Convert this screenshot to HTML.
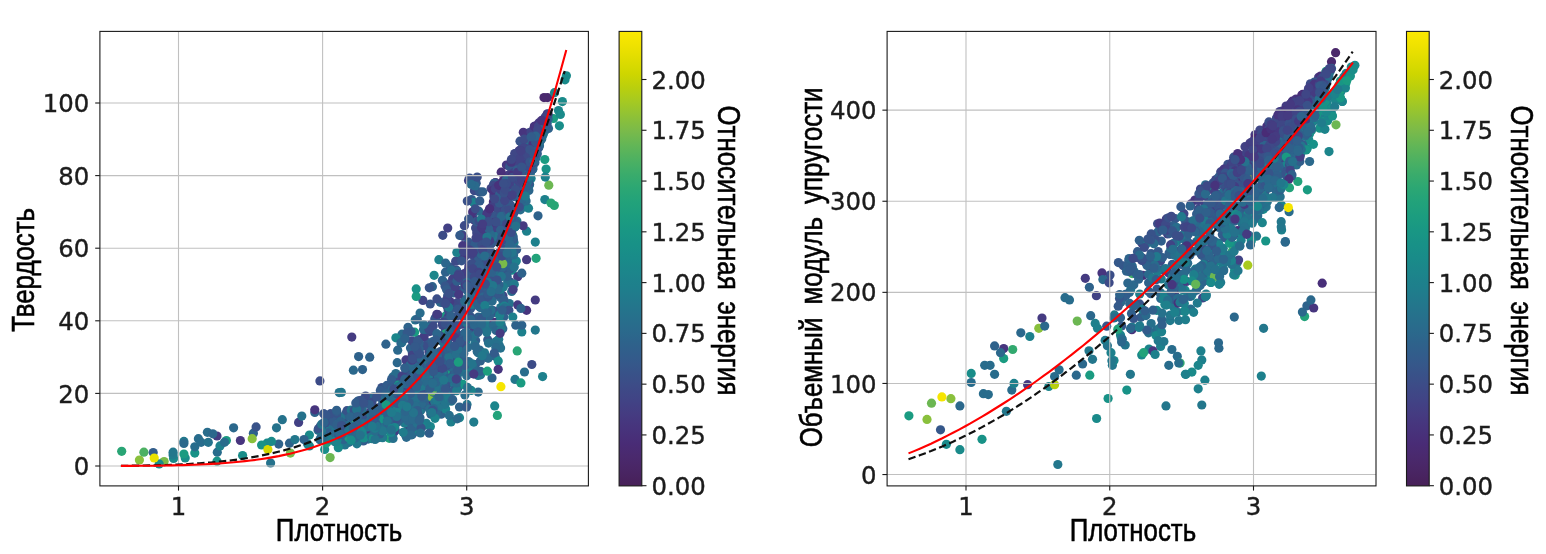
<!DOCTYPE html>
<html lang="ru"><head><meta charset="utf-8"><title>Плотность</title>
<style>html,body{margin:0;padding:0;background:#fff}svg{display:block;will-change:transform}</style></head>
<body>
<svg width="1546" height="554" viewBox="0 0 1546 554">
<defs><linearGradient id="vg" x1="0" y1="1" x2="0" y2="0">
<stop offset="0.0000" stop-color="#472058"/>
<stop offset="0.0312" stop-color="#492563"/>
<stop offset="0.0625" stop-color="#4a296d"/>
<stop offset="0.0938" stop-color="#492c76"/>
<stop offset="0.1250" stop-color="#47337c"/>
<stop offset="0.1562" stop-color="#453b81"/>
<stop offset="0.1875" stop-color="#414385"/>
<stop offset="0.2188" stop-color="#3d4b87"/>
<stop offset="0.2500" stop-color="#385389"/>
<stop offset="0.2812" stop-color="#335b8b"/>
<stop offset="0.3125" stop-color="#2e628b"/>
<stop offset="0.3438" stop-color="#2a6a8c"/>
<stop offset="0.3750" stop-color="#26718c"/>
<stop offset="0.4062" stop-color="#22788c"/>
<stop offset="0.4375" stop-color="#1e7f8c"/>
<stop offset="0.4688" stop-color="#1c858b"/>
<stop offset="0.5000" stop-color="#198b89"/>
<stop offset="0.5312" stop-color="#189187"/>
<stop offset="0.5625" stop-color="#199784"/>
<stop offset="0.5938" stop-color="#1c9d7f"/>
<stop offset="0.6250" stop-color="#22a27a"/>
<stop offset="0.6562" stop-color="#2ca773"/>
<stop offset="0.6875" stop-color="#3bac6b"/>
<stop offset="0.7188" stop-color="#4eb161"/>
<stop offset="0.7500" stop-color="#63b656"/>
<stop offset="0.7812" stop-color="#7aba4a"/>
<stop offset="0.8125" stop-color="#8ec137"/>
<stop offset="0.8438" stop-color="#a4c923"/>
<stop offset="0.8750" stop-color="#b9cf0e"/>
<stop offset="0.9062" stop-color="#ced600"/>
<stop offset="0.9375" stop-color="#dfdc00"/>
<stop offset="0.9688" stop-color="#efe200"/>
<stop offset="1.0000" stop-color="#fbe800"/>
</linearGradient>
<clipPath id="cl"><rect x="99.9" y="31.4" width="488.5" height="454.5"/></clipPath>
<clipPath id="cr"><rect x="887.1" y="31.4" width="488.9" height="454.5"/></clipPath>
</defs>
<rect width="1546" height="554" fill="#fff"/>
<g clip-path="url(#cl)">
<circle cx="460.4" cy="343.2" r="4.6" fill="#2b698c"/><circle cx="470.6" cy="297.1" r="4.6" fill="#3d4a87"/><circle cx="491.1" cy="277.3" r="4.6" fill="#276f8c"/><circle cx="523.4" cy="171.8" r="4.6" fill="#36568a"/><circle cx="467.0" cy="404.4" r="4.6" fill="#24738c"/><circle cx="538.1" cy="134.2" r="4.6" fill="#453980"/><circle cx="516.4" cy="208.8" r="4.6" fill="#305f8b"/><circle cx="429.9" cy="401.2" r="4.6" fill="#30608b"/><circle cx="407.3" cy="400.9" r="4.6" fill="#2f618b"/><circle cx="499.1" cy="345.1" r="4.6" fill="#25728c"/><circle cx="351.8" cy="337.1" r="4.6" fill="#453b81"/><circle cx="457.9" cy="380.8" r="4.6" fill="#1d818c"/><circle cx="474.3" cy="249.4" r="4.6" fill="#3b4c88"/><circle cx="349.0" cy="442.3" r="4.6" fill="#286c8c"/><circle cx="337.2" cy="441.4" r="4.6" fill="#276f8c"/><circle cx="432.4" cy="286.7" r="4.6" fill="#2e628b"/><circle cx="387.2" cy="429.6" r="4.6" fill="#21798c"/><circle cx="511.5" cy="168.1" r="4.6" fill="#453a81"/><circle cx="467.6" cy="300.5" r="4.6" fill="#22798c"/><circle cx="405.2" cy="419.3" r="4.6" fill="#2d658c"/><circle cx="353.5" cy="435.8" r="4.6" fill="#276e8c"/><circle cx="509.6" cy="237.0" r="4.6" fill="#30608b"/><circle cx="415.2" cy="319.9" r="4.6" fill="#25728c"/><circle cx="339.5" cy="434.8" r="4.6" fill="#25728c"/><circle cx="363.3" cy="424.2" r="4.6" fill="#276f8c"/><circle cx="496.3" cy="342.0" r="4.6" fill="#1f7d8c"/><circle cx="529.7" cy="134.6" r="4.6" fill="#47347d"/><circle cx="481.5" cy="233.6" r="4.6" fill="#3d4a87"/><circle cx="430.4" cy="426.5" r="4.6" fill="#1b878b"/><circle cx="400.9" cy="379.2" r="4.6" fill="#2e628b"/><circle cx="498.2" cy="312.5" r="4.6" fill="#217a8c"/><circle cx="513.6" cy="181.6" r="4.6" fill="#453980"/><circle cx="501.6" cy="236.8" r="4.6" fill="#2d648c"/><circle cx="415.1" cy="362.0" r="4.6" fill="#453980"/><circle cx="545.6" cy="124.9" r="4.6" fill="#2e628b"/><circle cx="440.3" cy="302.3" r="4.6" fill="#2b688c"/><circle cx="463.2" cy="371.4" r="4.6" fill="#24748c"/><circle cx="364.9" cy="436.9" r="4.6" fill="#22778c"/><circle cx="458.5" cy="383.1" r="4.6" fill="#37558a"/><circle cx="389.3" cy="422.6" r="4.6" fill="#25728c"/><circle cx="380.7" cy="393.0" r="4.6" fill="#3d4b87"/><circle cx="475.5" cy="364.6" r="4.6" fill="#34598a"/><circle cx="479.6" cy="291.6" r="4.6" fill="#345a8a"/><circle cx="404.7" cy="407.5" r="4.6" fill="#2d658c"/><circle cx="527.7" cy="152.3" r="4.6" fill="#404586"/><circle cx="397.7" cy="350.2" r="4.6" fill="#2b688c"/><circle cx="518.5" cy="198.1" r="4.6" fill="#2b688c"/><circle cx="488.5" cy="297.0" r="4.6" fill="#2f618b"/><circle cx="487.7" cy="339.7" r="4.6" fill="#34598a"/><circle cx="488.3" cy="357.9" r="4.6" fill="#36568a"/><circle cx="343.5" cy="419.6" r="4.6" fill="#2b698c"/><circle cx="444.2" cy="348.4" r="4.6" fill="#21798c"/><circle cx="500.7" cy="236.6" r="4.6" fill="#443d82"/><circle cx="462.0" cy="257.9" r="4.6" fill="#25728c"/><circle cx="387.0" cy="391.2" r="4.6" fill="#2a6a8c"/><circle cx="503.0" cy="301.2" r="4.6" fill="#22778c"/><circle cx="390.6" cy="418.0" r="4.6" fill="#23778c"/><circle cx="423.4" cy="390.6" r="4.6" fill="#198d89"/><circle cx="406.2" cy="413.2" r="4.6" fill="#3a5088"/><circle cx="475.6" cy="228.0" r="4.6" fill="#3c4b87"/><circle cx="416.2" cy="370.9" r="4.6" fill="#25728c"/><circle cx="458.9" cy="341.4" r="4.6" fill="#315e8b"/><circle cx="459.6" cy="290.7" r="4.6" fill="#3b4e88"/><circle cx="470.4" cy="321.3" r="4.6" fill="#305f8b"/><circle cx="474.4" cy="190.7" r="4.6" fill="#3d4a87"/><circle cx="396.5" cy="382.0" r="4.6" fill="#2e638c"/><circle cx="451.2" cy="336.6" r="4.6" fill="#35588a"/><circle cx="444.6" cy="371.7" r="4.6" fill="#35578a"/><circle cx="546.2" cy="121.1" r="4.6" fill="#3b4d88"/><circle cx="456.5" cy="270.2" r="4.6" fill="#3b4e88"/><circle cx="372.4" cy="406.8" r="4.6" fill="#395189"/><circle cx="351.5" cy="430.5" r="4.6" fill="#305f8b"/><circle cx="488.3" cy="320.4" r="4.6" fill="#2a6a8c"/><circle cx="459.9" cy="363.5" r="4.6" fill="#315e8b"/><circle cx="443.0" cy="375.9" r="4.6" fill="#37558a"/><circle cx="501.1" cy="192.2" r="4.6" fill="#47337c"/><circle cx="520.7" cy="208.8" r="4.6" fill="#2a6a8c"/><circle cx="529.6" cy="184.8" r="4.6" fill="#26708c"/><circle cx="390.6" cy="405.7" r="4.6" fill="#325d8b"/><circle cx="459.4" cy="354.7" r="4.6" fill="#34598a"/><circle cx="507.7" cy="249.2" r="4.6" fill="#24748c"/><circle cx="530.4" cy="160.5" r="4.6" fill="#3a5088"/><circle cx="479.6" cy="350.1" r="4.6" fill="#2c668c"/><circle cx="456.4" cy="338.6" r="4.6" fill="#286d8c"/><circle cx="464.9" cy="284.9" r="4.6" fill="#189486"/><circle cx="374.8" cy="419.1" r="4.6" fill="#335b8b"/><circle cx="375.6" cy="422.9" r="4.6" fill="#1e7f8c"/><circle cx="370.9" cy="430.5" r="4.6" fill="#1a898a"/><circle cx="445.4" cy="316.2" r="4.6" fill="#1b9b80"/><circle cx="477.7" cy="235.7" r="4.6" fill="#463880"/><circle cx="373.1" cy="431.9" r="4.6" fill="#24748c"/><circle cx="372.9" cy="398.3" r="4.6" fill="#2e638c"/><circle cx="531.1" cy="178.5" r="4.6" fill="#1d818c"/><circle cx="389.3" cy="438.3" r="4.6" fill="#1f9f7c"/><circle cx="417.0" cy="412.7" r="4.6" fill="#315e8b"/><circle cx="508.4" cy="224.2" r="4.6" fill="#35588a"/><circle cx="513.7" cy="163.3" r="4.6" fill="#424084"/><circle cx="344.9" cy="444.9" r="4.6" fill="#24748c"/><circle cx="520.0" cy="186.9" r="4.6" fill="#296b8c"/><circle cx="535.4" cy="139.8" r="4.6" fill="#3e4987"/><circle cx="326.9" cy="428.6" r="4.6" fill="#23758c"/><circle cx="534.9" cy="162.8" r="4.6" fill="#2d658c"/><circle cx="505.3" cy="221.9" r="4.6" fill="#424084"/><circle cx="424.0" cy="387.3" r="4.6" fill="#36568a"/><circle cx="368.8" cy="415.3" r="4.6" fill="#3a4f88"/><circle cx="185.2" cy="458.0" r="4.6" fill="#198d89"/><circle cx="468.6" cy="283.3" r="4.6" fill="#37558a"/><circle cx="516.8" cy="156.1" r="4.6" fill="#492e78"/><circle cx="351.0" cy="436.4" r="4.6" fill="#1e7f8c"/><circle cx="486.2" cy="292.9" r="4.6" fill="#36568a"/><circle cx="449.8" cy="359.6" r="4.6" fill="#305f8b"/><circle cx="532.4" cy="160.9" r="4.6" fill="#37558a"/><circle cx="314.8" cy="412.5" r="4.6" fill="#2e628b"/><circle cx="444.5" cy="348.6" r="4.6" fill="#23768c"/><circle cx="479.6" cy="191.9" r="4.6" fill="#35578a"/><circle cx="324.7" cy="449.5" r="4.6" fill="#198d89"/><circle cx="462.4" cy="348.4" r="4.6" fill="#24748c"/><circle cx="478.6" cy="236.0" r="4.6" fill="#46367e"/><circle cx="364.9" cy="433.4" r="4.6" fill="#1e7f8c"/><circle cx="298.6" cy="422.4" r="4.6" fill="#424084"/><circle cx="434.9" cy="364.2" r="4.6" fill="#385289"/><circle cx="382.5" cy="418.6" r="4.6" fill="#335b8b"/><circle cx="488.3" cy="241.2" r="4.6" fill="#443d82"/><circle cx="482.6" cy="328.7" r="4.6" fill="#1f7e8c"/><circle cx="524.7" cy="165.6" r="4.6" fill="#325d8b"/><circle cx="408.8" cy="418.1" r="4.6" fill="#24748c"/><circle cx="439.9" cy="370.9" r="4.6" fill="#3b4e88"/><circle cx="472.6" cy="324.2" r="4.6" fill="#296b8c"/><circle cx="509.9" cy="281.8" r="4.6" fill="#385289"/><circle cx="329.0" cy="437.2" r="4.6" fill="#23778c"/><circle cx="359.5" cy="435.6" r="4.6" fill="#325d8b"/><circle cx="532.1" cy="149.6" r="4.6" fill="#325c8b"/><circle cx="480.6" cy="374.8" r="4.6" fill="#25728c"/><circle cx="469.5" cy="277.4" r="4.6" fill="#482f79"/><circle cx="423.2" cy="371.8" r="4.6" fill="#3d4a87"/><circle cx="426.0" cy="377.6" r="4.6" fill="#286c8c"/><circle cx="455.6" cy="346.7" r="4.6" fill="#3e4987"/><circle cx="512.8" cy="216.1" r="4.6" fill="#395189"/><circle cx="544.4" cy="126.6" r="4.6" fill="#3e4886"/><circle cx="343.9" cy="434.6" r="4.6" fill="#23778c"/><circle cx="386.1" cy="427.1" r="4.6" fill="#24738c"/><circle cx="502.9" cy="295.7" r="4.6" fill="#404586"/><circle cx="528.5" cy="186.3" r="4.6" fill="#24748c"/><circle cx="544.8" cy="118.0" r="4.6" fill="#3b4d88"/><circle cx="447.4" cy="357.0" r="4.6" fill="#2f618b"/><circle cx="240.4" cy="440.5" r="4.6" fill="#47357e"/><circle cx="452.9" cy="364.4" r="4.6" fill="#24738c"/><circle cx="242.6" cy="455.5" r="4.6" fill="#198d89"/><circle cx="391.0" cy="403.7" r="4.6" fill="#3a4f88"/><circle cx="475.1" cy="256.4" r="4.6" fill="#2e628b"/><circle cx="441.9" cy="341.3" r="4.6" fill="#325d8b"/><circle cx="512.4" cy="192.1" r="4.6" fill="#3e4987"/><circle cx="522.1" cy="200.8" r="4.6" fill="#35578a"/><circle cx="468.6" cy="361.5" r="4.6" fill="#296b8c"/><circle cx="538.9" cy="127.3" r="4.6" fill="#3b4e88"/><circle cx="407.2" cy="399.2" r="4.6" fill="#25728c"/><circle cx="374.7" cy="414.5" r="4.6" fill="#2d648c"/><circle cx="469.8" cy="305.9" r="4.6" fill="#404485"/><circle cx="430.9" cy="414.2" r="4.6" fill="#2e628b"/><circle cx="500.9" cy="386.7" r="4.6" fill="#f6e500"/><circle cx="437.3" cy="397.7" r="4.6" fill="#2d658c"/><circle cx="455.1" cy="275.0" r="4.6" fill="#2d648c"/><circle cx="469.6" cy="247.4" r="4.6" fill="#3d4b87"/><circle cx="226.4" cy="440.5" r="4.6" fill="#1a9b81"/><circle cx="512.3" cy="234.5" r="4.6" fill="#4cb062"/><circle cx="520.4" cy="159.6" r="4.6" fill="#414385"/><circle cx="428.9" cy="352.1" r="4.6" fill="#433e83"/><circle cx="421.9" cy="408.1" r="4.6" fill="#47367e"/><circle cx="545.8" cy="126.6" r="4.6" fill="#305f8b"/><circle cx="437.8" cy="314.7" r="4.6" fill="#443d82"/><circle cx="521.9" cy="187.7" r="4.6" fill="#3b4d88"/><circle cx="420.9" cy="401.6" r="4.6" fill="#1c848b"/><circle cx="426.5" cy="404.0" r="4.6" fill="#34598a"/><circle cx="430.3" cy="348.8" r="4.6" fill="#443c82"/><circle cx="473.2" cy="213.2" r="4.6" fill="#385289"/><circle cx="427.0" cy="380.6" r="4.6" fill="#2d658c"/><circle cx="380.8" cy="406.4" r="4.6" fill="#3d4a87"/><circle cx="427.7" cy="342.5" r="4.6" fill="#36568a"/><circle cx="510.3" cy="222.0" r="4.6" fill="#375489"/><circle cx="381.8" cy="387.5" r="4.6" fill="#385289"/><circle cx="432.7" cy="397.7" r="4.6" fill="#25728c"/><circle cx="487.4" cy="296.7" r="4.6" fill="#2d648c"/><circle cx="353.3" cy="436.0" r="4.6" fill="#2c668c"/><circle cx="473.6" cy="326.7" r="4.6" fill="#35588a"/><circle cx="423.1" cy="405.2" r="4.6" fill="#2f618b"/><circle cx="332.3" cy="439.0" r="4.6" fill="#21798c"/><circle cx="516.9" cy="190.2" r="4.6" fill="#424084"/><circle cx="430.2" cy="304.0" r="4.6" fill="#375489"/><circle cx="500.1" cy="323.6" r="4.6" fill="#2f618b"/><circle cx="484.5" cy="326.7" r="4.6" fill="#217a8c"/><circle cx="509.0" cy="191.2" r="4.6" fill="#395189"/><circle cx="424.1" cy="425.3" r="4.6" fill="#1d828c"/><circle cx="491.1" cy="188.5" r="4.6" fill="#414385"/><circle cx="498.1" cy="204.6" r="4.6" fill="#3b4d88"/><circle cx="433.8" cy="386.6" r="4.6" fill="#24748c"/><circle cx="419.7" cy="375.6" r="4.6" fill="#34598a"/><circle cx="393.5" cy="431.3" r="4.6" fill="#23758c"/><circle cx="408.1" cy="423.0" r="4.6" fill="#26718c"/><circle cx="500.7" cy="307.6" r="4.6" fill="#26718c"/><circle cx="413.2" cy="432.8" r="4.6" fill="#47357e"/><circle cx="379.7" cy="410.6" r="4.6" fill="#2d648c"/><circle cx="448.1" cy="310.1" r="4.6" fill="#2e638c"/><circle cx="434.1" cy="275.3" r="4.6" fill="#1c858b"/><circle cx="509.3" cy="270.4" r="4.6" fill="#2c678c"/><circle cx="435.2" cy="378.1" r="4.6" fill="#305f8b"/><circle cx="448.9" cy="303.9" r="4.6" fill="#3e4987"/><circle cx="466.1" cy="340.7" r="4.6" fill="#1d808c"/><circle cx="450.0" cy="380.1" r="4.6" fill="#23768c"/><circle cx="485.3" cy="288.9" r="4.6" fill="#325d8b"/><circle cx="496.1" cy="341.6" r="4.6" fill="#25728c"/><circle cx="393.9" cy="432.2" r="4.6" fill="#296b8c"/><circle cx="372.4" cy="415.0" r="4.6" fill="#404586"/><circle cx="325.5" cy="436.5" r="4.6" fill="#22798c"/><circle cx="523.8" cy="204.1" r="4.6" fill="#1c848b"/><circle cx="421.1" cy="410.0" r="4.6" fill="#25728c"/><circle cx="493.0" cy="267.1" r="4.6" fill="#3e4886"/><circle cx="495.5" cy="219.5" r="4.6" fill="#3f4786"/><circle cx="484.6" cy="266.5" r="4.6" fill="#325c8b"/><circle cx="518.0" cy="208.2" r="4.6" fill="#34598a"/><circle cx="501.4" cy="198.4" r="4.6" fill="#404586"/><circle cx="453.4" cy="346.5" r="4.6" fill="#375489"/><circle cx="449.6" cy="301.4" r="4.6" fill="#3b4e88"/><circle cx="517.2" cy="350.9" r="4.6" fill="#29a575"/><circle cx="498.1" cy="211.2" r="4.6" fill="#404485"/><circle cx="431.0" cy="412.3" r="4.6" fill="#2e638c"/><circle cx="407.9" cy="424.9" r="4.6" fill="#47357e"/><circle cx="537.7" cy="128.6" r="4.6" fill="#443d82"/><circle cx="326.9" cy="429.5" r="4.6" fill="#2f618b"/><circle cx="458.2" cy="387.5" r="4.6" fill="#3a4f88"/><circle cx="498.1" cy="323.2" r="4.6" fill="#25728c"/><circle cx="434.2" cy="395.4" r="4.6" fill="#2a6a8c"/><circle cx="445.5" cy="272.2" r="4.6" fill="#2e628b"/><circle cx="368.8" cy="426.8" r="4.6" fill="#2b688c"/><circle cx="460.6" cy="366.6" r="4.6" fill="#25728c"/><circle cx="437.9" cy="377.5" r="4.6" fill="#414385"/><circle cx="498.7" cy="339.3" r="4.6" fill="#23778c"/><circle cx="363.2" cy="422.0" r="4.6" fill="#2e638c"/><circle cx="424.2" cy="394.9" r="4.6" fill="#37558a"/><circle cx="183.9" cy="454.0" r="4.6" fill="#1a9b81"/><circle cx="538.2" cy="147.8" r="4.6" fill="#296b8c"/><circle cx="444.6" cy="282.9" r="4.6" fill="#2a6a8c"/><circle cx="346.6" cy="414.0" r="4.6" fill="#2e628b"/><circle cx="436.9" cy="389.5" r="4.6" fill="#24748c"/><circle cx="523.7" cy="162.4" r="4.6" fill="#34598a"/><circle cx="469.1" cy="321.7" r="4.6" fill="#22778c"/><circle cx="434.0" cy="386.7" r="4.6" fill="#2e628b"/><circle cx="520.4" cy="209.8" r="4.6" fill="#286d8c"/><circle cx="520.7" cy="186.6" r="4.6" fill="#35578a"/><circle cx="401.7" cy="378.5" r="4.6" fill="#23768c"/><circle cx="523.7" cy="182.5" r="4.6" fill="#3a4f88"/><circle cx="390.6" cy="416.5" r="4.6" fill="#1b878b"/><circle cx="276.5" cy="427.8" r="4.6" fill="#25728c"/><circle cx="535.4" cy="136.8" r="4.6" fill="#433f83"/><circle cx="474.5" cy="220.3" r="4.6" fill="#47347d"/><circle cx="320.3" cy="426.4" r="4.6" fill="#3b4d88"/><circle cx="362.5" cy="369.6" r="4.6" fill="#2e628b"/><circle cx="478.1" cy="352.7" r="4.6" fill="#23768c"/><circle cx="377.8" cy="417.0" r="4.6" fill="#24748c"/><circle cx="449.0" cy="378.9" r="4.6" fill="#414285"/><circle cx="494.1" cy="269.9" r="4.6" fill="#385289"/><circle cx="527.2" cy="179.3" r="4.6" fill="#2e628b"/><circle cx="516.9" cy="221.0" r="4.6" fill="#23768c"/><circle cx="425.3" cy="397.4" r="4.6" fill="#22788c"/><circle cx="519.7" cy="173.8" r="4.6" fill="#453a81"/><circle cx="371.9" cy="417.7" r="4.6" fill="#3f4686"/><circle cx="418.6" cy="339.5" r="4.6" fill="#3b4d88"/><circle cx="488.1" cy="234.3" r="4.6" fill="#3e4886"/><circle cx="494.7" cy="405.9" r="4.6" fill="#1c858b"/><circle cx="462.1" cy="309.4" r="4.6" fill="#3c4b87"/><circle cx="497.6" cy="321.8" r="4.6" fill="#198d89"/><circle cx="484.8" cy="248.1" r="4.6" fill="#3f4786"/><circle cx="488.5" cy="261.8" r="4.6" fill="#305f8b"/><circle cx="462.7" cy="324.2" r="4.6" fill="#433e83"/><circle cx="350.7" cy="439.2" r="4.6" fill="#1a8a8a"/><circle cx="540.8" cy="140.2" r="4.6" fill="#315e8b"/><circle cx="511.6" cy="245.4" r="4.6" fill="#315e8b"/><circle cx="472.7" cy="365.2" r="4.6" fill="#286d8c"/><circle cx="437.3" cy="383.3" r="4.6" fill="#22798c"/><circle cx="411.3" cy="375.4" r="4.6" fill="#315e8b"/><circle cx="335.8" cy="435.8" r="4.6" fill="#2b688c"/><circle cx="502.6" cy="185.7" r="4.6" fill="#2c678c"/><circle cx="483.3" cy="229.6" r="4.6" fill="#3f4686"/><circle cx="344.1" cy="430.7" r="4.6" fill="#22798c"/><circle cx="355.1" cy="431.4" r="4.6" fill="#35578a"/><circle cx="503.7" cy="255.0" r="4.6" fill="#2d658c"/><circle cx="445.2" cy="384.0" r="4.6" fill="#286d8c"/><circle cx="501.2" cy="324.5" r="4.6" fill="#24748c"/><circle cx="383.8" cy="395.1" r="4.6" fill="#34598a"/><circle cx="506.4" cy="165.1" r="4.6" fill="#463880"/><circle cx="470.0" cy="293.1" r="4.6" fill="#3d4b87"/><circle cx="465.3" cy="318.6" r="4.6" fill="#414285"/><circle cx="515.8" cy="153.7" r="4.6" fill="#335c8b"/><circle cx="490.3" cy="218.4" r="4.6" fill="#3f4686"/><circle cx="139.4" cy="460.0" r="4.6" fill="#89c03c"/><circle cx="478.0" cy="324.1" r="4.6" fill="#2c678c"/><circle cx="420.4" cy="428.6" r="4.6" fill="#30608b"/><circle cx="441.2" cy="414.2" r="4.6" fill="#2f618b"/><circle cx="478.2" cy="392.1" r="4.6" fill="#296b8c"/><circle cx="446.9" cy="298.9" r="4.6" fill="#404586"/><circle cx="392.4" cy="419.8" r="4.6" fill="#3d4a87"/><circle cx="369.7" cy="357.2" r="4.6" fill="#2e628b"/><circle cx="477.8" cy="286.6" r="4.6" fill="#3a4f88"/><circle cx="496.2" cy="294.8" r="4.6" fill="#325c8b"/><circle cx="427.7" cy="366.7" r="4.6" fill="#3b4e88"/><circle cx="459.5" cy="407.0" r="4.6" fill="#2e628b"/><circle cx="378.3" cy="422.0" r="4.6" fill="#286e8c"/><circle cx="368.1" cy="439.1" r="4.6" fill="#2a6a8c"/><circle cx="526.6" cy="310.3" r="4.6" fill="#47357e"/><circle cx="491.3" cy="240.4" r="4.6" fill="#3e4987"/><circle cx="402.0" cy="334.2" r="4.6" fill="#2a6a8c"/><circle cx="519.1" cy="150.7" r="4.6" fill="#46377f"/><circle cx="528.7" cy="176.8" r="4.6" fill="#24738c"/><circle cx="335.0" cy="414.3" r="4.6" fill="#35578a"/><circle cx="494.1" cy="322.3" r="4.6" fill="#48327c"/><circle cx="457.5" cy="374.5" r="4.6" fill="#286d8c"/><circle cx="503.7" cy="259.0" r="4.6" fill="#2c668c"/><circle cx="447.1" cy="305.9" r="4.6" fill="#26708c"/><circle cx="411.8" cy="390.3" r="4.6" fill="#345a8a"/><circle cx="535.9" cy="127.5" r="4.6" fill="#433e83"/><circle cx="477.6" cy="351.2" r="4.6" fill="#26718c"/><circle cx="553.5" cy="118.5" r="4.6" fill="#1a9b81"/><circle cx="491.3" cy="236.1" r="4.6" fill="#375489"/><circle cx="350.7" cy="432.1" r="4.6" fill="#207b8c"/><circle cx="456.4" cy="345.2" r="4.6" fill="#315e8b"/><circle cx="391.4" cy="386.8" r="4.6" fill="#23778c"/><circle cx="217.3" cy="452.2" r="4.6" fill="#286c8c"/><circle cx="493.4" cy="201.7" r="4.6" fill="#492c77"/><circle cx="509.0" cy="203.3" r="4.6" fill="#395189"/><circle cx="492.8" cy="230.2" r="4.6" fill="#36568a"/><circle cx="495.7" cy="261.7" r="4.6" fill="#24748c"/><circle cx="463.7" cy="359.6" r="4.6" fill="#325c8b"/><circle cx="406.8" cy="381.6" r="4.6" fill="#276e8c"/><circle cx="507.8" cy="281.7" r="4.6" fill="#2a6a8c"/><circle cx="508.4" cy="252.9" r="4.6" fill="#296b8c"/><circle cx="481.4" cy="317.5" r="4.6" fill="#3b4c88"/><circle cx="414.2" cy="396.1" r="4.6" fill="#325c8b"/><circle cx="496.9" cy="191.5" r="4.6" fill="#414285"/><circle cx="545.9" cy="116.8" r="4.6" fill="#395189"/><circle cx="392.8" cy="376.9" r="4.6" fill="#2b688c"/><circle cx="453.3" cy="320.5" r="4.6" fill="#2c678c"/><circle cx="404.7" cy="423.2" r="4.6" fill="#207b8c"/><circle cx="451.3" cy="358.5" r="4.6" fill="#286c8c"/><circle cx="377.1" cy="415.4" r="4.6" fill="#26708c"/><circle cx="463.0" cy="384.4" r="4.6" fill="#189685"/><circle cx="530.1" cy="167.0" r="4.6" fill="#345a8a"/><circle cx="510.2" cy="267.8" r="4.6" fill="#2e628b"/><circle cx="468.7" cy="319.9" r="4.6" fill="#325d8b"/><circle cx="476.2" cy="183.3" r="4.6" fill="#34598a"/><circle cx="528.2" cy="156.7" r="4.6" fill="#404586"/><circle cx="432.5" cy="392.4" r="4.6" fill="#1b868b"/><circle cx="523.1" cy="141.8" r="4.6" fill="#47347d"/><circle cx="360.4" cy="440.2" r="4.6" fill="#2e638c"/><circle cx="529.0" cy="183.7" r="4.6" fill="#37558a"/><circle cx="467.6" cy="365.9" r="4.6" fill="#276f8c"/><circle cx="517.8" cy="152.5" r="4.6" fill="#3e4886"/><circle cx="358.0" cy="401.3" r="4.6" fill="#3e4886"/><circle cx="535.5" cy="134.8" r="4.6" fill="#404485"/><circle cx="478.5" cy="317.1" r="4.6" fill="#2f618b"/><circle cx="376.3" cy="413.9" r="4.6" fill="#2b688c"/><circle cx="309.4" cy="435.1" r="4.6" fill="#1a8a8a"/><circle cx="405.0" cy="433.9" r="4.6" fill="#25728c"/><circle cx="476.4" cy="273.3" r="4.6" fill="#3b4e88"/><circle cx="373.4" cy="396.8" r="4.6" fill="#2f618b"/><circle cx="514.7" cy="221.3" r="4.6" fill="#2e638c"/><circle cx="533.6" cy="137.2" r="4.6" fill="#443d82"/><circle cx="503.9" cy="248.6" r="4.6" fill="#3a5088"/><circle cx="409.5" cy="397.5" r="4.6" fill="#35578a"/><circle cx="514.0" cy="242.4" r="4.6" fill="#217a8c"/><circle cx="350.7" cy="430.0" r="4.6" fill="#23778c"/><circle cx="447.4" cy="384.1" r="4.6" fill="#414385"/><circle cx="496.5" cy="194.6" r="4.6" fill="#414285"/><circle cx="489.5" cy="274.4" r="4.6" fill="#22778c"/><circle cx="424.1" cy="336.6" r="4.6" fill="#433e83"/><circle cx="354.2" cy="413.6" r="4.6" fill="#35578a"/><circle cx="422.0" cy="398.0" r="4.6" fill="#2a6a8c"/><circle cx="429.0" cy="375.3" r="4.6" fill="#217a8c"/><circle cx="422.9" cy="300.4" r="4.6" fill="#3f4686"/><circle cx="528.9" cy="140.7" r="4.6" fill="#443d82"/><circle cx="512.2" cy="270.2" r="4.6" fill="#1a8a8a"/><circle cx="496.6" cy="238.4" r="4.6" fill="#404586"/><circle cx="397.2" cy="411.0" r="4.6" fill="#345a8a"/><circle cx="476.7" cy="232.9" r="4.6" fill="#3e4886"/><circle cx="530.1" cy="139.7" r="4.6" fill="#433e83"/><circle cx="473.9" cy="331.5" r="4.6" fill="#433e83"/><circle cx="434.2" cy="361.3" r="4.6" fill="#3a5088"/><circle cx="421.0" cy="368.5" r="4.6" fill="#2d658c"/><circle cx="528.6" cy="180.2" r="4.6" fill="#305f8b"/><circle cx="362.6" cy="427.7" r="4.6" fill="#276e8c"/><circle cx="495.4" cy="182.6" r="4.6" fill="#492c77"/><circle cx="537.3" cy="153.7" r="4.6" fill="#325c8b"/><circle cx="494.1" cy="312.5" r="4.6" fill="#325c8b"/><circle cx="326.7" cy="442.7" r="4.6" fill="#1fa07c"/><circle cx="412.3" cy="380.0" r="4.6" fill="#482f79"/><circle cx="217.0" cy="436.0" r="4.6" fill="#453b81"/><circle cx="445.1" cy="350.3" r="4.6" fill="#305f8b"/><circle cx="537.3" cy="134.6" r="4.6" fill="#3a4f88"/><circle cx="495.6" cy="221.1" r="4.6" fill="#3d4a87"/><circle cx="529.7" cy="138.0" r="4.6" fill="#3b4c88"/><circle cx="525.6" cy="143.8" r="4.6" fill="#3f4686"/><circle cx="360.2" cy="403.1" r="4.6" fill="#37558a"/><circle cx="483.1" cy="276.2" r="4.6" fill="#335b8b"/><circle cx="530.1" cy="173.8" r="4.6" fill="#325d8b"/><circle cx="392.3" cy="382.2" r="4.6" fill="#35578a"/><circle cx="475.6" cy="340.5" r="4.6" fill="#315d8b"/><circle cx="328.1" cy="422.2" r="4.6" fill="#325d8b"/><circle cx="334.7" cy="431.6" r="4.6" fill="#30608b"/><circle cx="512.3" cy="236.2" r="4.6" fill="#345a8a"/><circle cx="491.1" cy="229.5" r="4.6" fill="#2d648c"/><circle cx="500.2" cy="294.4" r="4.6" fill="#276e8c"/><circle cx="445.0" cy="393.3" r="4.6" fill="#296b8c"/><circle cx="446.9" cy="330.4" r="4.6" fill="#34598a"/><circle cx="496.3" cy="344.3" r="4.6" fill="#276f8c"/><circle cx="405.9" cy="359.9" r="4.6" fill="#433e83"/><circle cx="463.5" cy="317.5" r="4.6" fill="#443d82"/><circle cx="467.4" cy="371.5" r="4.6" fill="#26708c"/><circle cx="441.9" cy="359.2" r="4.6" fill="#345a8a"/><circle cx="442.0" cy="398.2" r="4.6" fill="#2e628b"/><circle cx="374.2" cy="423.5" r="4.6" fill="#22798c"/><circle cx="331.0" cy="428.7" r="4.6" fill="#28a575"/><circle cx="520.6" cy="205.5" r="4.6" fill="#315e8b"/><circle cx="512.7" cy="181.5" r="4.6" fill="#385289"/><circle cx="514.9" cy="227.0" r="4.6" fill="#26708c"/><circle cx="425.3" cy="362.2" r="4.6" fill="#2b698c"/><circle cx="366.0" cy="425.5" r="4.6" fill="#25728c"/><circle cx="482.1" cy="242.0" r="4.6" fill="#47357e"/><circle cx="540.0" cy="139.8" r="4.6" fill="#2c678c"/><circle cx="441.2" cy="389.1" r="4.6" fill="#24748c"/><circle cx="474.6" cy="344.7" r="4.6" fill="#25728c"/><circle cx="465.7" cy="275.0" r="4.6" fill="#36568a"/><circle cx="455.3" cy="317.7" r="4.6" fill="#453980"/><circle cx="499.5" cy="212.3" r="4.6" fill="#335b8b"/><circle cx="267.0" cy="443.2" r="4.6" fill="#1a8a8a"/><circle cx="379.7" cy="429.0" r="4.6" fill="#2d648c"/><circle cx="546.9" cy="118.7" r="4.6" fill="#3a5088"/><circle cx="498.9" cy="200.3" r="4.6" fill="#414285"/><circle cx="461.5" cy="341.3" r="4.6" fill="#47357e"/><circle cx="358.6" cy="424.5" r="4.6" fill="#37558a"/><circle cx="345.5" cy="414.0" r="4.6" fill="#2f618b"/><circle cx="502.9" cy="256.8" r="4.6" fill="#24748c"/><circle cx="546.1" cy="169.0" r="4.6" fill="#189287"/><circle cx="384.1" cy="423.5" r="4.6" fill="#2d658c"/><circle cx="543.2" cy="131.6" r="4.6" fill="#30608b"/><circle cx="497.3" cy="276.1" r="4.6" fill="#35588a"/><circle cx="524.5" cy="190.8" r="4.6" fill="#23768c"/><circle cx="401.9" cy="410.9" r="4.6" fill="#21798c"/><circle cx="532.2" cy="163.4" r="4.6" fill="#2f618b"/><circle cx="445.5" cy="329.7" r="4.6" fill="#3b4e88"/><circle cx="447.7" cy="370.0" r="4.6" fill="#1c9d7f"/><circle cx="431.7" cy="371.2" r="4.6" fill="#26718c"/><circle cx="465.8" cy="273.4" r="4.6" fill="#305f8b"/><circle cx="526.6" cy="259.7" r="4.6" fill="#453b81"/><circle cx="523.4" cy="153.8" r="4.6" fill="#37558a"/><circle cx="537.9" cy="144.2" r="4.6" fill="#2e638c"/><circle cx="512.1" cy="172.6" r="4.6" fill="#424084"/><circle cx="464.9" cy="299.7" r="4.6" fill="#2d658c"/><circle cx="547.4" cy="113.8" r="4.6" fill="#414385"/><circle cx="444.6" cy="390.8" r="4.6" fill="#335b8b"/><circle cx="542.4" cy="123.4" r="4.6" fill="#424184"/><circle cx="501.1" cy="199.3" r="4.6" fill="#404586"/><circle cx="525.7" cy="140.0" r="4.6" fill="#47337c"/><circle cx="538.7" cy="147.8" r="4.6" fill="#35588a"/><circle cx="422.9" cy="365.4" r="4.6" fill="#3d4a87"/><circle cx="472.6" cy="276.6" r="4.6" fill="#433e83"/><circle cx="357.3" cy="431.9" r="4.6" fill="#22788c"/><circle cx="416.8" cy="406.1" r="4.6" fill="#276f8c"/><circle cx="365.6" cy="396.1" r="4.6" fill="#3b4e88"/><circle cx="422.3" cy="367.2" r="4.6" fill="#305f8b"/><circle cx="520.8" cy="190.4" r="4.6" fill="#2e628b"/><circle cx="422.6" cy="403.0" r="4.6" fill="#2d658c"/><circle cx="413.0" cy="369.8" r="4.6" fill="#3b4d88"/><circle cx="375.8" cy="430.5" r="4.6" fill="#375489"/><circle cx="486.3" cy="224.1" r="4.6" fill="#49b063"/><circle cx="484.6" cy="242.5" r="4.6" fill="#375489"/><circle cx="336.3" cy="428.3" r="4.6" fill="#1b9b81"/><circle cx="373.4" cy="425.8" r="4.6" fill="#207b8c"/><circle cx="412.2" cy="434.5" r="4.6" fill="#2f618b"/><circle cx="418.5" cy="370.5" r="4.6" fill="#276f8c"/><circle cx="352.1" cy="429.7" r="4.6" fill="#3a4f88"/><circle cx="473.9" cy="250.3" r="4.6" fill="#3e4886"/><circle cx="434.5" cy="372.3" r="4.6" fill="#36568a"/><circle cx="382.3" cy="433.7" r="4.6" fill="#1a8a8a"/><circle cx="491.7" cy="206.9" r="4.6" fill="#424084"/><circle cx="486.6" cy="240.2" r="4.6" fill="#433f83"/><circle cx="495.2" cy="356.3" r="4.6" fill="#2c678c"/><circle cx="498.3" cy="194.3" r="4.6" fill="#424084"/><circle cx="504.8" cy="258.7" r="4.6" fill="#37558a"/><circle cx="497.3" cy="259.6" r="4.6" fill="#325c8b"/><circle cx="501.4" cy="238.5" r="4.6" fill="#30608b"/><circle cx="471.2" cy="390.4" r="4.6" fill="#1c838b"/><circle cx="486.3" cy="214.4" r="4.6" fill="#345a8a"/><circle cx="413.0" cy="404.1" r="4.6" fill="#315e8b"/><circle cx="487.2" cy="227.7" r="4.6" fill="#404586"/><circle cx="531.9" cy="156.1" r="4.6" fill="#3c4b87"/><circle cx="558.5" cy="110.5" r="4.6" fill="#1c858b"/><circle cx="539.8" cy="132.8" r="4.6" fill="#414285"/><circle cx="405.9" cy="391.0" r="4.6" fill="#2e628b"/><circle cx="367.6" cy="433.1" r="4.6" fill="#1c848b"/><circle cx="463.4" cy="367.6" r="4.6" fill="#296c8c"/><circle cx="408.5" cy="389.4" r="4.6" fill="#1c858b"/><circle cx="377.9" cy="436.0" r="4.6" fill="#32a96f"/><circle cx="397.9" cy="395.7" r="4.6" fill="#315e8b"/><circle cx="509.1" cy="230.0" r="4.6" fill="#325c8b"/><circle cx="497.2" cy="228.1" r="4.6" fill="#414385"/><circle cx="516.3" cy="182.4" r="4.6" fill="#3a5088"/><circle cx="524.0" cy="177.1" r="4.6" fill="#3e4886"/><circle cx="464.6" cy="283.1" r="4.6" fill="#385389"/><circle cx="451.0" cy="421.9" r="4.6" fill="#1e7f8c"/><circle cx="527.2" cy="182.2" r="4.6" fill="#26708c"/><circle cx="540.0" cy="123.9" r="4.6" fill="#35588a"/><circle cx="479.5" cy="295.1" r="4.6" fill="#35578a"/><circle cx="502.6" cy="276.0" r="4.6" fill="#2d648c"/><circle cx="194.8" cy="453.1" r="4.6" fill="#189287"/><circle cx="444.1" cy="303.0" r="4.6" fill="#36568a"/><circle cx="290.4" cy="453.1" r="4.6" fill="#7aba4a"/><circle cx="449.3" cy="331.2" r="4.6" fill="#276e8c"/><circle cx="363.2" cy="415.8" r="4.6" fill="#35588a"/><circle cx="448.1" cy="317.1" r="4.6" fill="#414385"/><circle cx="431.6" cy="324.0" r="4.6" fill="#3e4886"/><circle cx="477.9" cy="250.9" r="4.6" fill="#315e8b"/><circle cx="385.6" cy="423.0" r="4.6" fill="#30608b"/><circle cx="417.1" cy="342.8" r="4.6" fill="#2a6a8c"/><circle cx="438.0" cy="409.6" r="4.6" fill="#404485"/><circle cx="524.2" cy="151.7" r="4.6" fill="#3e4987"/><circle cx="413.8" cy="383.1" r="4.6" fill="#2b688c"/><circle cx="478.1" cy="375.5" r="4.6" fill="#22788c"/><circle cx="432.7" cy="341.7" r="4.6" fill="#2d658c"/><circle cx="468.3" cy="269.4" r="4.6" fill="#3d4a87"/><circle cx="392.7" cy="383.1" r="4.6" fill="#2a6a8c"/><circle cx="560.4" cy="114.5" r="4.6" fill="#1a8a8a"/><circle cx="543.3" cy="134.2" r="4.6" fill="#23768c"/><circle cx="282.3" cy="419.7" r="4.6" fill="#25728c"/><circle cx="499.7" cy="221.4" r="4.6" fill="#414385"/><circle cx="397.8" cy="420.6" r="4.6" fill="#2e628b"/><circle cx="369.5" cy="430.7" r="4.6" fill="#286d8c"/><circle cx="440.5" cy="337.7" r="4.6" fill="#335b8b"/><circle cx="375.4" cy="429.6" r="4.6" fill="#2a6a8c"/><circle cx="449.7" cy="354.3" r="4.6" fill="#2c678c"/><circle cx="497.8" cy="209.2" r="4.6" fill="#3d4a87"/><circle cx="440.7" cy="396.0" r="4.6" fill="#2d658c"/><circle cx="468.4" cy="242.2" r="4.6" fill="#35578a"/><circle cx="493.1" cy="310.5" r="4.6" fill="#3a5088"/><circle cx="342.3" cy="431.6" r="4.6" fill="#286d8c"/><circle cx="470.4" cy="334.9" r="4.6" fill="#305f8b"/><circle cx="418.5" cy="400.3" r="4.6" fill="#30608b"/><circle cx="473.5" cy="368.3" r="4.6" fill="#2c678c"/><circle cx="456.9" cy="377.0" r="4.6" fill="#276f8c"/><circle cx="503.4" cy="230.9" r="4.6" fill="#404586"/><circle cx="428.7" cy="394.7" r="4.6" fill="#315d8b"/><circle cx="542.5" cy="135.4" r="4.6" fill="#26718c"/><circle cx="468.1" cy="291.8" r="4.6" fill="#296c8c"/><circle cx="509.1" cy="194.4" r="4.6" fill="#453a81"/><circle cx="387.0" cy="385.3" r="4.6" fill="#325c8b"/><circle cx="533.6" cy="161.5" r="4.6" fill="#385389"/><circle cx="443.5" cy="341.9" r="4.6" fill="#2b688c"/><circle cx="380.3" cy="395.3" r="4.6" fill="#34598a"/><circle cx="443.0" cy="373.8" r="4.6" fill="#34598a"/><circle cx="495.5" cy="198.9" r="4.6" fill="#3f4786"/><circle cx="354.2" cy="427.7" r="4.6" fill="#414285"/><circle cx="426.9" cy="371.0" r="4.6" fill="#35578a"/><circle cx="333.2" cy="424.7" r="4.6" fill="#404586"/><circle cx="404.5" cy="432.7" r="4.6" fill="#2d658c"/><circle cx="356.4" cy="427.7" r="4.6" fill="#47337c"/><circle cx="430.9" cy="347.0" r="4.6" fill="#2e638c"/><circle cx="440.4" cy="399.7" r="4.6" fill="#276f8c"/><circle cx="368.7" cy="427.3" r="4.6" fill="#335b8b"/><circle cx="363.4" cy="440.9" r="4.6" fill="#335b8b"/><circle cx="347.0" cy="429.9" r="4.6" fill="#2c678c"/><circle cx="525.4" cy="161.7" r="4.6" fill="#345a8a"/><circle cx="499.7" cy="258.5" r="4.6" fill="#30608b"/><circle cx="498.2" cy="360.9" r="4.6" fill="#1a8a8a"/><circle cx="414.9" cy="367.1" r="4.6" fill="#2f618b"/><circle cx="543.9" cy="129.8" r="4.6" fill="#2c678c"/><circle cx="454.4" cy="373.9" r="4.6" fill="#453a81"/><circle cx="508.4" cy="224.7" r="4.6" fill="#3a5088"/><circle cx="541.8" cy="138.7" r="4.6" fill="#286c8c"/><circle cx="518.1" cy="171.4" r="4.6" fill="#3f4786"/><circle cx="475.2" cy="293.3" r="4.6" fill="#414285"/><circle cx="458.8" cy="306.5" r="4.6" fill="#325c8b"/><circle cx="194.8" cy="446.8" r="4.6" fill="#286c8c"/><circle cx="438.9" cy="259.7" r="4.6" fill="#1d808c"/><circle cx="334.0" cy="414.6" r="4.6" fill="#2a6a8c"/><circle cx="422.9" cy="389.4" r="4.6" fill="#296b8c"/><circle cx="468.6" cy="247.7" r="4.6" fill="#375489"/><circle cx="488.5" cy="343.1" r="4.6" fill="#26708c"/><circle cx="457.4" cy="302.6" r="4.6" fill="#3d4b87"/><circle cx="464.7" cy="288.3" r="4.6" fill="#335b8b"/><circle cx="431.9" cy="325.7" r="4.6" fill="#26718c"/><circle cx="467.7" cy="324.9" r="4.6" fill="#345a8a"/><circle cx="325.5" cy="415.5" r="4.6" fill="#3a5088"/><circle cx="423.5" cy="397.0" r="4.6" fill="#305f8b"/><circle cx="445.1" cy="342.7" r="4.6" fill="#26708c"/><circle cx="387.1" cy="428.7" r="4.6" fill="#23758c"/><circle cx="535.5" cy="155.8" r="4.6" fill="#325c8b"/><circle cx="495.0" cy="187.4" r="4.6" fill="#482f79"/><circle cx="522.6" cy="143.9" r="4.6" fill="#2f618b"/><circle cx="485.1" cy="310.0" r="4.6" fill="#26718c"/><circle cx="459.4" cy="353.6" r="4.6" fill="#35578a"/><circle cx="394.2" cy="408.7" r="4.6" fill="#3a4f88"/><circle cx="537.9" cy="147.2" r="4.6" fill="#325c8b"/><circle cx="497.7" cy="199.3" r="4.6" fill="#3a4f88"/><circle cx="412.3" cy="352.7" r="4.6" fill="#325d8b"/><circle cx="480.5" cy="263.2" r="4.6" fill="#3f4786"/><circle cx="358.6" cy="400.8" r="4.6" fill="#2f618b"/><circle cx="393.7" cy="421.9" r="4.6" fill="#276e8c"/><circle cx="449.1" cy="310.8" r="4.6" fill="#3c4b87"/><circle cx="521.4" cy="159.4" r="4.6" fill="#3f4686"/><circle cx="301.8" cy="416.1" r="4.6" fill="#25728c"/><circle cx="538.8" cy="122.9" r="4.6" fill="#463880"/><circle cx="395.9" cy="337.8" r="4.6" fill="#1b868b"/><circle cx="528.8" cy="132.8" r="4.6" fill="#36568a"/><circle cx="543.4" cy="128.6" r="4.6" fill="#335b8b"/><circle cx="513.8" cy="194.0" r="4.6" fill="#325d8b"/><circle cx="438.4" cy="372.7" r="4.6" fill="#2f618b"/><circle cx="428.7" cy="347.5" r="4.6" fill="#35588a"/><circle cx="414.0" cy="366.7" r="4.6" fill="#22798c"/><circle cx="500.4" cy="251.1" r="4.6" fill="#375489"/><circle cx="509.4" cy="303.6" r="4.6" fill="#25728c"/><circle cx="394.2" cy="428.1" r="4.6" fill="#276e8c"/><circle cx="497.0" cy="293.3" r="4.6" fill="#24748c"/><circle cx="470.5" cy="308.8" r="4.6" fill="#35588a"/><circle cx="535.3" cy="242.1" r="4.6" fill="#1d808c"/><circle cx="477.5" cy="245.8" r="4.6" fill="#3a4f88"/><circle cx="345.0" cy="433.9" r="4.6" fill="#305f8b"/><circle cx="539.7" cy="127.4" r="4.6" fill="#46377f"/><circle cx="498.7" cy="198.0" r="4.6" fill="#404586"/><circle cx="530.6" cy="171.7" r="4.6" fill="#2d658c"/><circle cx="343.9" cy="423.9" r="4.6" fill="#207c8c"/><circle cx="356.7" cy="422.1" r="4.6" fill="#3d4b87"/><circle cx="409.1" cy="384.4" r="4.6" fill="#3a4f88"/><circle cx="507.3" cy="271.1" r="4.6" fill="#34598a"/><circle cx="430.8" cy="403.9" r="4.6" fill="#2a6a8c"/><circle cx="448.2" cy="339.6" r="4.6" fill="#3c4b87"/><circle cx="536.1" cy="157.7" r="4.6" fill="#315e8b"/><circle cx="419.0" cy="417.4" r="4.6" fill="#286c8c"/><circle cx="445.2" cy="336.7" r="4.6" fill="#315e8b"/><circle cx="368.4" cy="428.5" r="4.6" fill="#36568a"/><circle cx="532.7" cy="164.8" r="4.6" fill="#305f8b"/><circle cx="330.1" cy="425.8" r="4.6" fill="#1d808c"/><circle cx="535.7" cy="152.7" r="4.6" fill="#2d658c"/><circle cx="524.5" cy="165.2" r="4.6" fill="#404586"/><circle cx="450.5" cy="267.0" r="4.6" fill="#34598a"/><circle cx="464.4" cy="225.7" r="4.6" fill="#3c4b87"/><circle cx="442.8" cy="235.3" r="4.6" fill="#3c4b87"/><circle cx="372.4" cy="424.1" r="4.6" fill="#3e4987"/><circle cx="399.5" cy="395.3" r="4.6" fill="#315e8b"/><circle cx="358.2" cy="433.3" r="4.6" fill="#325d8b"/><circle cx="500.2" cy="297.1" r="4.6" fill="#2d648c"/><circle cx="400.9" cy="342.9" r="4.6" fill="#2e628b"/><circle cx="365.4" cy="399.3" r="4.6" fill="#3d4a87"/><circle cx="518.2" cy="165.4" r="4.6" fill="#46367e"/><circle cx="422.1" cy="405.9" r="4.6" fill="#25728c"/><circle cx="431.0" cy="399.8" r="4.6" fill="#26708c"/><circle cx="495.0" cy="222.9" r="4.6" fill="#414285"/><circle cx="353.5" cy="430.1" r="4.6" fill="#2d658c"/><circle cx="173.6" cy="458.5" r="4.6" fill="#1a8a8a"/><circle cx="484.5" cy="352.8" r="4.6" fill="#23778c"/><circle cx="347.2" cy="433.5" r="4.6" fill="#25728c"/><circle cx="445.5" cy="320.6" r="4.6" fill="#36568a"/><circle cx="449.6" cy="305.9" r="4.6" fill="#424084"/><circle cx="534.8" cy="126.0" r="4.6" fill="#424084"/><circle cx="457.5" cy="362.6" r="4.6" fill="#305f8b"/><circle cx="441.9" cy="364.4" r="4.6" fill="#305f8b"/><circle cx="537.3" cy="125.3" r="4.6" fill="#48317b"/><circle cx="488.1" cy="358.1" r="4.6" fill="#296a8c"/><circle cx="419.5" cy="352.7" r="4.6" fill="#35578a"/><circle cx="337.3" cy="415.9" r="4.6" fill="#2c668c"/><circle cx="463.0" cy="236.3" r="4.6" fill="#375489"/><circle cx="423.6" cy="345.9" r="4.6" fill="#3b4d88"/><circle cx="443.2" cy="372.0" r="4.6" fill="#375489"/><circle cx="367.7" cy="420.7" r="4.6" fill="#315d8b"/><circle cx="447.7" cy="365.1" r="4.6" fill="#345a8a"/><circle cx="406.7" cy="371.7" r="4.6" fill="#345a8a"/><circle cx="437.6" cy="371.6" r="4.6" fill="#2ba674"/><circle cx="307.6" cy="444.1" r="4.6" fill="#23778c"/><circle cx="416.2" cy="296.4" r="4.6" fill="#1a9b81"/><circle cx="437.3" cy="385.0" r="4.6" fill="#2b698c"/><circle cx="468.9" cy="265.7" r="4.6" fill="#414285"/><circle cx="362.0" cy="409.0" r="4.6" fill="#315e8b"/><circle cx="466.7" cy="308.3" r="4.6" fill="#3f4786"/><circle cx="407.7" cy="386.7" r="4.6" fill="#433f83"/><circle cx="520.0" cy="141.2" r="4.6" fill="#385289"/><circle cx="506.3" cy="183.9" r="4.6" fill="#2c678c"/><circle cx="531.8" cy="364.5" r="4.6" fill="#3c4b87"/><circle cx="468.7" cy="366.7" r="4.6" fill="#217a8c"/><circle cx="492.5" cy="262.6" r="4.6" fill="#335b8b"/><circle cx="419.7" cy="400.6" r="4.6" fill="#2e628b"/><circle cx="532.8" cy="169.3" r="4.6" fill="#2b698c"/><circle cx="471.1" cy="317.2" r="4.6" fill="#34598a"/><circle cx="547.5" cy="97.6" r="4.6" fill="#4a296e"/><circle cx="430.4" cy="396.2" r="4.6" fill="#87bf3e"/><circle cx="349.7" cy="429.5" r="4.6" fill="#23768c"/><circle cx="397.0" cy="406.5" r="4.6" fill="#2f618b"/><circle cx="504.3" cy="184.2" r="4.6" fill="#443c82"/><circle cx="415.7" cy="396.9" r="4.6" fill="#37558a"/><circle cx="361.8" cy="436.5" r="4.6" fill="#2a6a8c"/><circle cx="507.3" cy="255.3" r="4.6" fill="#315e8b"/><circle cx="484.9" cy="322.2" r="4.6" fill="#22798c"/><circle cx="522.4" cy="166.6" r="4.6" fill="#395189"/><circle cx="494.3" cy="294.9" r="4.6" fill="#35588a"/><circle cx="456.9" cy="271.3" r="4.6" fill="#2c668c"/><circle cx="253.4" cy="433.2" r="4.6" fill="#2e628b"/><circle cx="456.3" cy="333.1" r="4.6" fill="#345a8a"/><circle cx="420.2" cy="391.6" r="4.6" fill="#34598a"/><circle cx="399.8" cy="378.2" r="4.6" fill="#37558a"/><circle cx="395.4" cy="430.5" r="4.6" fill="#433e83"/><circle cx="526.6" cy="231.2" r="4.6" fill="#1d808c"/><circle cx="475.5" cy="247.6" r="4.6" fill="#424084"/><circle cx="397.2" cy="422.5" r="4.6" fill="#2f618b"/><circle cx="484.4" cy="247.9" r="4.6" fill="#3b4e88"/><circle cx="367.4" cy="422.3" r="4.6" fill="#404485"/><circle cx="373.2" cy="416.1" r="4.6" fill="#24748c"/><circle cx="354.0" cy="436.7" r="4.6" fill="#189187"/><circle cx="164.1" cy="461.6" r="4.6" fill="#7aba4a"/><circle cx="494.0" cy="255.6" r="4.6" fill="#345a8a"/><circle cx="388.8" cy="401.1" r="4.6" fill="#345a8a"/><circle cx="423.5" cy="360.3" r="4.6" fill="#26718c"/><circle cx="469.2" cy="322.8" r="4.6" fill="#3b4d88"/><circle cx="339.0" cy="445.5" r="4.6" fill="#22798c"/><circle cx="523.1" cy="157.7" r="4.6" fill="#3d4a87"/><circle cx="332.3" cy="428.0" r="4.6" fill="#276e8c"/><circle cx="396.8" cy="415.7" r="4.6" fill="#30608b"/><circle cx="481.0" cy="321.8" r="4.6" fill="#296b8c"/><circle cx="517.3" cy="176.5" r="4.6" fill="#424184"/><circle cx="520.5" cy="168.0" r="4.6" fill="#37558a"/><circle cx="454.6" cy="358.5" r="4.6" fill="#375489"/><circle cx="415.2" cy="386.0" r="4.6" fill="#296b8c"/><circle cx="499.4" cy="314.2" r="4.6" fill="#2b688c"/><circle cx="460.2" cy="278.7" r="4.6" fill="#424084"/><circle cx="431.7" cy="406.2" r="4.6" fill="#2e628b"/><circle cx="370.3" cy="412.1" r="4.6" fill="#46377f"/><circle cx="504.9" cy="264.7" r="4.6" fill="#2e638c"/><circle cx="387.8" cy="396.5" r="4.6" fill="#424084"/><circle cx="339.2" cy="392.6" r="4.6" fill="#25728c"/><circle cx="535.1" cy="157.7" r="4.6" fill="#276f8c"/><circle cx="414.6" cy="332.2" r="4.6" fill="#1a9b81"/><circle cx="420.4" cy="393.4" r="4.6" fill="#2b698c"/><circle cx="462.7" cy="368.9" r="4.6" fill="#24738c"/><circle cx="416.7" cy="377.4" r="4.6" fill="#2c678c"/><circle cx="522.2" cy="187.9" r="4.6" fill="#315d8b"/><circle cx="495.4" cy="182.9" r="4.6" fill="#3f4686"/><circle cx="554.5" cy="92.7" r="4.6" fill="#1c858b"/><circle cx="429.3" cy="287.8" r="4.6" fill="#375489"/><circle cx="409.2" cy="376.1" r="4.6" fill="#3b4d88"/><circle cx="464.4" cy="273.5" r="4.6" fill="#433e83"/><circle cx="373.7" cy="411.2" r="4.6" fill="#2b688c"/><circle cx="529.9" cy="139.8" r="4.6" fill="#46367e"/><circle cx="423.9" cy="400.8" r="4.6" fill="#286d8c"/><circle cx="377.0" cy="424.9" r="4.6" fill="#335b8b"/><circle cx="450.5" cy="290.2" r="4.6" fill="#385389"/><circle cx="525.1" cy="171.9" r="4.6" fill="#296a8c"/><circle cx="452.6" cy="279.1" r="4.6" fill="#414285"/><circle cx="480.6" cy="268.8" r="4.6" fill="#286c8c"/><circle cx="436.2" cy="369.0" r="4.6" fill="#385389"/><circle cx="412.7" cy="420.1" r="4.6" fill="#34598a"/><circle cx="449.2" cy="380.4" r="4.6" fill="#286d8c"/><circle cx="442.4" cy="280.3" r="4.6" fill="#2e638c"/><circle cx="529.6" cy="139.2" r="4.6" fill="#453a81"/><circle cx="340.4" cy="417.5" r="4.6" fill="#24738c"/><circle cx="545.2" cy="119.5" r="4.6" fill="#433f83"/><circle cx="533.2" cy="146.9" r="4.6" fill="#345a8a"/><circle cx="364.7" cy="422.5" r="4.6" fill="#2f618b"/><circle cx="159.2" cy="463.9" r="4.6" fill="#1a8a8a"/><circle cx="371.7" cy="430.6" r="4.6" fill="#2b698c"/><circle cx="333.1" cy="437.0" r="4.6" fill="#23758c"/><circle cx="459.3" cy="347.4" r="4.6" fill="#2c678c"/><circle cx="444.3" cy="339.2" r="4.6" fill="#3d4a87"/><circle cx="515.3" cy="184.0" r="4.6" fill="#3c4b87"/><circle cx="456.7" cy="388.5" r="4.6" fill="#25728c"/><circle cx="529.1" cy="178.0" r="4.6" fill="#2b688c"/><circle cx="440.4" cy="351.5" r="4.6" fill="#34598a"/><circle cx="535.3" cy="330.1" r="4.6" fill="#23778c"/><circle cx="488.1" cy="328.2" r="4.6" fill="#23778c"/><circle cx="437.4" cy="358.1" r="4.6" fill="#325c8b"/><circle cx="535.8" cy="146.5" r="4.6" fill="#3e4987"/><circle cx="381.0" cy="418.3" r="4.6" fill="#1b878b"/><circle cx="261.6" cy="445.0" r="4.6" fill="#189287"/><circle cx="497.9" cy="196.1" r="4.6" fill="#433e83"/><circle cx="523.5" cy="184.5" r="4.6" fill="#30608b"/><circle cx="423.9" cy="404.2" r="4.6" fill="#24738c"/><circle cx="446.3" cy="383.5" r="4.6" fill="#37558a"/><circle cx="443.2" cy="374.4" r="4.6" fill="#25728c"/><circle cx="529.0" cy="176.8" r="4.6" fill="#22788c"/><circle cx="520.1" cy="180.3" r="4.6" fill="#3d4b87"/><circle cx="540.1" cy="122.8" r="4.6" fill="#443c82"/><circle cx="506.5" cy="240.2" r="4.6" fill="#3d4b87"/><circle cx="390.3" cy="403.4" r="4.6" fill="#315d8b"/><circle cx="532.9" cy="163.7" r="4.6" fill="#305f8b"/><circle cx="435.3" cy="318.4" r="4.6" fill="#325c8b"/><circle cx="335.3" cy="431.2" r="4.6" fill="#23758c"/><circle cx="491.7" cy="243.2" r="4.6" fill="#35588a"/><circle cx="389.9" cy="425.7" r="4.6" fill="#26708c"/><circle cx="445.6" cy="408.9" r="4.6" fill="#1c838c"/><circle cx="513.4" cy="239.7" r="4.6" fill="#335c8b"/><circle cx="410.6" cy="402.8" r="4.6" fill="#1e808c"/><circle cx="502.7" cy="220.5" r="4.6" fill="#30608b"/><circle cx="392.2" cy="397.8" r="4.6" fill="#335b8b"/><circle cx="198.4" cy="438.7" r="4.6" fill="#286c8c"/><circle cx="462.8" cy="310.6" r="4.6" fill="#3e4987"/><circle cx="518.9" cy="156.5" r="4.6" fill="#3f4686"/><circle cx="521.5" cy="156.3" r="4.6" fill="#424184"/><circle cx="364.8" cy="429.8" r="4.6" fill="#276f8c"/><circle cx="488.1" cy="244.9" r="4.6" fill="#375489"/><circle cx="392.8" cy="427.9" r="4.6" fill="#276f8c"/><circle cx="500.6" cy="217.5" r="4.6" fill="#3a4f88"/><circle cx="410.0" cy="410.6" r="4.6" fill="#2c678c"/><circle cx="449.9" cy="309.5" r="4.6" fill="#345a8a"/><circle cx="461.7" cy="234.6" r="4.6" fill="#2e628b"/><circle cx="409.7" cy="381.4" r="4.6" fill="#385389"/><circle cx="525.7" cy="185.7" r="4.6" fill="#30608b"/><circle cx="465.7" cy="322.2" r="4.6" fill="#24748c"/><circle cx="429.8" cy="331.6" r="4.6" fill="#404485"/><circle cx="507.3" cy="207.5" r="4.6" fill="#305f8b"/><circle cx="386.2" cy="425.0" r="4.6" fill="#335b8b"/><circle cx="419.9" cy="363.9" r="4.6" fill="#35578a"/><circle cx="438.5" cy="404.1" r="4.6" fill="#2d648c"/><circle cx="345.6" cy="429.3" r="4.6" fill="#2d658c"/><circle cx="546.9" cy="114.7" r="4.6" fill="#47337c"/><circle cx="463.7" cy="280.9" r="4.6" fill="#3c4b87"/><circle cx="472.7" cy="336.5" r="4.6" fill="#276f8c"/><circle cx="489.6" cy="315.7" r="4.6" fill="#2e628b"/><circle cx="393.1" cy="438.5" r="4.6" fill="#26708c"/><circle cx="479.3" cy="320.9" r="4.6" fill="#375489"/><circle cx="488.0" cy="257.2" r="4.6" fill="#36568a"/><circle cx="358.5" cy="431.8" r="4.6" fill="#296b8c"/><circle cx="425.9" cy="386.6" r="4.6" fill="#3b4d88"/><circle cx="466.9" cy="280.7" r="4.6" fill="#3f4786"/><circle cx="508.3" cy="190.2" r="4.6" fill="#3d4a87"/><circle cx="419.1" cy="394.8" r="4.6" fill="#30608b"/><circle cx="414.1" cy="431.1" r="4.6" fill="#22788c"/><circle cx="528.3" cy="146.2" r="4.6" fill="#414285"/><circle cx="336.5" cy="414.9" r="4.6" fill="#385389"/><circle cx="515.0" cy="379.4" r="4.6" fill="#23778c"/><circle cx="416.1" cy="367.5" r="4.6" fill="#2c668c"/><circle cx="498.4" cy="293.9" r="4.6" fill="#35588a"/><circle cx="547.2" cy="123.4" r="4.6" fill="#26718c"/><circle cx="378.9" cy="437.6" r="4.6" fill="#2b698c"/><circle cx="543.7" cy="126.2" r="4.6" fill="#3d4a87"/><circle cx="352.1" cy="438.6" r="4.6" fill="#24748c"/><circle cx="494.0" cy="197.1" r="4.6" fill="#385289"/><circle cx="491.1" cy="309.9" r="4.6" fill="#276f8c"/><circle cx="416.7" cy="399.9" r="4.6" fill="#217a8c"/><circle cx="464.7" cy="256.8" r="4.6" fill="#36568a"/><circle cx="437.2" cy="374.0" r="4.6" fill="#404485"/><circle cx="343.9" cy="423.6" r="4.6" fill="#3f4786"/><circle cx="538.0" cy="147.2" r="4.6" fill="#37558a"/><circle cx="477.2" cy="351.5" r="4.6" fill="#296a8c"/><circle cx="143.9" cy="452.2" r="4.6" fill="#4cb062"/><circle cx="521.8" cy="332.0" r="4.6" fill="#1d808c"/><circle cx="356.9" cy="443.8" r="4.6" fill="#21798c"/><circle cx="554.3" cy="205.5" r="4.6" fill="#29a575"/><circle cx="519.7" cy="185.5" r="4.6" fill="#395189"/><circle cx="347.0" cy="410.7" r="4.6" fill="#385289"/><circle cx="340.6" cy="421.5" r="4.6" fill="#296b8c"/><circle cx="352.1" cy="424.8" r="4.6" fill="#3bac6b"/><circle cx="508.1" cy="282.8" r="4.6" fill="#276f8c"/><circle cx="459.0" cy="352.1" r="4.6" fill="#47347d"/><circle cx="534.3" cy="127.5" r="4.6" fill="#4a2a73"/><circle cx="456.0" cy="332.9" r="4.6" fill="#2d648c"/><circle cx="489.1" cy="298.7" r="4.6" fill="#2f618b"/><circle cx="441.9" cy="335.2" r="4.6" fill="#34598a"/><circle cx="504.0" cy="255.0" r="4.6" fill="#2f618b"/><circle cx="324.8" cy="422.3" r="4.6" fill="#2c668c"/><circle cx="565.0" cy="79.8" r="4.6" fill="#1a8a8a"/><circle cx="375.3" cy="410.6" r="4.6" fill="#2e628b"/><circle cx="522.0" cy="151.4" r="4.6" fill="#3a5088"/><circle cx="455.1" cy="331.9" r="4.6" fill="#305f8b"/><circle cx="531.1" cy="169.9" r="4.6" fill="#385289"/><circle cx="493.4" cy="325.5" r="4.6" fill="#2a6a8c"/><circle cx="450.6" cy="363.4" r="4.6" fill="#315e8b"/><circle cx="490.4" cy="237.0" r="4.6" fill="#375489"/><circle cx="415.2" cy="405.8" r="4.6" fill="#315e8b"/><circle cx="523.9" cy="163.0" r="4.6" fill="#3f4786"/><circle cx="530.5" cy="159.9" r="4.6" fill="#26708c"/><circle cx="463.3" cy="258.8" r="4.6" fill="#47347d"/><circle cx="502.0" cy="272.6" r="4.6" fill="#296b8c"/><circle cx="371.4" cy="438.6" r="4.6" fill="#23778c"/><circle cx="363.9" cy="438.0" r="4.6" fill="#198d89"/><circle cx="471.6" cy="323.0" r="4.6" fill="#37558a"/><circle cx="415.2" cy="374.6" r="4.6" fill="#24738c"/><circle cx="467.7" cy="347.5" r="4.6" fill="#2b698c"/><circle cx="529.2" cy="147.8" r="4.6" fill="#414285"/><circle cx="406.9" cy="394.9" r="4.6" fill="#30608b"/><circle cx="496.3" cy="195.0" r="4.6" fill="#3b4d88"/><circle cx="441.3" cy="382.2" r="4.6" fill="#2f618b"/><circle cx="517.7" cy="276.7" r="4.6" fill="#453b81"/><circle cx="511.1" cy="175.2" r="4.6" fill="#395189"/><circle cx="326.4" cy="421.1" r="4.6" fill="#385389"/><circle cx="494.0" cy="194.4" r="4.6" fill="#443c82"/><circle cx="378.2" cy="422.1" r="4.6" fill="#26718c"/><circle cx="458.5" cy="343.5" r="4.6" fill="#2c668c"/><circle cx="453.8" cy="374.6" r="4.6" fill="#375489"/><circle cx="414.1" cy="348.7" r="4.6" fill="#3e4987"/><circle cx="447.7" cy="295.4" r="4.6" fill="#36568a"/><circle cx="528.9" cy="190.5" r="4.6" fill="#2c668c"/><circle cx="499.9" cy="289.5" r="4.6" fill="#207c8c"/><circle cx="448.9" cy="357.5" r="4.6" fill="#25728c"/><circle cx="528.5" cy="208.2" r="4.6" fill="#1d808c"/><circle cx="466.2" cy="315.5" r="4.6" fill="#2c678c"/><circle cx="500.8" cy="257.6" r="4.6" fill="#2d658c"/><circle cx="493.5" cy="216.0" r="4.6" fill="#37558a"/><circle cx="430.5" cy="406.0" r="4.6" fill="#47337c"/><circle cx="476.8" cy="246.3" r="4.6" fill="#414385"/><circle cx="389.8" cy="391.1" r="4.6" fill="#315e8b"/><circle cx="343.7" cy="439.4" r="4.6" fill="#2e638c"/><circle cx="532.7" cy="168.9" r="4.6" fill="#2c678c"/><circle cx="540.7" cy="126.6" r="4.6" fill="#385289"/><circle cx="418.7" cy="410.0" r="4.6" fill="#22788c"/><circle cx="476.2" cy="261.0" r="4.6" fill="#443c82"/><circle cx="478.8" cy="211.2" r="4.6" fill="#2b688c"/><circle cx="449.9" cy="284.2" r="4.6" fill="#3d4a87"/><circle cx="428.0" cy="387.5" r="4.6" fill="#385389"/><circle cx="502.6" cy="270.0" r="4.6" fill="#375489"/><circle cx="413.0" cy="374.5" r="4.6" fill="#315d8b"/><circle cx="486.8" cy="223.1" r="4.6" fill="#433e83"/><circle cx="502.2" cy="219.7" r="4.6" fill="#3f4686"/><circle cx="503.3" cy="287.1" r="4.6" fill="#207b8c"/><circle cx="523.7" cy="164.7" r="4.6" fill="#404485"/><circle cx="480.9" cy="257.4" r="4.6" fill="#3c4b87"/><circle cx="517.4" cy="156.2" r="4.6" fill="#325d8b"/><circle cx="488.3" cy="246.4" r="4.6" fill="#3f4686"/><circle cx="487.5" cy="311.6" r="4.6" fill="#2d648c"/><circle cx="516.8" cy="224.2" r="4.6" fill="#36568a"/><circle cx="478.7" cy="288.0" r="4.6" fill="#3b4e88"/><circle cx="487.0" cy="256.6" r="4.6" fill="#30608b"/><circle cx="444.9" cy="404.3" r="4.6" fill="#23758c"/><circle cx="478.1" cy="257.1" r="4.6" fill="#2a6a8c"/><circle cx="394.2" cy="406.3" r="4.6" fill="#198c89"/><circle cx="508.4" cy="249.2" r="4.6" fill="#305f8b"/><circle cx="530.4" cy="162.5" r="4.6" fill="#75b94d"/><circle cx="484.7" cy="292.1" r="4.6" fill="#325c8b"/><circle cx="510.6" cy="268.8" r="4.6" fill="#305f8b"/><circle cx="353.2" cy="416.0" r="4.6" fill="#22798c"/><circle cx="503.3" cy="311.1" r="4.6" fill="#24758c"/><circle cx="544.8" cy="199.6" r="4.6" fill="#1d808c"/><circle cx="393.7" cy="426.8" r="4.6" fill="#2c668c"/><circle cx="404.3" cy="414.0" r="4.6" fill="#2b688c"/><circle cx="399.8" cy="419.4" r="4.6" fill="#2d648c"/><circle cx="481.7" cy="325.9" r="4.6" fill="#26718c"/><circle cx="173.1" cy="454.9" r="4.6" fill="#207c8c"/><circle cx="493.4" cy="285.6" r="4.6" fill="#37558a"/><circle cx="528.1" cy="140.0" r="4.6" fill="#2b698c"/><circle cx="521.5" cy="149.1" r="4.6" fill="#3d4a87"/><circle cx="523.3" cy="132.3" r="4.6" fill="#47357e"/><circle cx="544.6" cy="125.0" r="4.6" fill="#3d4a87"/><circle cx="377.2" cy="427.1" r="4.6" fill="#2a6a8c"/><circle cx="471.6" cy="199.6" r="4.6" fill="#335c8b"/><circle cx="431.9" cy="350.6" r="4.6" fill="#2c668c"/><circle cx="183.9" cy="441.4" r="4.6" fill="#23778c"/><circle cx="476.5" cy="221.6" r="4.6" fill="#345a8a"/><circle cx="488.2" cy="261.3" r="4.6" fill="#315e8b"/><circle cx="462.2" cy="235.7" r="4.6" fill="#443c82"/><circle cx="380.0" cy="396.0" r="4.6" fill="#3b4d88"/><circle cx="485.6" cy="217.4" r="4.6" fill="#433f83"/><circle cx="409.3" cy="376.0" r="4.6" fill="#395189"/><circle cx="471.4" cy="303.8" r="4.6" fill="#3c4b87"/><circle cx="509.7" cy="166.5" r="4.6" fill="#35578a"/><circle cx="420.8" cy="357.0" r="4.6" fill="#395189"/><circle cx="501.6" cy="193.9" r="4.6" fill="#453a81"/><circle cx="420.1" cy="400.0" r="4.6" fill="#22788c"/><circle cx="318.1" cy="430.3" r="4.6" fill="#296b8c"/><circle cx="510.2" cy="263.9" r="4.6" fill="#2e638c"/><circle cx="368.1" cy="428.9" r="4.6" fill="#443c82"/><circle cx="392.1" cy="414.7" r="4.6" fill="#3f4686"/><circle cx="404.3" cy="377.9" r="4.6" fill="#3e4886"/><circle cx="421.5" cy="402.4" r="4.6" fill="#3f4686"/><circle cx="419.1" cy="348.9" r="4.6" fill="#2f618b"/><circle cx="533.2" cy="142.9" r="4.6" fill="#443d82"/><circle cx="545.3" cy="117.5" r="4.6" fill="#404586"/><circle cx="453.6" cy="293.0" r="4.6" fill="#305f8b"/><circle cx="384.3" cy="411.8" r="4.6" fill="#325c8b"/><circle cx="500.7" cy="188.3" r="4.6" fill="#424184"/><circle cx="423.5" cy="385.7" r="4.6" fill="#22788c"/><circle cx="406.4" cy="437.3" r="4.6" fill="#2b698c"/><circle cx="503.1" cy="276.0" r="4.6" fill="#286c8c"/><circle cx="450.7" cy="366.7" r="4.6" fill="#2c678c"/><circle cx="454.6" cy="347.5" r="4.6" fill="#286d8c"/><circle cx="473.7" cy="202.7" r="4.6" fill="#1d808c"/><circle cx="523.7" cy="156.3" r="4.6" fill="#3b4d88"/><circle cx="347.7" cy="429.1" r="4.6" fill="#286d8c"/><circle cx="465.3" cy="285.1" r="4.6" fill="#443d82"/><circle cx="535.0" cy="133.5" r="4.6" fill="#463880"/><circle cx="505.7" cy="226.9" r="4.6" fill="#207b8c"/><circle cx="446.3" cy="332.8" r="4.6" fill="#24a378"/><circle cx="329.0" cy="434.2" r="4.6" fill="#335b8b"/><circle cx="540.5" cy="129.9" r="4.6" fill="#3f4786"/><circle cx="378.7" cy="428.5" r="4.6" fill="#395189"/><circle cx="525.2" cy="176.6" r="4.6" fill="#3b4d88"/><circle cx="474.5" cy="321.2" r="4.6" fill="#34598a"/><circle cx="470.2" cy="318.0" r="4.6" fill="#3c4b87"/><circle cx="485.7" cy="220.2" r="4.6" fill="#424184"/><circle cx="358.2" cy="432.0" r="4.6" fill="#296c8c"/><circle cx="507.6" cy="178.7" r="4.6" fill="#395189"/><circle cx="357.0" cy="418.6" r="4.6" fill="#305f8b"/><circle cx="394.7" cy="420.2" r="4.6" fill="#2b698c"/><circle cx="503.7" cy="317.1" r="4.6" fill="#305f8b"/><circle cx="410.9" cy="377.4" r="4.6" fill="#335c8b"/><circle cx="474.0" cy="276.8" r="4.6" fill="#2b688c"/><circle cx="417.3" cy="370.4" r="4.6" fill="#2e628b"/><circle cx="464.7" cy="301.5" r="4.6" fill="#2a6a8c"/><circle cx="545.0" cy="125.3" r="4.6" fill="#404485"/><circle cx="360.7" cy="425.1" r="4.6" fill="#21798c"/><circle cx="545.2" cy="130.4" r="4.6" fill="#26708c"/><circle cx="521.2" cy="165.4" r="4.6" fill="#36568a"/><circle cx="478.8" cy="257.9" r="4.6" fill="#335c8b"/><circle cx="397.2" cy="362.7" r="4.6" fill="#2c678c"/><circle cx="559.4" cy="125.8" r="4.6" fill="#198d89"/><circle cx="326.8" cy="436.2" r="4.6" fill="#286c8c"/><circle cx="358.3" cy="417.7" r="4.6" fill="#335b8b"/><circle cx="455.7" cy="261.2" r="4.6" fill="#3d4a87"/><circle cx="457.4" cy="336.5" r="4.6" fill="#3b4e88"/><circle cx="333.0" cy="421.4" r="4.6" fill="#335b8b"/><circle cx="393.4" cy="387.6" r="4.6" fill="#414285"/><circle cx="479.4" cy="253.0" r="4.6" fill="#3d4b87"/><circle cx="390.2" cy="410.1" r="4.6" fill="#433f83"/><circle cx="548.8" cy="185.2" r="4.6" fill="#6cb752"/><circle cx="504.0" cy="300.0" r="4.6" fill="#315e8b"/><circle cx="347.6" cy="428.9" r="4.6" fill="#1f7e8c"/><circle cx="417.2" cy="319.2" r="4.6" fill="#2e628b"/><circle cx="494.6" cy="260.3" r="4.6" fill="#35588a"/><circle cx="456.3" cy="354.4" r="4.6" fill="#276f8c"/><circle cx="487.5" cy="248.8" r="4.6" fill="#2b688c"/><circle cx="489.0" cy="300.3" r="4.6" fill="#325d8b"/><circle cx="455.0" cy="374.0" r="4.6" fill="#30608b"/><circle cx="408.0" cy="327.3" r="4.6" fill="#2e628b"/><circle cx="375.8" cy="418.6" r="4.6" fill="#325c8b"/><circle cx="538.3" cy="134.0" r="4.6" fill="#3e4987"/><circle cx="524.4" cy="197.1" r="4.6" fill="#2b688c"/><circle cx="447.8" cy="343.6" r="4.6" fill="#30608b"/><circle cx="499.5" cy="216.3" r="4.6" fill="#385289"/><circle cx="514.3" cy="284.2" r="4.6" fill="#22798c"/><circle cx="346.5" cy="431.1" r="4.6" fill="#296b8c"/><circle cx="468.5" cy="180.5" r="4.6" fill="#424184"/><circle cx="460.1" cy="365.0" r="4.6" fill="#25728c"/><circle cx="471.8" cy="263.6" r="4.6" fill="#3b4e88"/><circle cx="446.7" cy="348.8" r="4.6" fill="#305f8b"/><circle cx="525.2" cy="185.4" r="4.6" fill="#315e8b"/><circle cx="409.9" cy="365.3" r="4.6" fill="#2a6a8c"/><circle cx="375.3" cy="433.4" r="4.6" fill="#24738c"/><circle cx="401.6" cy="382.9" r="4.6" fill="#35588a"/><circle cx="525.0" cy="187.9" r="4.6" fill="#335b8b"/><circle cx="323.7" cy="413.7" r="4.6" fill="#375489"/><circle cx="492.9" cy="274.8" r="4.6" fill="#2e628b"/><circle cx="448.9" cy="378.0" r="4.6" fill="#315e8b"/><circle cx="433.6" cy="392.3" r="4.6" fill="#30608b"/><circle cx="528.8" cy="158.2" r="4.6" fill="#385289"/><circle cx="351.2" cy="410.0" r="4.6" fill="#23768c"/><circle cx="480.1" cy="251.1" r="4.6" fill="#3e4987"/><circle cx="501.8" cy="273.2" r="4.6" fill="#37558a"/><circle cx="536.2" cy="147.7" r="4.6" fill="#385289"/><circle cx="477.6" cy="325.1" r="4.6" fill="#325d8b"/><circle cx="419.1" cy="343.5" r="4.6" fill="#315e8b"/><circle cx="395.0" cy="397.1" r="4.6" fill="#385389"/><circle cx="429.4" cy="355.1" r="4.6" fill="#2e628b"/><circle cx="493.1" cy="266.5" r="4.6" fill="#424184"/><circle cx="351.5" cy="431.6" r="4.6" fill="#217a8c"/><circle cx="439.7" cy="353.8" r="4.6" fill="#36568a"/><circle cx="408.8" cy="408.8" r="4.6" fill="#217a8c"/><circle cx="524.1" cy="139.2" r="4.6" fill="#3d4b87"/><circle cx="502.8" cy="328.8" r="4.6" fill="#2c668c"/><circle cx="498.9" cy="284.7" r="4.6" fill="#2f618b"/><circle cx="395.4" cy="391.9" r="4.6" fill="#325d8b"/><circle cx="523.1" cy="225.8" r="4.6" fill="#453b81"/><circle cx="434.8" cy="353.6" r="4.6" fill="#345a8a"/><circle cx="544.0" cy="97.6" r="4.6" fill="#4a296e"/><circle cx="454.9" cy="286.7" r="4.6" fill="#424184"/><circle cx="321.1" cy="437.4" r="4.6" fill="#2b698c"/><circle cx="401.0" cy="394.0" r="4.6" fill="#3d4b87"/><circle cx="440.0" cy="376.5" r="4.6" fill="#2b688c"/><circle cx="408.0" cy="420.7" r="4.6" fill="#2c678c"/><circle cx="438.4" cy="376.7" r="4.6" fill="#296a8c"/><circle cx="469.7" cy="178.0" r="4.6" fill="#395189"/><circle cx="504.1" cy="206.9" r="4.6" fill="#424084"/><circle cx="348.9" cy="437.8" r="4.6" fill="#1c9c7f"/><circle cx="509.7" cy="175.8" r="4.6" fill="#433f83"/><circle cx="416.2" cy="288.9" r="4.6" fill="#189287"/><circle cx="494.2" cy="183.3" r="4.6" fill="#325d8b"/><circle cx="449.2" cy="336.6" r="4.6" fill="#2b698c"/><circle cx="426.4" cy="423.4" r="4.6" fill="#1f7d8c"/><circle cx="382.5" cy="400.2" r="4.6" fill="#286d8c"/><circle cx="542.0" cy="125.3" r="4.6" fill="#463880"/><circle cx="418.4" cy="382.6" r="4.6" fill="#2e638c"/><circle cx="456.9" cy="281.2" r="4.6" fill="#315e8b"/><circle cx="458.7" cy="294.4" r="4.6" fill="#453a81"/><circle cx="509.1" cy="214.2" r="4.6" fill="#335b8b"/><circle cx="507.1" cy="276.2" r="4.6" fill="#30608b"/><circle cx="443.7" cy="385.1" r="4.6" fill="#325c8b"/><circle cx="502.9" cy="258.8" r="4.6" fill="#276e8c"/><circle cx="364.0" cy="414.5" r="4.6" fill="#385289"/><circle cx="453.3" cy="333.7" r="4.6" fill="#335b8b"/><circle cx="438.5" cy="387.0" r="4.6" fill="#2a6a8c"/><circle cx="374.8" cy="433.5" r="4.6" fill="#24738c"/><circle cx="538.0" cy="215.8" r="4.6" fill="#2e628b"/><circle cx="454.7" cy="385.1" r="4.6" fill="#23758c"/><circle cx="501.6" cy="223.2" r="4.6" fill="#2e628b"/><circle cx="456.9" cy="343.9" r="4.6" fill="#3f4686"/><circle cx="396.5" cy="419.1" r="4.6" fill="#385389"/><circle cx="438.5" cy="381.5" r="4.6" fill="#24738c"/><circle cx="432.3" cy="390.9" r="4.6" fill="#6cb752"/><circle cx="451.8" cy="378.4" r="4.6" fill="#276e8c"/><circle cx="480.2" cy="322.7" r="4.6" fill="#2c678c"/><circle cx="425.1" cy="378.1" r="4.6" fill="#296c8c"/><circle cx="415.4" cy="347.6" r="4.6" fill="#30608b"/><circle cx="321.1" cy="429.3" r="4.6" fill="#325d8b"/><circle cx="342.7" cy="424.1" r="4.6" fill="#2b688c"/><circle cx="541.4" cy="123.9" r="4.6" fill="#3f4786"/><circle cx="410.2" cy="376.9" r="4.6" fill="#2d648c"/><circle cx="514.8" cy="162.8" r="4.6" fill="#404586"/><circle cx="464.8" cy="365.4" r="4.6" fill="#345a8a"/><circle cx="463.8" cy="353.6" r="4.6" fill="#2c668c"/><circle cx="389.2" cy="415.9" r="4.6" fill="#2a6a8c"/><circle cx="361.5" cy="426.8" r="4.6" fill="#24748c"/><circle cx="443.7" cy="322.5" r="4.6" fill="#3e4987"/><circle cx="514.9" cy="194.1" r="4.6" fill="#325d8b"/><circle cx="435.8" cy="362.3" r="4.6" fill="#3b4e88"/><circle cx="480.6" cy="254.2" r="4.6" fill="#37558a"/><circle cx="400.6" cy="379.8" r="4.6" fill="#3f4786"/><circle cx="522.1" cy="151.8" r="4.6" fill="#2a6a8c"/><circle cx="453.9" cy="305.5" r="4.6" fill="#2c678c"/><circle cx="389.0" cy="418.9" r="4.6" fill="#24748c"/><circle cx="449.3" cy="415.4" r="4.6" fill="#276e8c"/><circle cx="492.4" cy="242.3" r="4.6" fill="#35588a"/><circle cx="374.3" cy="397.4" r="4.6" fill="#2c678c"/><circle cx="451.6" cy="324.3" r="4.6" fill="#35588a"/><circle cx="501.3" cy="268.0" r="4.6" fill="#404586"/><circle cx="330.7" cy="413.7" r="4.6" fill="#385289"/><circle cx="480.4" cy="371.3" r="4.6" fill="#2f618b"/><circle cx="471.8" cy="254.6" r="4.6" fill="#3d4a87"/><circle cx="495.1" cy="196.1" r="4.6" fill="#3f4686"/><circle cx="511.5" cy="258.2" r="4.6" fill="#30608b"/><circle cx="536.1" cy="258.3" r="4.6" fill="#22a27a"/><circle cx="434.4" cy="382.9" r="4.6" fill="#37558a"/><circle cx="476.5" cy="293.0" r="4.6" fill="#296b8c"/><circle cx="538.1" cy="143.9" r="4.6" fill="#395189"/><circle cx="376.2" cy="422.4" r="4.6" fill="#305f8b"/><circle cx="539.2" cy="136.2" r="4.6" fill="#3f4686"/><circle cx="431.2" cy="360.3" r="4.6" fill="#276f8c"/><circle cx="380.3" cy="390.4" r="4.6" fill="#335b8b"/><circle cx="370.9" cy="414.3" r="4.6" fill="#26718c"/><circle cx="409.7" cy="387.9" r="4.6" fill="#3e4987"/><circle cx="362.1" cy="409.0" r="4.6" fill="#2a6a8c"/><circle cx="548.5" cy="128.4" r="4.6" fill="#2e628b"/><circle cx="436.9" cy="298.9" r="4.6" fill="#3b4e88"/><circle cx="508.4" cy="232.5" r="4.6" fill="#414385"/><circle cx="493.2" cy="185.5" r="4.6" fill="#3e4886"/><circle cx="464.9" cy="333.1" r="4.6" fill="#315e8b"/><circle cx="503.3" cy="180.5" r="4.6" fill="#482f79"/><circle cx="526.4" cy="157.8" r="4.6" fill="#424084"/><circle cx="354.7" cy="411.8" r="4.6" fill="#2b698c"/><circle cx="327.6" cy="432.8" r="4.6" fill="#305f8b"/><circle cx="482.5" cy="317.2" r="4.6" fill="#24738c"/><circle cx="474.4" cy="325.0" r="4.6" fill="#2c678c"/><circle cx="201.1" cy="442.3" r="4.6" fill="#286c8c"/><circle cx="367.7" cy="426.9" r="4.6" fill="#276f8c"/><circle cx="348.2" cy="433.0" r="4.6" fill="#1c858b"/><circle cx="511.7" cy="291.4" r="4.6" fill="#296b8c"/><circle cx="457.9" cy="276.4" r="4.6" fill="#404586"/><circle cx="425.3" cy="329.4" r="4.6" fill="#315e8b"/><circle cx="511.2" cy="206.9" r="4.6" fill="#3b4d88"/><circle cx="495.1" cy="259.3" r="4.6" fill="#2c678c"/><circle cx="460.2" cy="343.8" r="4.6" fill="#3c4c87"/><circle cx="496.1" cy="330.5" r="4.6" fill="#2c668c"/><circle cx="319.9" cy="380.9" r="4.6" fill="#3c4b87"/><circle cx="386.9" cy="409.6" r="4.6" fill="#385389"/><circle cx="375.9" cy="425.2" r="4.6" fill="#286c8c"/><circle cx="381.5" cy="429.6" r="4.6" fill="#276f8c"/><circle cx="532.9" cy="166.8" r="4.6" fill="#2e628b"/><circle cx="362.1" cy="424.0" r="4.6" fill="#296c8c"/><circle cx="348.7" cy="429.4" r="4.6" fill="#2e628b"/><circle cx="471.1" cy="253.9" r="4.6" fill="#414285"/><circle cx="544.9" cy="120.2" r="4.6" fill="#3b4d88"/><circle cx="383.9" cy="419.2" r="4.6" fill="#189486"/><circle cx="414.2" cy="371.9" r="4.6" fill="#2b688c"/><circle cx="314.8" cy="409.8" r="4.6" fill="#47357e"/><circle cx="500.6" cy="348.1" r="4.6" fill="#26718c"/><circle cx="496.5" cy="236.7" r="4.6" fill="#25738c"/><circle cx="513.1" cy="289.6" r="4.6" fill="#433f83"/><circle cx="397.9" cy="385.2" r="4.6" fill="#189685"/><circle cx="457.9" cy="349.3" r="4.6" fill="#26708c"/><circle cx="380.9" cy="435.2" r="4.6" fill="#198d89"/><circle cx="496.3" cy="188.1" r="4.6" fill="#47347d"/><circle cx="460.1" cy="342.2" r="4.6" fill="#375489"/><circle cx="424.3" cy="404.6" r="4.6" fill="#36568a"/><circle cx="476.1" cy="286.3" r="4.6" fill="#375489"/><circle cx="497.4" cy="415.4" r="4.6" fill="#22a27a"/><circle cx="533.3" cy="153.3" r="4.6" fill="#2b688c"/><circle cx="399.6" cy="411.1" r="4.6" fill="#385289"/><circle cx="459.5" cy="275.3" r="4.6" fill="#3d4a87"/><circle cx="492.5" cy="280.4" r="4.6" fill="#315e8b"/><circle cx="505.3" cy="209.4" r="4.6" fill="#3a4f88"/><circle cx="334.8" cy="441.8" r="4.6" fill="#1e7f8c"/><circle cx="431.5" cy="351.7" r="4.6" fill="#2c668c"/><circle cx="410.5" cy="348.1" r="4.6" fill="#2f618b"/><circle cx="446.5" cy="365.8" r="4.6" fill="#385289"/><circle cx="484.7" cy="235.4" r="4.6" fill="#414385"/><circle cx="325.1" cy="422.9" r="4.6" fill="#3b4e88"/><circle cx="537.2" cy="141.4" r="4.6" fill="#2d658c"/><circle cx="335.0" cy="434.0" r="4.6" fill="#2c668c"/><circle cx="337.5" cy="424.3" r="4.6" fill="#25728c"/><circle cx="469.7" cy="284.1" r="4.6" fill="#48327c"/><circle cx="494.4" cy="254.8" r="4.6" fill="#315e8b"/><circle cx="488.8" cy="211.0" r="4.6" fill="#3a4f88"/><circle cx="492.0" cy="378.0" r="4.6" fill="#2e628b"/><circle cx="416.6" cy="409.8" r="4.6" fill="#315e8b"/><circle cx="542.6" cy="376.6" r="4.6" fill="#1d808c"/><circle cx="465.7" cy="309.9" r="4.6" fill="#3d4a87"/><circle cx="454.1" cy="304.9" r="4.6" fill="#3e4886"/><circle cx="442.5" cy="322.5" r="4.6" fill="#3e4886"/><circle cx="487.9" cy="285.2" r="4.6" fill="#305f8b"/><circle cx="506.3" cy="222.9" r="4.6" fill="#36568a"/><circle cx="414.5" cy="404.4" r="4.6" fill="#1f7d8c"/><circle cx="448.6" cy="301.4" r="4.6" fill="#3a4f88"/><circle cx="346.6" cy="429.9" r="4.6" fill="#3c4b87"/><circle cx="442.5" cy="325.3" r="4.6" fill="#3d4a87"/><circle cx="531.0" cy="131.9" r="4.6" fill="#414385"/><circle cx="456.7" cy="366.6" r="4.6" fill="#30608b"/><circle cx="416.6" cy="411.1" r="4.6" fill="#198f88"/><circle cx="357.6" cy="429.4" r="4.6" fill="#276f8c"/><circle cx="391.9" cy="410.7" r="4.6" fill="#305f8b"/><circle cx="499.1" cy="263.2" r="4.6" fill="#305f8b"/><circle cx="417.9" cy="391.1" r="4.6" fill="#23768c"/><circle cx="530.1" cy="175.7" r="4.6" fill="#217a8c"/><circle cx="476.6" cy="240.1" r="4.6" fill="#3f4786"/><circle cx="341.8" cy="434.6" r="4.6" fill="#2f618b"/><circle cx="457.6" cy="309.0" r="4.6" fill="#35578a"/><circle cx="485.8" cy="263.9" r="4.6" fill="#35578a"/><circle cx="472.7" cy="211.8" r="4.6" fill="#47347d"/><circle cx="527.4" cy="188.3" r="4.6" fill="#2a6a8c"/><circle cx="508.9" cy="174.8" r="4.6" fill="#453b81"/><circle cx="466.4" cy="407.2" r="4.6" fill="#335b8b"/><circle cx="495.0" cy="264.7" r="4.6" fill="#2b688c"/><circle cx="476.6" cy="301.5" r="4.6" fill="#3d4a87"/><circle cx="433.1" cy="361.9" r="4.6" fill="#296b8c"/><circle cx="371.7" cy="425.6" r="4.6" fill="#2a6a8c"/><circle cx="411.0" cy="331.6" r="4.6" fill="#315d8b"/><circle cx="440.4" cy="336.1" r="4.6" fill="#37558a"/><circle cx="514.2" cy="196.6" r="4.6" fill="#325c8b"/><circle cx="470.6" cy="276.7" r="4.6" fill="#34598a"/><circle cx="412.4" cy="355.0" r="4.6" fill="#414385"/><circle cx="417.2" cy="349.9" r="4.6" fill="#36568a"/><circle cx="511.8" cy="192.4" r="4.6" fill="#3a4f88"/><circle cx="338.3" cy="447.7" r="4.6" fill="#1a8a8a"/><circle cx="477.2" cy="177.0" r="4.6" fill="#3a4f88"/><circle cx="372.1" cy="412.0" r="4.6" fill="#2f618b"/><circle cx="208.3" cy="442.3" r="4.6" fill="#25728c"/><circle cx="478.9" cy="265.0" r="4.6" fill="#325c8b"/><circle cx="304.0" cy="439.6" r="4.6" fill="#2e628b"/><circle cx="415.2" cy="428.2" r="4.6" fill="#1a8a8a"/><circle cx="419.9" cy="397.4" r="4.6" fill="#395189"/><circle cx="448.3" cy="392.0" r="4.6" fill="#2f618b"/><circle cx="173.1" cy="452.2" r="4.6" fill="#23778c"/><circle cx="491.7" cy="277.3" r="4.6" fill="#3a5088"/><circle cx="354.2" cy="410.5" r="4.6" fill="#385289"/><circle cx="405.8" cy="383.7" r="4.6" fill="#2d658c"/><circle cx="517.7" cy="304.9" r="4.6" fill="#453b81"/><circle cx="514.2" cy="172.5" r="4.6" fill="#414385"/><circle cx="499.3" cy="203.1" r="4.6" fill="#34598a"/><circle cx="394.6" cy="427.6" r="4.6" fill="#1b868b"/><circle cx="472.3" cy="363.8" r="4.6" fill="#24748c"/><circle cx="521.8" cy="325.2" r="4.6" fill="#2e628b"/><circle cx="526.1" cy="201.0" r="4.6" fill="#2a6a8c"/><circle cx="453.0" cy="390.9" r="4.6" fill="#335b8b"/><circle cx="485.7" cy="229.4" r="4.6" fill="#47347d"/><circle cx="183.9" cy="443.5" r="4.6" fill="#2b688c"/><circle cx="423.6" cy="395.6" r="4.6" fill="#2a6a8c"/><circle cx="450.7" cy="315.9" r="4.6" fill="#30608b"/><circle cx="417.3" cy="414.0" r="4.6" fill="#453980"/><circle cx="451.2" cy="270.2" r="4.6" fill="#276e8c"/><circle cx="449.7" cy="301.6" r="4.6" fill="#443c82"/><circle cx="425.1" cy="405.0" r="4.6" fill="#30608b"/><circle cx="485.4" cy="284.5" r="4.6" fill="#345a8a"/><circle cx="394.3" cy="401.7" r="4.6" fill="#3b4e88"/><circle cx="217.0" cy="461.2" r="4.6" fill="#189287"/><circle cx="358.6" cy="356.6" r="4.6" fill="#2e628b"/><circle cx="492.2" cy="301.1" r="4.6" fill="#296b8c"/><circle cx="337.4" cy="438.0" r="4.6" fill="#286d8c"/><circle cx="330.1" cy="457.6" r="4.6" fill="#6cb752"/><circle cx="278.7" cy="444.1" r="4.6" fill="#2e628b"/><circle cx="484.8" cy="287.1" r="4.6" fill="#3b4e88"/><circle cx="408.4" cy="377.8" r="4.6" fill="#3a5088"/><circle cx="481.2" cy="271.3" r="4.6" fill="#305f8b"/><circle cx="418.1" cy="372.0" r="4.6" fill="#385389"/><circle cx="514.7" cy="153.5" r="4.6" fill="#3f4786"/><circle cx="421.4" cy="403.9" r="4.6" fill="#2b698c"/><circle cx="416.4" cy="398.8" r="4.6" fill="#26708c"/><circle cx="420.1" cy="313.0" r="4.6" fill="#296c8c"/><circle cx="415.7" cy="406.4" r="4.6" fill="#286d8c"/><circle cx="499.6" cy="262.8" r="4.6" fill="#335b8b"/><circle cx="462.9" cy="334.8" r="4.6" fill="#3c4b87"/><circle cx="121.7" cy="451.3" r="4.6" fill="#29a575"/><circle cx="432.6" cy="351.0" r="4.6" fill="#2c668c"/><circle cx="153.2" cy="452.6" r="4.6" fill="#325d8b"/><circle cx="492.9" cy="190.3" r="4.6" fill="#47347d"/><circle cx="406.1" cy="411.1" r="4.6" fill="#2d648c"/><circle cx="413.6" cy="427.1" r="4.6" fill="#296c8c"/><circle cx="447.7" cy="228.1" r="4.6" fill="#424084"/><circle cx="402.8" cy="414.0" r="4.6" fill="#2c668c"/><circle cx="566.4" cy="75.8" r="4.6" fill="#1a8a8a"/><circle cx="458.6" cy="274.0" r="4.6" fill="#3e4987"/><circle cx="478.4" cy="289.2" r="4.6" fill="#325d8b"/><circle cx="328.6" cy="439.3" r="4.6" fill="#207c8c"/><circle cx="511.4" cy="228.9" r="4.6" fill="#37558a"/><circle cx="501.4" cy="216.4" r="4.6" fill="#2b688c"/><circle cx="475.3" cy="208.8" r="4.6" fill="#3b4e88"/><circle cx="422.1" cy="426.1" r="4.6" fill="#1c848b"/><circle cx="348.8" cy="424.8" r="4.6" fill="#296b8c"/><circle cx="546.6" cy="120.2" r="4.6" fill="#37558a"/><circle cx="539.5" cy="145.8" r="4.6" fill="#2d658c"/><circle cx="320.7" cy="438.8" r="4.6" fill="#2e628b"/><circle cx="431.9" cy="382.8" r="4.6" fill="#35588a"/><circle cx="384.0" cy="405.2" r="4.6" fill="#2e628b"/><circle cx="389.1" cy="396.5" r="4.6" fill="#3a4f88"/><circle cx="387.9" cy="414.9" r="4.6" fill="#276e8c"/><circle cx="401.9" cy="342.4" r="4.6" fill="#286d8c"/><circle cx="520.9" cy="382.9" r="4.6" fill="#1a9b81"/><circle cx="464.8" cy="333.4" r="4.6" fill="#2c668c"/><circle cx="466.7" cy="375.8" r="4.6" fill="#296b8c"/><circle cx="516.3" cy="261.0" r="4.6" fill="#1d808c"/><circle cx="411.5" cy="428.5" r="4.6" fill="#2e638c"/><circle cx="483.3" cy="229.5" r="4.6" fill="#453a81"/><circle cx="267.9" cy="449.5" r="4.6" fill="#d4d800"/><circle cx="525.3" cy="149.7" r="4.6" fill="#36568a"/><circle cx="395.8" cy="373.5" r="4.6" fill="#286c8c"/><circle cx="427.5" cy="371.7" r="4.6" fill="#2b688c"/><circle cx="389.6" cy="426.0" r="4.6" fill="#207c8c"/><circle cx="445.3" cy="323.7" r="4.6" fill="#395189"/><circle cx="321.5" cy="431.0" r="4.6" fill="#22788c"/><circle cx="438.9" cy="358.2" r="4.6" fill="#424184"/><circle cx="508.4" cy="189.7" r="4.6" fill="#433f83"/><circle cx="385.4" cy="426.6" r="4.6" fill="#26708c"/><circle cx="429.7" cy="409.1" r="4.6" fill="#296c8c"/><circle cx="534.7" cy="146.6" r="4.6" fill="#3d4a87"/><circle cx="404.8" cy="407.6" r="4.6" fill="#24738c"/><circle cx="499.7" cy="315.3" r="4.6" fill="#1e808c"/><circle cx="459.8" cy="235.4" r="4.6" fill="#345a8a"/><circle cx="374.1" cy="427.1" r="4.6" fill="#482f79"/><circle cx="486.7" cy="291.5" r="4.6" fill="#305f8b"/><circle cx="468.6" cy="219.1" r="4.6" fill="#36568a"/><circle cx="534.4" cy="126.5" r="4.6" fill="#47347d"/><circle cx="537.3" cy="148.6" r="4.6" fill="#25728c"/><circle cx="472.4" cy="305.0" r="4.6" fill="#2f618b"/><circle cx="360.9" cy="400.3" r="4.6" fill="#385389"/><circle cx="509.7" cy="236.1" r="4.6" fill="#325d8b"/><circle cx="481.7" cy="318.1" r="4.6" fill="#35578a"/><circle cx="434.7" cy="402.0" r="4.6" fill="#24748c"/><circle cx="487.2" cy="297.3" r="4.6" fill="#2e628b"/><circle cx="449.8" cy="363.7" r="4.6" fill="#335b8b"/><circle cx="495.1" cy="272.7" r="4.6" fill="#48327c"/><circle cx="513.6" cy="254.9" r="4.6" fill="#296b8c"/><circle cx="522.7" cy="185.7" r="4.6" fill="#34598a"/><circle cx="521.1" cy="184.1" r="4.6" fill="#3d4a87"/><circle cx="470.8" cy="319.3" r="4.6" fill="#2c668c"/><circle cx="349.9" cy="431.1" r="4.6" fill="#2f618b"/><circle cx="438.2" cy="408.2" r="4.6" fill="#24758c"/><circle cx="450.6" cy="327.8" r="4.6" fill="#35588a"/><circle cx="477.4" cy="332.8" r="4.6" fill="#23778c"/><circle cx="374.0" cy="432.1" r="4.6" fill="#345a8a"/><circle cx="490.5" cy="235.0" r="4.6" fill="#2a6a8c"/><circle cx="480.6" cy="276.1" r="4.6" fill="#2d658c"/><circle cx="479.3" cy="292.4" r="4.6" fill="#37558a"/><circle cx="411.9" cy="360.2" r="4.6" fill="#424184"/><circle cx="551.0" cy="203.0" r="4.6" fill="#29a575"/><circle cx="397.7" cy="409.1" r="4.6" fill="#207c8c"/><circle cx="473.8" cy="374.1" r="4.6" fill="#453a81"/><circle cx="420.0" cy="417.7" r="4.6" fill="#2f618b"/><circle cx="457.7" cy="369.9" r="4.6" fill="#34598a"/><circle cx="498.2" cy="369.3" r="4.6" fill="#47357e"/><circle cx="481.4" cy="324.0" r="4.6" fill="#2b698c"/><circle cx="422.6" cy="395.4" r="4.6" fill="#3b4c88"/><circle cx="524.9" cy="198.2" r="4.6" fill="#286d8c"/><circle cx="411.1" cy="435.0" r="4.6" fill="#2b698c"/><circle cx="462.7" cy="245.7" r="4.6" fill="#453980"/><circle cx="480.2" cy="307.6" r="4.6" fill="#2b698c"/><circle cx="520.9" cy="308.4" r="4.6" fill="#2e628b"/><circle cx="471.8" cy="245.0" r="4.6" fill="#3a5088"/><circle cx="437.2" cy="414.2" r="4.6" fill="#2d658c"/><circle cx="501.3" cy="270.2" r="4.6" fill="#34598a"/><circle cx="356.9" cy="424.2" r="4.6" fill="#2f618b"/><circle cx="480.4" cy="361.0" r="4.6" fill="#30608b"/><circle cx="441.8" cy="362.1" r="4.6" fill="#315e8b"/><circle cx="494.0" cy="272.6" r="4.6" fill="#2c678c"/><circle cx="391.2" cy="387.7" r="4.6" fill="#35588a"/><circle cx="491.6" cy="286.8" r="4.6" fill="#36568a"/><circle cx="372.0" cy="404.0" r="4.6" fill="#37558a"/><circle cx="403.2" cy="432.3" r="4.6" fill="#207c8c"/><circle cx="402.1" cy="375.9" r="4.6" fill="#424184"/><circle cx="529.3" cy="163.4" r="4.6" fill="#276f8c"/><circle cx="371.5" cy="436.8" r="4.6" fill="#25728c"/><circle cx="535.2" cy="149.8" r="4.6" fill="#424084"/><circle cx="407.2" cy="381.4" r="4.6" fill="#34598a"/><circle cx="436.8" cy="400.1" r="4.6" fill="#22798c"/><circle cx="504.2" cy="306.2" r="4.6" fill="#1d808c"/><circle cx="495.3" cy="188.7" r="4.6" fill="#414285"/><circle cx="473.6" cy="247.2" r="4.6" fill="#385389"/><circle cx="445.1" cy="286.2" r="4.6" fill="#36568a"/><circle cx="348.5" cy="429.5" r="4.6" fill="#24738c"/><circle cx="513.2" cy="236.8" r="4.6" fill="#30608b"/><circle cx="470.8" cy="271.8" r="4.6" fill="#35588a"/><circle cx="353.4" cy="370.2" r="4.6" fill="#2b688c"/><circle cx="525.4" cy="161.4" r="4.6" fill="#1e7f8c"/><circle cx="430.9" cy="364.3" r="4.6" fill="#325d8b"/><circle cx="467.3" cy="201.1" r="4.6" fill="#3a5088"/><circle cx="521.4" cy="200.0" r="4.6" fill="#2d658c"/><circle cx="435.0" cy="418.3" r="4.6" fill="#1c848b"/><circle cx="449.1" cy="332.4" r="4.6" fill="#2c678c"/><circle cx="371.6" cy="402.2" r="4.6" fill="#286e8c"/><circle cx="533.0" cy="162.6" r="4.6" fill="#414285"/><circle cx="504.5" cy="307.9" r="4.6" fill="#26708c"/><circle cx="420.4" cy="357.9" r="4.6" fill="#2c678c"/><circle cx="484.5" cy="218.8" r="4.6" fill="#433f83"/><circle cx="486.7" cy="332.2" r="4.6" fill="#24748c"/><circle cx="360.2" cy="429.9" r="4.6" fill="#2c678c"/><circle cx="481.9" cy="239.1" r="4.6" fill="#424184"/><circle cx="522.5" cy="159.7" r="4.6" fill="#3c4b87"/><circle cx="533.2" cy="143.7" r="4.6" fill="#47367e"/><circle cx="477.5" cy="305.5" r="4.6" fill="#2d658c"/><circle cx="517.6" cy="182.5" r="4.6" fill="#3f4686"/><circle cx="393.5" cy="413.8" r="4.6" fill="#1b878b"/><circle cx="516.6" cy="249.5" r="4.6" fill="#315e8b"/><circle cx="462.5" cy="339.4" r="4.6" fill="#30608b"/><circle cx="480.1" cy="284.6" r="4.6" fill="#286c8c"/><circle cx="524.5" cy="372.0" r="4.6" fill="#286c8c"/><circle cx="392.1" cy="389.4" r="4.6" fill="#2c678c"/><circle cx="393.1" cy="413.4" r="4.6" fill="#2f618b"/><circle cx="501.3" cy="276.4" r="4.6" fill="#24748c"/><circle cx="359.8" cy="408.2" r="4.6" fill="#34598a"/><circle cx="382.5" cy="409.8" r="4.6" fill="#305f8b"/><circle cx="270.6" cy="463.0" r="4.6" fill="#25728c"/><circle cx="501.5" cy="229.1" r="4.6" fill="#3b4d88"/><circle cx="489.5" cy="248.4" r="4.6" fill="#385389"/><circle cx="479.1" cy="221.0" r="4.6" fill="#3b4c88"/><circle cx="480.8" cy="276.7" r="4.6" fill="#385389"/><circle cx="341.0" cy="423.6" r="4.6" fill="#30608b"/><circle cx="508.6" cy="231.0" r="4.6" fill="#335c8b"/><circle cx="388.0" cy="424.5" r="4.6" fill="#2d658c"/><circle cx="407.2" cy="332.8" r="4.6" fill="#34598a"/><circle cx="428.9" cy="358.5" r="4.6" fill="#2d658c"/><circle cx="435.7" cy="387.0" r="4.6" fill="#25728c"/><circle cx="483.8" cy="303.3" r="4.6" fill="#35588a"/><circle cx="495.8" cy="347.6" r="4.6" fill="#2a6a8c"/><circle cx="523.8" cy="147.9" r="4.6" fill="#404586"/><circle cx="434.9" cy="318.7" r="4.6" fill="#37558a"/><circle cx="535.3" cy="300.0" r="4.6" fill="#453b81"/><circle cx="530.9" cy="170.2" r="4.6" fill="#335b8b"/><circle cx="456.6" cy="390.7" r="4.6" fill="#21798c"/><circle cx="494.4" cy="222.4" r="4.6" fill="#443c82"/><circle cx="532.4" cy="136.6" r="4.6" fill="#492b75"/><circle cx="410.5" cy="393.5" r="4.6" fill="#335c8b"/><circle cx="433.5" cy="408.8" r="4.6" fill="#2c668c"/><circle cx="350.5" cy="416.8" r="4.6" fill="#2d648c"/><circle cx="503.0" cy="258.5" r="4.6" fill="#325c8b"/><circle cx="514.2" cy="267.0" r="4.6" fill="#25728c"/><circle cx="414.8" cy="346.8" r="4.6" fill="#325d8b"/><circle cx="382.6" cy="437.7" r="4.6" fill="#22798c"/><circle cx="472.3" cy="304.3" r="4.6" fill="#217a8c"/><circle cx="446.5" cy="289.5" r="4.6" fill="#335c8b"/><circle cx="432.7" cy="410.4" r="4.6" fill="#385389"/><circle cx="507.0" cy="223.8" r="4.6" fill="#3e4886"/><circle cx="447.8" cy="307.1" r="4.6" fill="#453b81"/><circle cx="362.1" cy="432.5" r="4.6" fill="#1c848b"/><circle cx="464.9" cy="394.9" r="4.6" fill="#286e8c"/><circle cx="512.1" cy="247.3" r="4.6" fill="#286d8c"/><circle cx="487.0" cy="213.4" r="4.6" fill="#453a81"/><circle cx="481.3" cy="219.1" r="4.6" fill="#22788c"/><circle cx="337.0" cy="439.7" r="4.6" fill="#1a888a"/><circle cx="562.4" cy="101.6" r="4.6" fill="#1a8a8a"/><circle cx="391.0" cy="432.4" r="4.6" fill="#1b878b"/><circle cx="510.6" cy="205.6" r="4.6" fill="#35588a"/><circle cx="488.7" cy="272.3" r="4.6" fill="#2d648c"/><circle cx="336.7" cy="411.8" r="4.6" fill="#34598a"/><circle cx="374.4" cy="423.4" r="4.6" fill="#34598a"/><circle cx="336.2" cy="441.7" r="4.6" fill="#1c848b"/><circle cx="475.4" cy="346.4" r="4.6" fill="#2b688c"/><circle cx="500.4" cy="242.0" r="4.6" fill="#3b4d88"/><circle cx="433.2" cy="325.9" r="4.6" fill="#3d4b87"/><circle cx="456.3" cy="383.0" r="4.6" fill="#2a6a8c"/><circle cx="526.9" cy="154.7" r="4.6" fill="#3e4987"/><circle cx="520.8" cy="173.9" r="4.6" fill="#36568a"/><circle cx="475.0" cy="244.2" r="4.6" fill="#325c8b"/><circle cx="493.2" cy="270.9" r="4.6" fill="#26718c"/><circle cx="515.8" cy="222.7" r="4.6" fill="#2f618b"/><circle cx="482.2" cy="355.7" r="4.6" fill="#22788c"/><circle cx="500.6" cy="230.0" r="4.6" fill="#305f8b"/><circle cx="487.4" cy="282.0" r="4.6" fill="#23768c"/><circle cx="356.6" cy="409.6" r="4.6" fill="#24738c"/><circle cx="519.4" cy="177.8" r="4.6" fill="#3a4f88"/><circle cx="538.5" cy="126.2" r="4.6" fill="#404586"/><circle cx="491.7" cy="272.1" r="4.6" fill="#2f618b"/><circle cx="496.2" cy="288.2" r="4.6" fill="#2c668c"/><circle cx="496.9" cy="280.1" r="4.6" fill="#395189"/><circle cx="445.6" cy="263.2" r="4.6" fill="#2c678c"/><circle cx="502.0" cy="267.4" r="4.6" fill="#2d648c"/><circle cx="427.1" cy="382.6" r="4.6" fill="#296a8c"/><circle cx="515.8" cy="325.2" r="4.6" fill="#2e628b"/><circle cx="389.0" cy="412.6" r="4.6" fill="#2a6a8c"/><circle cx="510.0" cy="235.2" r="4.6" fill="#345a8a"/><circle cx="499.4" cy="195.0" r="4.6" fill="#315e8b"/><circle cx="477.7" cy="303.9" r="4.6" fill="#2e628b"/><circle cx="497.8" cy="289.6" r="4.6" fill="#2b698c"/><circle cx="360.6" cy="430.6" r="4.6" fill="#1c848b"/><circle cx="409.0" cy="402.5" r="4.6" fill="#305f8b"/><circle cx="402.4" cy="384.1" r="4.6" fill="#2d658c"/><circle cx="398.8" cy="411.4" r="4.6" fill="#25728c"/><circle cx="423.5" cy="329.5" r="4.6" fill="#2b688c"/><circle cx="546.4" cy="124.8" r="4.6" fill="#375489"/><circle cx="519.1" cy="207.0" r="4.6" fill="#3a4f88"/><circle cx="379.7" cy="434.0" r="4.6" fill="#305f8b"/><circle cx="519.8" cy="158.9" r="4.6" fill="#414385"/><circle cx="483.5" cy="296.8" r="4.6" fill="#2d658c"/><circle cx="511.5" cy="231.2" r="4.6" fill="#26718c"/><circle cx="454.5" cy="337.2" r="4.6" fill="#424084"/><circle cx="417.3" cy="423.6" r="4.6" fill="#26708c"/><circle cx="233.6" cy="427.8" r="4.6" fill="#2b688c"/><circle cx="478.2" cy="332.1" r="4.6" fill="#345a8a"/><circle cx="383.8" cy="403.6" r="4.6" fill="#46367e"/><circle cx="526.5" cy="164.4" r="4.6" fill="#433f83"/><circle cx="411.8" cy="340.8" r="4.6" fill="#3d4a87"/><circle cx="460.0" cy="277.9" r="4.6" fill="#3f4786"/><circle cx="507.9" cy="212.2" r="4.6" fill="#325d8b"/><circle cx="526.0" cy="187.2" r="4.6" fill="#30608b"/><circle cx="521.8" cy="273.2" r="4.6" fill="#2e628b"/><circle cx="528.9" cy="167.6" r="4.6" fill="#3b4c88"/><circle cx="502.8" cy="263.7" r="4.6" fill="#7aba4a"/><circle cx="386.1" cy="393.5" r="4.6" fill="#30608b"/><circle cx="464.8" cy="319.4" r="4.6" fill="#315e8b"/><circle cx="501.4" cy="329.3" r="4.6" fill="#23778c"/><circle cx="520.9" cy="150.7" r="4.6" fill="#424184"/><circle cx="475.0" cy="186.0" r="4.6" fill="#2a6a8c"/><circle cx="432.6" cy="343.6" r="4.6" fill="#345a8a"/><circle cx="463.7" cy="340.9" r="4.6" fill="#3a4f88"/><circle cx="502.0" cy="256.1" r="4.6" fill="#3d4b87"/><circle cx="445.9" cy="394.5" r="4.6" fill="#23778c"/><circle cx="509.2" cy="249.3" r="4.6" fill="#1f7e8c"/><circle cx="469.7" cy="250.1" r="4.6" fill="#414284"/><circle cx="392.7" cy="401.5" r="4.6" fill="#276f8c"/><circle cx="437.8" cy="356.5" r="4.6" fill="#2d658c"/><circle cx="450.1" cy="347.1" r="4.6" fill="#2e638c"/><circle cx="417.6" cy="341.1" r="4.6" fill="#35588a"/><circle cx="512.0" cy="175.4" r="4.6" fill="#47337c"/><circle cx="481.4" cy="254.4" r="4.6" fill="#2c678c"/><circle cx="418.9" cy="354.0" r="4.6" fill="#385289"/><circle cx="545.3" cy="177.1" r="4.6" fill="#1d808c"/><circle cx="545.4" cy="125.2" r="4.6" fill="#30608b"/><circle cx="488.2" cy="227.9" r="4.6" fill="#30608b"/><circle cx="309.4" cy="445.9" r="4.6" fill="#1c858b"/><circle cx="421.1" cy="427.9" r="4.6" fill="#375489"/><circle cx="460.0" cy="341.6" r="4.6" fill="#35588a"/><circle cx="532.5" cy="136.1" r="4.6" fill="#3d4b87"/><circle cx="534.3" cy="156.0" r="4.6" fill="#3e4987"/><circle cx="461.5" cy="260.8" r="4.6" fill="#375489"/><circle cx="338.6" cy="434.0" r="4.6" fill="#22788c"/><circle cx="339.3" cy="434.1" r="4.6" fill="#2b688c"/><circle cx="481.9" cy="299.9" r="4.6" fill="#37558a"/><circle cx="494.2" cy="353.1" r="4.6" fill="#335b8b"/><circle cx="500.1" cy="333.3" r="4.6" fill="#453b81"/><circle cx="289.5" cy="443.2" r="4.6" fill="#2e628b"/><circle cx="544.8" cy="159.5" r="4.6" fill="#1a9b81"/><circle cx="519.1" cy="170.1" r="4.6" fill="#36568a"/><circle cx="475.9" cy="283.1" r="4.6" fill="#3f4786"/><circle cx="471.1" cy="184.3" r="4.6" fill="#296a8c"/><circle cx="539.3" cy="143.1" r="4.6" fill="#286d8c"/><circle cx="373.4" cy="438.6" r="4.6" fill="#198e88"/><circle cx="404.8" cy="379.2" r="4.6" fill="#2e628b"/><circle cx="455.3" cy="322.6" r="4.6" fill="#37558a"/><circle cx="467.4" cy="387.4" r="4.6" fill="#26718c"/><circle cx="488.1" cy="296.3" r="4.6" fill="#385389"/><circle cx="467.4" cy="337.3" r="4.6" fill="#2d658c"/><circle cx="466.5" cy="332.4" r="4.6" fill="#2c668c"/><circle cx="500.9" cy="189.7" r="4.6" fill="#424084"/><circle cx="414.1" cy="377.6" r="4.6" fill="#2d648c"/><circle cx="511.9" cy="187.2" r="4.6" fill="#315e8b"/><circle cx="449.0" cy="399.0" r="4.6" fill="#217a8c"/><circle cx="456.8" cy="252.5" r="4.6" fill="#1d808c"/><circle cx="529.9" cy="149.6" r="4.6" fill="#385389"/><circle cx="417.6" cy="376.2" r="4.6" fill="#375489"/><circle cx="207.4" cy="432.3" r="4.6" fill="#286c8c"/><circle cx="521.5" cy="180.1" r="4.6" fill="#414385"/><circle cx="371.5" cy="402.4" r="4.6" fill="#3c4b87"/><circle cx="429.0" cy="329.6" r="4.6" fill="#3c4b87"/><circle cx="467.0" cy="282.5" r="4.6" fill="#286d8c"/><circle cx="510.9" cy="195.1" r="4.6" fill="#463880"/><circle cx="470.7" cy="289.6" r="4.6" fill="#375489"/><circle cx="456.3" cy="379.1" r="4.6" fill="#414285"/><circle cx="353.4" cy="428.1" r="4.6" fill="#315e8b"/><circle cx="525.2" cy="196.0" r="4.6" fill="#21798c"/><circle cx="492.6" cy="285.5" r="4.6" fill="#23768c"/><circle cx="479.7" cy="268.8" r="4.6" fill="#315e8b"/><circle cx="212.8" cy="433.8" r="4.6" fill="#2b688c"/><circle cx="357.6" cy="416.7" r="4.6" fill="#30608b"/><circle cx="403.9" cy="398.1" r="4.6" fill="#276e8c"/><circle cx="370.8" cy="420.0" r="4.6" fill="#2a6a8c"/><circle cx="447.0" cy="299.8" r="4.6" fill="#404586"/><circle cx="340.7" cy="422.2" r="4.6" fill="#2e628b"/><circle cx="529.9" cy="161.9" r="4.6" fill="#375489"/><circle cx="511.0" cy="162.2" r="4.6" fill="#46377f"/><circle cx="509.9" cy="244.7" r="4.6" fill="#276f8c"/><circle cx="537.5" cy="149.1" r="4.6" fill="#34598a"/><circle cx="256.1" cy="426.9" r="4.6" fill="#385289"/><circle cx="389.0" cy="420.2" r="4.6" fill="#325d8b"/><circle cx="445.5" cy="389.0" r="4.6" fill="#35588a"/><circle cx="369.4" cy="404.5" r="4.6" fill="#325c8b"/><circle cx="484.9" cy="305.6" r="4.6" fill="#1f7e8c"/><circle cx="454.6" cy="346.3" r="4.6" fill="#35578a"/><circle cx="404.7" cy="368.1" r="4.6" fill="#30608b"/><circle cx="417.3" cy="410.6" r="4.6" fill="#315e8b"/><circle cx="409.8" cy="382.1" r="4.6" fill="#315d8b"/><circle cx="389.1" cy="404.1" r="4.6" fill="#2b698c"/><circle cx="458.4" cy="362.2" r="4.6" fill="#1c9d7f"/><circle cx="396.5" cy="410.3" r="4.6" fill="#1e808c"/><circle cx="548.1" cy="119.0" r="4.6" fill="#30608b"/><circle cx="481.9" cy="244.6" r="4.6" fill="#3a5088"/><circle cx="545.7" cy="122.3" r="4.6" fill="#385389"/><circle cx="433.4" cy="371.3" r="4.6" fill="#34598a"/><circle cx="383.0" cy="403.9" r="4.6" fill="#2d648c"/><circle cx="375.1" cy="439.5" r="4.6" fill="#24738c"/><circle cx="481.6" cy="227.6" r="4.6" fill="#453a81"/><circle cx="451.3" cy="401.2" r="4.6" fill="#25728c"/><circle cx="472.8" cy="287.7" r="4.6" fill="#30608b"/><circle cx="501.8" cy="237.1" r="4.6" fill="#375489"/><circle cx="439.0" cy="396.7" r="4.6" fill="#2e628b"/><circle cx="220.0" cy="445.9" r="4.6" fill="#1d808c"/><circle cx="545.6" cy="120.3" r="4.6" fill="#424084"/><circle cx="398.6" cy="390.7" r="4.6" fill="#25728c"/><circle cx="397.4" cy="403.5" r="4.6" fill="#345a8a"/><circle cx="488.5" cy="221.7" r="4.6" fill="#3a4f88"/><circle cx="224.5" cy="442.3" r="4.6" fill="#286c8c"/><circle cx="476.0" cy="237.9" r="4.6" fill="#404485"/><circle cx="403.3" cy="402.9" r="4.6" fill="#2c668c"/><circle cx="389.1" cy="395.7" r="4.6" fill="#286c8c"/><circle cx="423.0" cy="398.0" r="4.6" fill="#2e638c"/><circle cx="482.7" cy="191.8" r="4.6" fill="#30608b"/><circle cx="318.4" cy="428.7" r="4.6" fill="#385289"/><circle cx="323.0" cy="436.9" r="4.6" fill="#276e8c"/><circle cx="382.8" cy="430.9" r="4.6" fill="#23778c"/><circle cx="459.5" cy="417.7" r="4.6" fill="#1c838c"/><circle cx="341.4" cy="392.4" r="4.6" fill="#23778c"/><circle cx="271.5" cy="441.4" r="4.6" fill="#1a8a8a"/><circle cx="489.6" cy="240.8" r="4.6" fill="#424084"/><circle cx="374.9" cy="430.9" r="4.6" fill="#296c8c"/><circle cx="436.0" cy="381.9" r="4.6" fill="#2d648c"/><circle cx="545.1" cy="121.3" r="4.6" fill="#3f4686"/><circle cx="507.6" cy="253.3" r="4.6" fill="#2e628b"/><circle cx="545.6" cy="121.7" r="4.6" fill="#414385"/><circle cx="513.8" cy="190.7" r="4.6" fill="#276f8c"/><circle cx="504.7" cy="200.5" r="4.6" fill="#3f4686"/><circle cx="548.2" cy="114.2" r="4.6" fill="#3f4686"/><circle cx="517.2" cy="169.8" r="4.6" fill="#335c8b"/><circle cx="319.8" cy="439.7" r="4.6" fill="#2b698c"/><circle cx="374.9" cy="428.3" r="4.6" fill="#207b8c"/><circle cx="396.8" cy="416.4" r="4.6" fill="#24738c"/><circle cx="434.1" cy="364.3" r="4.6" fill="#443d82"/><circle cx="436.8" cy="333.7" r="4.6" fill="#2c668c"/><circle cx="473.0" cy="268.9" r="4.6" fill="#3f4686"/><circle cx="387.8" cy="415.0" r="4.6" fill="#315e8b"/><circle cx="376.2" cy="426.1" r="4.6" fill="#26718c"/><circle cx="402.5" cy="405.3" r="4.6" fill="#217a8c"/><circle cx="387.3" cy="421.1" r="4.6" fill="#25728c"/><circle cx="337.3" cy="433.4" r="4.6" fill="#2a6a8c"/><circle cx="504.1" cy="192.9" r="4.6" fill="#3a5088"/><circle cx="481.4" cy="250.7" r="4.6" fill="#30608b"/><circle cx="463.6" cy="251.5" r="4.6" fill="#404586"/><circle cx="449.0" cy="293.6" r="4.6" fill="#3a5088"/><circle cx="371.2" cy="422.2" r="4.6" fill="#2f618b"/><circle cx="512.2" cy="252.3" r="4.6" fill="#24758c"/><circle cx="354.9" cy="438.1" r="4.6" fill="#2c678c"/><circle cx="509.4" cy="184.7" r="4.6" fill="#414285"/><circle cx="511.4" cy="219.9" r="4.6" fill="#34598a"/><circle cx="508.6" cy="237.6" r="4.6" fill="#2c668c"/><circle cx="479.8" cy="200.9" r="4.6" fill="#325c8b"/><circle cx="404.8" cy="338.7" r="4.6" fill="#2e628b"/><circle cx="419.5" cy="370.0" r="4.6" fill="#26708c"/><circle cx="478.7" cy="272.3" r="4.6" fill="#414385"/><circle cx="508.8" cy="210.2" r="4.6" fill="#3d4b87"/><circle cx="423.6" cy="324.6" r="4.6" fill="#286c8c"/><circle cx="511.3" cy="232.5" r="4.6" fill="#3b4d88"/><circle cx="412.6" cy="358.8" r="4.6" fill="#3a5088"/><circle cx="386.1" cy="404.8" r="4.6" fill="#199982"/><circle cx="338.8" cy="435.1" r="4.6" fill="#36568a"/><circle cx="391.9" cy="428.4" r="4.6" fill="#1d828c"/><circle cx="482.5" cy="249.8" r="4.6" fill="#3f4686"/><circle cx="506.2" cy="179.7" r="4.6" fill="#2c678c"/><circle cx="435.4" cy="364.9" r="4.6" fill="#385389"/><circle cx="391.5" cy="379.5" r="4.6" fill="#325c8b"/><circle cx="360.2" cy="435.2" r="4.6" fill="#25728c"/><circle cx="509.9" cy="244.3" r="4.6" fill="#2c678c"/><circle cx="498.7" cy="185.3" r="4.6" fill="#48327c"/><circle cx="487.4" cy="371.2" r="4.6" fill="#1d9e7e"/><circle cx="471.0" cy="286.8" r="4.6" fill="#385289"/><circle cx="429.2" cy="433.2" r="4.6" fill="#315e8b"/><circle cx="473.8" cy="422.1" r="4.6" fill="#207c8c"/><circle cx="486.1" cy="313.0" r="4.6" fill="#2b688c"/><circle cx="405.4" cy="416.6" r="4.6" fill="#2a6a8c"/><circle cx="429.8" cy="388.7" r="4.6" fill="#315e8b"/><circle cx="412.8" cy="419.2" r="4.6" fill="#2a6a8c"/><circle cx="537.5" cy="129.9" r="4.6" fill="#3f4786"/><circle cx="405.4" cy="411.2" r="4.6" fill="#2d658c"/><circle cx="458.1" cy="325.6" r="4.6" fill="#3a5088"/><circle cx="398.4" cy="386.5" r="4.6" fill="#26718c"/><circle cx="507.1" cy="253.2" r="4.6" fill="#296c8c"/><circle cx="505.2" cy="189.8" r="4.6" fill="#3c4c87"/><circle cx="512.5" cy="177.4" r="4.6" fill="#3c4b87"/><circle cx="355.8" cy="402.9" r="4.6" fill="#335c8b"/><circle cx="419.4" cy="420.4" r="4.6" fill="#2e628b"/><circle cx="373.1" cy="419.5" r="4.6" fill="#325c8b"/><circle cx="515.3" cy="189.6" r="4.6" fill="#3a4f88"/><circle cx="431.9" cy="365.3" r="4.6" fill="#37558a"/><circle cx="391.4" cy="429.9" r="4.6" fill="#26708c"/><circle cx="487.0" cy="237.0" r="4.6" fill="#23768c"/><circle cx="508.9" cy="310.3" r="4.6" fill="#395189"/><circle cx="533.9" cy="161.0" r="4.6" fill="#2e638c"/><circle cx="482.5" cy="224.1" r="4.6" fill="#443d82"/><circle cx="488.0" cy="294.2" r="4.6" fill="#35588a"/><circle cx="535.7" cy="142.3" r="4.6" fill="#385289"/><circle cx="339.5" cy="433.3" r="4.6" fill="#2c678c"/><circle cx="415.1" cy="346.6" r="4.6" fill="#34598a"/><circle cx="336.6" cy="410.3" r="4.6" fill="#30608b"/><circle cx="391.5" cy="412.4" r="4.6" fill="#207b8c"/><circle cx="363.7" cy="403.1" r="4.6" fill="#385389"/><circle cx="474.4" cy="276.9" r="4.6" fill="#3e4987"/><circle cx="442.4" cy="368.3" r="4.6" fill="#3d4a87"/><circle cx="413.5" cy="412.7" r="4.6" fill="#25738c"/><circle cx="474.8" cy="281.7" r="4.6" fill="#34598a"/><circle cx="448.6" cy="307.3" r="4.6" fill="#22778c"/><circle cx="431.8" cy="412.5" r="4.6" fill="#22778c"/><circle cx="443.8" cy="380.1" r="4.6" fill="#23778c"/><circle cx="452.7" cy="399.7" r="4.6" fill="#2f618b"/><circle cx="435.7" cy="340.1" r="4.6" fill="#325c8b"/><circle cx="321.6" cy="424.3" r="4.6" fill="#24738c"/><circle cx="372.2" cy="426.4" r="4.6" fill="#22798c"/><circle cx="416.4" cy="387.0" r="4.6" fill="#2f618b"/><circle cx="488.1" cy="261.6" r="4.6" fill="#3d4b87"/><circle cx="541.6" cy="120.4" r="4.6" fill="#47357e"/><circle cx="500.0" cy="322.0" r="4.6" fill="#1e808c"/><circle cx="496.0" cy="222.0" r="4.6" fill="#3a4f88"/><circle cx="393.9" cy="389.1" r="4.6" fill="#3a4f88"/><circle cx="469.5" cy="298.1" r="4.6" fill="#2d648c"/><circle cx="473.2" cy="252.2" r="4.6" fill="#424084"/><circle cx="517.6" cy="172.3" r="4.6" fill="#453980"/><circle cx="445.5" cy="303.4" r="4.6" fill="#3b4d88"/><circle cx="506.4" cy="183.6" r="4.6" fill="#3b4d88"/><circle cx="480.0" cy="274.1" r="4.6" fill="#3d4a87"/><circle cx="535.8" cy="136.2" r="4.6" fill="#2e638c"/><circle cx="485.3" cy="283.9" r="4.6" fill="#3a5088"/><circle cx="457.2" cy="418.8" r="4.6" fill="#2a6a8c"/><circle cx="326.2" cy="415.2" r="4.6" fill="#36568a"/><circle cx="501.2" cy="172.2" r="4.6" fill="#492f79"/><circle cx="533.8" cy="153.7" r="4.6" fill="#36568a"/><circle cx="491.1" cy="291.7" r="4.6" fill="#276e8c"/><circle cx="336.6" cy="424.8" r="4.6" fill="#30608b"/><circle cx="510.0" cy="216.9" r="4.6" fill="#23778c"/><circle cx="466.4" cy="284.0" r="4.6" fill="#3e4886"/><circle cx="515.7" cy="226.0" r="4.6" fill="#26718c"/><circle cx="420.5" cy="433.0" r="4.6" fill="#286e8c"/><circle cx="341.6" cy="425.5" r="4.6" fill="#385389"/><circle cx="512.2" cy="195.1" r="4.6" fill="#424184"/><circle cx="406.9" cy="407.4" r="4.6" fill="#2d648c"/><circle cx="489.6" cy="208.8" r="4.6" fill="#48307a"/><circle cx="439.9" cy="361.6" r="4.6" fill="#3a4f88"/><circle cx="376.6" cy="397.0" r="4.6" fill="#385289"/><circle cx="531.1" cy="136.9" r="4.6" fill="#325c8b"/><circle cx="494.6" cy="199.1" r="4.6" fill="#3e4886"/><circle cx="502.2" cy="310.1" r="4.6" fill="#305f8b"/><circle cx="252.2" cy="438.7" r="4.6" fill="#89c03c"/><circle cx="421.9" cy="396.1" r="4.6" fill="#345a8a"/><circle cx="458.6" cy="314.4" r="4.6" fill="#36568a"/><circle cx="496.8" cy="266.9" r="4.6" fill="#3a5088"/><circle cx="521.6" cy="167.1" r="4.6" fill="#375489"/><circle cx="406.8" cy="406.8" r="4.6" fill="#217a8c"/><circle cx="503.6" cy="183.5" r="4.6" fill="#3a4f88"/><circle cx="467.3" cy="286.1" r="4.6" fill="#345a8a"/><circle cx="511.4" cy="159.4" r="4.6" fill="#3e4886"/><circle cx="512.8" cy="317.1" r="4.6" fill="#1d808c"/><circle cx="154.2" cy="458.0" r="4.6" fill="#eae100"/><circle cx="351.1" cy="440.2" r="4.6" fill="#198c89"/><circle cx="436.8" cy="314.3" r="4.6" fill="#443d82"/><circle cx="484.6" cy="256.1" r="4.6" fill="#296c8c"/><circle cx="294.9" cy="439.6" r="4.6" fill="#23778c"/><circle cx="458.3" cy="275.7" r="4.6" fill="#414385"/><circle cx="432.6" cy="383.3" r="4.6" fill="#286c8c"/><circle cx="385.9" cy="344.2" r="4.6" fill="#2e628b"/><circle cx="324.1" cy="422.3" r="4.6" fill="#2e628b"/><circle cx="486.2" cy="242.1" r="4.6" fill="#395189"/><circle cx="514.2" cy="212.6" r="4.6" fill="#375489"/>
</g>
<line x1="178.50" y1="31.4" x2="178.50" y2="485.9" stroke="#c0c0c0" stroke-width="1.1"/>
<line x1="322.60" y1="31.4" x2="322.60" y2="485.9" stroke="#c0c0c0" stroke-width="1.1"/>
<line x1="466.70" y1="31.4" x2="466.70" y2="485.9" stroke="#c0c0c0" stroke-width="1.1"/>
<line x1="99.9" y1="466.00" x2="588.4" y2="466.00" stroke="#c0c0c0" stroke-width="1.1"/>
<line x1="99.9" y1="393.40" x2="588.4" y2="393.40" stroke="#c0c0c0" stroke-width="1.1"/>
<line x1="99.9" y1="320.80" x2="588.4" y2="320.80" stroke="#c0c0c0" stroke-width="1.1"/>
<line x1="99.9" y1="248.20" x2="588.4" y2="248.20" stroke="#c0c0c0" stroke-width="1.1"/>
<line x1="99.9" y1="175.60" x2="588.4" y2="175.60" stroke="#c0c0c0" stroke-width="1.1"/>
<line x1="99.9" y1="103.00" x2="588.4" y2="103.00" stroke="#c0c0c0" stroke-width="1.1"/>
<g clip-path="url(#cl)">
<path d="M120.9,465.8 L126.5,465.8 L132.1,465.7 L137.7,465.6 L143.3,465.5 L149.0,465.4 L154.6,465.3 L160.2,465.2 L165.8,465.0 L171.4,464.8 L177.0,464.6 L182.7,464.3 L188.3,464.0 L193.9,463.7 L199.5,463.3 L205.1,462.9 L210.7,462.5 L216.4,461.9 L222.0,461.4 L227.6,460.8 L233.2,460.1 L238.8,459.3 L244.5,458.5 L250.1,457.6 L255.7,456.6 L261.3,455.6 L266.9,454.4 L272.5,453.2 L278.2,451.8 L283.8,450.4 L289.4,448.8 L295.0,447.1 L300.6,445.3 L306.3,443.4 L311.9,441.3 L317.5,439.1 L323.1,436.7 L328.7,434.2 L334.3,431.5 L340.0,428.7 L345.6,425.7 L351.2,422.4 L356.8,419.0 L362.4,415.4 L368.1,411.6 L373.7,407.6 L379.3,403.3 L384.9,398.9 L390.5,394.1 L396.1,389.1 L401.8,383.9 L407.4,378.4 L413.0,372.6 L418.6,366.5 L424.2,360.1 L429.9,353.5 L435.5,346.5 L441.1,339.1 L446.7,331.5 L452.3,323.4 L457.9,315.0 L463.6,306.3 L469.2,297.1 L474.8,287.6 L480.4,277.7 L486.0,267.3 L491.7,256.5 L497.3,245.3 L502.9,233.6 L508.5,221.4 L514.1,208.7 L519.7,195.6 L525.4,181.9 L531.0,167.8 L536.6,153.1 L542.2,137.8 L547.8,122.0 L553.5,105.6 L559.1,88.6 L564.7,71.0" fill="none" stroke="#111" stroke-width="2.2" stroke-dasharray="7.4 3.5"/>
<path d="M120.9,465.9 L126.5,465.9 L132.1,465.9 L137.8,465.8 L143.4,465.8 L149.1,465.7 L154.7,465.7 L160.3,465.6 L166.0,465.5 L171.6,465.4 L177.2,465.2 L182.9,465.1 L188.5,464.9 L194.2,464.7 L199.8,464.5 L205.4,464.2 L211.1,463.9 L216.7,463.6 L222.3,463.2 L228.0,462.7 L233.6,462.3 L239.3,461.7 L244.9,461.1 L250.5,460.5 L256.2,459.8 L261.8,459.0 L267.5,458.1 L273.1,457.1 L278.7,456.1 L284.4,454.9 L290.0,453.7 L295.6,452.3 L301.3,450.8 L306.9,449.2 L312.6,447.5 L318.2,445.6 L323.8,443.6 L329.5,441.4 L335.1,439.1 L340.7,436.6 L346.4,433.9 L352.0,431.0 L357.7,427.9 L363.3,424.6 L368.9,421.1 L374.6,417.3 L380.2,413.3 L385.9,409.1 L391.5,404.6 L397.1,399.8 L402.8,394.7 L408.4,389.3 L414.0,383.6 L419.7,377.5 L425.3,371.1 L431.0,364.4 L436.6,357.2 L442.2,349.7 L447.9,341.8 L453.5,333.5 L459.1,324.7 L464.8,315.4 L470.4,305.7 L476.1,295.5 L481.7,284.8 L487.3,273.6 L493.0,261.8 L498.6,249.5 L504.3,236.6 L509.9,223.1 L515.5,208.9 L521.2,194.2 L526.8,178.7 L532.4,162.6 L538.1,145.7 L543.7,128.1 L549.4,109.8 L555.0,90.7 L560.6,70.8 L566.3,50.0" fill="none" stroke="#f00" stroke-width="2.1"/>
</g>
<rect x="99.9" y="31.4" width="488.50" height="454.50" fill="none" stroke="#1a1a1a" stroke-width="1.1"/>
<line x1="178.50" y1="485.9" x2="178.50" y2="490.59999999999997" stroke="#1a1a1a" stroke-width="1.1"/>
<text x="178.50" y="514.6" text-anchor="middle" font-family="DejaVu Sans, Liberation Sans, sans-serif" font-size="24.4" fill="#1c1c1c" stroke="#1c1c1c" stroke-width="0.4">1</text>
<line x1="322.60" y1="485.9" x2="322.60" y2="490.59999999999997" stroke="#1a1a1a" stroke-width="1.1"/>
<text x="322.60" y="514.6" text-anchor="middle" font-family="DejaVu Sans, Liberation Sans, sans-serif" font-size="24.4" fill="#1c1c1c" stroke="#1c1c1c" stroke-width="0.4">2</text>
<line x1="466.70" y1="485.9" x2="466.70" y2="490.59999999999997" stroke="#1a1a1a" stroke-width="1.1"/>
<text x="466.70" y="514.6" text-anchor="middle" font-family="DejaVu Sans, Liberation Sans, sans-serif" font-size="24.4" fill="#1c1c1c" stroke="#1c1c1c" stroke-width="0.4">3</text>
<line x1="95.2" y1="466.00" x2="99.9" y2="466.00" stroke="#1a1a1a" stroke-width="1.1"/>
<text x="89.30" y="475.10" text-anchor="end" font-family="DejaVu Sans, Liberation Sans, sans-serif" font-size="24.4" fill="#1c1c1c" stroke="#1c1c1c" stroke-width="0.4">0</text>
<line x1="95.2" y1="393.40" x2="99.9" y2="393.40" stroke="#1a1a1a" stroke-width="1.1"/>
<text x="89.30" y="402.50" text-anchor="end" font-family="DejaVu Sans, Liberation Sans, sans-serif" font-size="24.4" fill="#1c1c1c" stroke="#1c1c1c" stroke-width="0.4">20</text>
<line x1="95.2" y1="320.80" x2="99.9" y2="320.80" stroke="#1a1a1a" stroke-width="1.1"/>
<text x="89.30" y="329.90" text-anchor="end" font-family="DejaVu Sans, Liberation Sans, sans-serif" font-size="24.4" fill="#1c1c1c" stroke="#1c1c1c" stroke-width="0.4">40</text>
<line x1="95.2" y1="248.20" x2="99.9" y2="248.20" stroke="#1a1a1a" stroke-width="1.1"/>
<text x="89.30" y="257.30" text-anchor="end" font-family="DejaVu Sans, Liberation Sans, sans-serif" font-size="24.4" fill="#1c1c1c" stroke="#1c1c1c" stroke-width="0.4">60</text>
<line x1="95.2" y1="175.60" x2="99.9" y2="175.60" stroke="#1a1a1a" stroke-width="1.1"/>
<text x="89.30" y="184.70" text-anchor="end" font-family="DejaVu Sans, Liberation Sans, sans-serif" font-size="24.4" fill="#1c1c1c" stroke="#1c1c1c" stroke-width="0.4">80</text>
<line x1="95.2" y1="103.00" x2="99.9" y2="103.00" stroke="#1a1a1a" stroke-width="1.1"/>
<text x="89.30" y="112.10" text-anchor="end" font-family="DejaVu Sans, Liberation Sans, sans-serif" font-size="24.4" fill="#1c1c1c" stroke="#1c1c1c" stroke-width="0.4">100</text>
<g clip-path="url(#cr)">
<circle cx="1282.1" cy="111.2" r="4.6" fill="#46377f"/><circle cx="1261.3" cy="196.8" r="4.6" fill="#2a6a8c"/><circle cx="1222.7" cy="194.3" r="4.6" fill="#2c678c"/><circle cx="1229.5" cy="235.2" r="4.6" fill="#325d8b"/><circle cx="1222.3" cy="234.6" r="4.6" fill="#335c8b"/><circle cx="1265.8" cy="155.1" r="4.6" fill="#2f618b"/><circle cx="1160.1" cy="292.6" r="4.6" fill="#26708c"/><circle cx="1115.0" cy="317.2" r="4.6" fill="#217a8c"/><circle cx="1114.4" cy="314.9" r="4.6" fill="#22798c"/><circle cx="1290.6" cy="104.1" r="4.6" fill="#4a286c"/><circle cx="1351.3" cy="67.1" r="4.6" fill="#1a8a8a"/><circle cx="1346.2" cy="73.3" r="4.6" fill="#1c848b"/><circle cx="1186.5" cy="239.5" r="4.6" fill="#325c8b"/><circle cx="1235.3" cy="275.1" r="4.6" fill="#199883"/><circle cx="1160.6" cy="346.4" r="4.6" fill="#1d808c"/><circle cx="1151.2" cy="268.0" r="4.6" fill="#296b8c"/><circle cx="1309.1" cy="128.2" r="4.6" fill="#26718c"/><circle cx="1201.6" cy="254.9" r="4.6" fill="#315e8b"/><circle cx="1232.5" cy="218.2" r="4.6" fill="#2b688c"/><circle cx="1126.8" cy="390.1" r="4.6" fill="#189287"/><circle cx="1179.4" cy="238.8" r="4.6" fill="#443d82"/><circle cx="1215.5" cy="216.6" r="4.6" fill="#3b4d88"/><circle cx="1204.4" cy="241.5" r="4.6" fill="#24758c"/><circle cx="1281.2" cy="221.7" r="4.6" fill="#23778c"/><circle cx="1248.5" cy="177.8" r="4.6" fill="#345a8a"/><circle cx="1224.7" cy="173.7" r="4.6" fill="#3b4d88"/><circle cx="1203.7" cy="214.5" r="4.6" fill="#37558a"/><circle cx="1202.0" cy="221.1" r="4.6" fill="#2e638c"/><circle cx="1148.6" cy="282.7" r="4.6" fill="#2e628b"/><circle cx="1239.2" cy="177.8" r="4.6" fill="#47337c"/><circle cx="1243.3" cy="229.5" r="4.6" fill="#25728c"/><circle cx="1208.7" cy="226.6" r="4.6" fill="#26708c"/><circle cx="1214.3" cy="276.7" r="4.6" fill="#1c848b"/><circle cx="1212.7" cy="202.0" r="4.6" fill="#3b4e88"/><circle cx="1003.7" cy="348.6" r="4.6" fill="#47357e"/><circle cx="1215.5" cy="259.0" r="4.6" fill="#424084"/><circle cx="1169.1" cy="253.0" r="4.6" fill="#315e8b"/><circle cx="1286.7" cy="109.7" r="4.6" fill="#443d82"/><circle cx="1020.8" cy="332.8" r="4.6" fill="#2b688c"/><circle cx="1313.1" cy="94.6" r="4.6" fill="#35578a"/><circle cx="1311.6" cy="107.1" r="4.6" fill="#1f7e8c"/><circle cx="1217.1" cy="210.6" r="4.6" fill="#3b4d88"/><circle cx="1141.7" cy="354.9" r="4.6" fill="#1a888a"/><circle cx="1185.1" cy="290.2" r="4.6" fill="#198b89"/><circle cx="1239.1" cy="204.1" r="4.6" fill="#305f8b"/><circle cx="1318.6" cy="77.3" r="4.6" fill="#453b81"/><circle cx="1313.3" cy="107.0" r="4.6" fill="#35588a"/><circle cx="1187.7" cy="263.3" r="4.6" fill="#286d8c"/><circle cx="1220.3" cy="270.1" r="4.6" fill="#1d808c"/><circle cx="1249.6" cy="171.1" r="4.6" fill="#325c8b"/><circle cx="908.9" cy="415.8" r="4.6" fill="#1a9b81"/><circle cx="1054.6" cy="376.6" r="4.6" fill="#286c8c"/><circle cx="1271.6" cy="154.4" r="4.6" fill="#325c8b"/><circle cx="1227.9" cy="164.3" r="4.6" fill="#3a4f88"/><circle cx="1213.6" cy="209.2" r="4.6" fill="#3f4786"/><circle cx="1307.4" cy="189.8" r="4.6" fill="#1a9b81"/><circle cx="1233.7" cy="200.3" r="4.6" fill="#345a8a"/><circle cx="1139.6" cy="303.9" r="4.6" fill="#385389"/><circle cx="1298.1" cy="126.1" r="4.6" fill="#37558a"/><circle cx="1285.2" cy="169.5" r="4.6" fill="#2b688c"/><circle cx="1253.1" cy="204.3" r="4.6" fill="#2c668c"/><circle cx="1291.1" cy="136.0" r="4.6" fill="#3b4e88"/><circle cx="1344.1" cy="85.1" r="4.6" fill="#1d9e7e"/><circle cx="1218.4" cy="248.1" r="4.6" fill="#1f7e8c"/><circle cx="1190.7" cy="309.0" r="4.6" fill="#276e8c"/><circle cx="1304.7" cy="98.7" r="4.6" fill="#424084"/><circle cx="1269.0" cy="156.9" r="4.6" fill="#345a8a"/><circle cx="1280.1" cy="133.8" r="4.6" fill="#34598a"/><circle cx="1220.9" cy="255.9" r="4.6" fill="#1e808c"/><circle cx="1320.6" cy="76.0" r="4.6" fill="#48307a"/><circle cx="1251.2" cy="165.7" r="4.6" fill="#424184"/><circle cx="1275.9" cy="197.3" r="4.6" fill="#296b8c"/><circle cx="1322.8" cy="117.9" r="4.6" fill="#1f7e8c"/><circle cx="1227.5" cy="187.1" r="4.6" fill="#424084"/><circle cx="1323.0" cy="89.5" r="4.6" fill="#48317b"/><circle cx="1181.4" cy="248.9" r="4.6" fill="#35578a"/><circle cx="1181.0" cy="274.4" r="4.6" fill="#424084"/><circle cx="1256.5" cy="197.6" r="4.6" fill="#276e8c"/><circle cx="1151.4" cy="268.3" r="4.6" fill="#433e83"/><circle cx="1285.3" cy="123.6" r="4.6" fill="#3f4786"/><circle cx="1202.0" cy="272.6" r="4.6" fill="#199982"/><circle cx="1209.8" cy="250.7" r="4.6" fill="#2c668c"/><circle cx="1309.9" cy="94.2" r="4.6" fill="#453a81"/><circle cx="1273.7" cy="180.6" r="4.6" fill="#276e8c"/><circle cx="1090.7" cy="315.7" r="4.6" fill="#2b688c"/><circle cx="1286.1" cy="106.0" r="4.6" fill="#453a81"/><circle cx="1223.2" cy="248.3" r="4.6" fill="#26718c"/><circle cx="1310.7" cy="118.4" r="4.6" fill="#325c8b"/><circle cx="1272.3" cy="155.2" r="4.6" fill="#385389"/><circle cx="1110.0" cy="275.0" r="4.6" fill="#3b4e88"/><circle cx="1324.2" cy="78.0" r="4.6" fill="#3f4786"/><circle cx="1209.4" cy="201.4" r="4.6" fill="#37558a"/><circle cx="1295.1" cy="160.8" r="4.6" fill="#335b8b"/><circle cx="1214.4" cy="241.2" r="4.6" fill="#2d658c"/><circle cx="1284.7" cy="125.2" r="4.6" fill="#3b4d88"/><circle cx="1266.2" cy="131.2" r="4.6" fill="#375489"/><circle cx="1177.3" cy="356.3" r="4.6" fill="#286c8c"/><circle cx="1274.9" cy="168.9" r="4.6" fill="#2d658c"/><circle cx="1174.5" cy="291.7" r="4.6" fill="#2a6a8c"/><circle cx="1195.3" cy="269.2" r="4.6" fill="#207b8c"/><circle cx="1302.8" cy="111.6" r="4.6" fill="#3e4886"/><circle cx="1158.2" cy="260.5" r="4.6" fill="#23768c"/><circle cx="1076.3" cy="375.2" r="4.6" fill="#2b688c"/><circle cx="1250.1" cy="215.7" r="4.6" fill="#23778c"/><circle cx="1299.2" cy="129.9" r="4.6" fill="#315e8b"/><circle cx="1219.0" cy="195.3" r="4.6" fill="#345a8a"/><circle cx="1270.7" cy="144.1" r="4.6" fill="#3b4e88"/><circle cx="1224.9" cy="237.8" r="4.6" fill="#335b8b"/><circle cx="1193.6" cy="312.3" r="4.6" fill="#1e7f8c"/><circle cx="1290.2" cy="122.1" r="4.6" fill="#36568a"/><circle cx="1183.9" cy="236.6" r="4.6" fill="#325d8b"/><circle cx="1157.6" cy="232.2" r="4.6" fill="#2d648c"/><circle cx="1227.1" cy="194.0" r="4.6" fill="#345a8a"/><circle cx="1242.6" cy="224.1" r="4.6" fill="#296c8c"/><circle cx="1304.6" cy="316.6" r="4.6" fill="#22a27a"/><circle cx="1317.5" cy="88.9" r="4.6" fill="#2f618b"/><circle cx="1184.0" cy="311.2" r="4.6" fill="#198e89"/><circle cx="1214.8" cy="243.3" r="4.6" fill="#24748c"/><circle cx="1220.6" cy="194.7" r="4.6" fill="#35588a"/><circle cx="1219.7" cy="212.1" r="4.6" fill="#315d8b"/><circle cx="1306.0" cy="131.1" r="4.6" fill="#385289"/><circle cx="1170.0" cy="254.4" r="4.6" fill="#30608b"/><circle cx="1289.3" cy="129.0" r="4.6" fill="#35578a"/><circle cx="1326.0" cy="105.0" r="4.6" fill="#21798c"/><circle cx="1298.3" cy="151.8" r="4.6" fill="#36568a"/><circle cx="1186.3" cy="256.0" r="4.6" fill="#305f8b"/><circle cx="1242.3" cy="224.3" r="4.6" fill="#24738c"/><circle cx="1225.8" cy="194.2" r="4.6" fill="#34598a"/><circle cx="1132.2" cy="273.6" r="4.6" fill="#42ae67"/><circle cx="1313.8" cy="99.0" r="4.6" fill="#2c678c"/><circle cx="1262.7" cy="196.6" r="4.6" fill="#2b698c"/><circle cx="1322.7" cy="110.3" r="4.6" fill="#189486"/><circle cx="1279.4" cy="157.2" r="4.6" fill="#385289"/><circle cx="1305.4" cy="133.9" r="4.6" fill="#2e638c"/><circle cx="1237.1" cy="263.1" r="4.6" fill="#24738c"/><circle cx="1283.8" cy="155.8" r="4.6" fill="#2e638c"/><circle cx="1207.4" cy="221.1" r="4.6" fill="#286c8c"/><circle cx="1130.7" cy="289.7" r="4.6" fill="#217a8c"/><circle cx="1268.0" cy="176.0" r="4.6" fill="#276f8c"/><circle cx="1322.1" cy="95.6" r="4.6" fill="#1e7f8c"/><circle cx="1281.7" cy="140.5" r="4.6" fill="#424184"/><circle cx="1171.9" cy="349.5" r="4.6" fill="#286c8c"/><circle cx="1242.8" cy="156.6" r="4.6" fill="#404485"/><circle cx="1228.7" cy="203.7" r="4.6" fill="#345a8a"/><circle cx="1227.2" cy="221.8" r="4.6" fill="#395189"/><circle cx="1324.3" cy="76.7" r="4.6" fill="#48307a"/><circle cx="1284.4" cy="139.9" r="4.6" fill="#375489"/><circle cx="1252.7" cy="144.7" r="4.6" fill="#404586"/><circle cx="1230.0" cy="213.3" r="4.6" fill="#66b655"/><circle cx="1231.4" cy="164.9" r="4.6" fill="#443d82"/><circle cx="1230.0" cy="219.1" r="4.6" fill="#296a8c"/><circle cx="1272.1" cy="145.5" r="4.6" fill="#36568a"/><circle cx="1293.7" cy="121.6" r="4.6" fill="#433f83"/><circle cx="1283.2" cy="119.8" r="4.6" fill="#404586"/><circle cx="1123.3" cy="297.7" r="4.6" fill="#36568a"/><circle cx="1200.1" cy="285.5" r="4.6" fill="#2c678c"/><circle cx="1183.1" cy="300.3" r="4.6" fill="#286d8c"/><circle cx="1125.5" cy="294.3" r="4.6" fill="#2c668c"/><circle cx="1226.1" cy="182.9" r="4.6" fill="#3f4786"/><circle cx="1317.0" cy="97.4" r="4.6" fill="#3e4886"/><circle cx="1238.9" cy="231.6" r="4.6" fill="#276e8c"/><circle cx="1219.2" cy="221.4" r="4.6" fill="#3d4a87"/><circle cx="1189.5" cy="222.2" r="4.6" fill="#35578a"/><circle cx="1227.7" cy="182.8" r="4.6" fill="#315e8b"/><circle cx="959.9" cy="449.7" r="4.6" fill="#1a8a8a"/><circle cx="1152.7" cy="260.2" r="4.6" fill="#345a8a"/><circle cx="1323.9" cy="121.3" r="4.6" fill="#198f88"/><circle cx="1281.4" cy="145.7" r="4.6" fill="#46377f"/><circle cx="1282.2" cy="164.5" r="4.6" fill="#37558a"/><circle cx="1305.1" cy="102.0" r="4.6" fill="#404586"/><circle cx="1269.7" cy="152.5" r="4.6" fill="#433f83"/><circle cx="1321.8" cy="89.3" r="4.6" fill="#36568a"/><circle cx="1048.8" cy="386.5" r="4.6" fill="#1c858b"/><circle cx="1168.3" cy="284.8" r="4.6" fill="#23768c"/><circle cx="1245.0" cy="204.1" r="4.6" fill="#8cc13a"/><circle cx="1245.8" cy="192.5" r="4.6" fill="#325d8b"/><circle cx="1233.9" cy="235.5" r="4.6" fill="#24748c"/><circle cx="1281.2" cy="125.1" r="4.6" fill="#2e628b"/><circle cx="1244.6" cy="158.3" r="4.6" fill="#492b76"/><circle cx="1308.3" cy="122.4" r="4.6" fill="#286d8c"/><circle cx="1270.4" cy="148.1" r="4.6" fill="#305f8b"/><circle cx="1292.8" cy="124.8" r="4.6" fill="#3a5088"/><circle cx="1314.3" cy="101.4" r="4.6" fill="#3f4786"/><circle cx="1296.5" cy="164.9" r="4.6" fill="#2a6a8c"/><circle cx="1268.1" cy="136.1" r="4.6" fill="#30608b"/><circle cx="1322.0" cy="79.6" r="4.6" fill="#453980"/><circle cx="1179.1" cy="275.5" r="4.6" fill="#276e8c"/><circle cx="1198.4" cy="200.4" r="4.6" fill="#3e4886"/><circle cx="1253.9" cy="170.9" r="4.6" fill="#404586"/><circle cx="1228.1" cy="218.1" r="4.6" fill="#2b688c"/><circle cx="1274.1" cy="124.8" r="4.6" fill="#3c4c87"/><circle cx="1095.2" cy="323.4" r="4.6" fill="#1d808c"/><circle cx="1319.1" cy="98.8" r="4.6" fill="#2d658c"/><circle cx="1267.6" cy="159.4" r="4.6" fill="#3b4e88"/><circle cx="1198.1" cy="209.4" r="4.6" fill="#3d4b87"/><circle cx="1228.7" cy="228.7" r="4.6" fill="#2b688c"/><circle cx="1222.0" cy="204.4" r="4.6" fill="#3a5088"/><circle cx="1255.9" cy="187.8" r="4.6" fill="#2e628b"/><circle cx="1289.0" cy="154.4" r="4.6" fill="#2b698c"/><circle cx="1196.4" cy="290.3" r="4.6" fill="#2d648c"/><circle cx="1308.4" cy="110.7" r="4.6" fill="#3f4786"/><circle cx="1182.7" cy="281.0" r="4.6" fill="#276e8c"/><circle cx="1308.9" cy="127.0" r="4.6" fill="#22788c"/><circle cx="1275.8" cy="183.9" r="4.6" fill="#2a6a8c"/><circle cx="1317.6" cy="88.3" r="4.6" fill="#3b4e88"/><circle cx="1173.5" cy="306.8" r="4.6" fill="#22798c"/><circle cx="1330.6" cy="69.4" r="4.6" fill="#36568a"/><circle cx="1168.4" cy="272.8" r="4.6" fill="#453b81"/><circle cx="1191.6" cy="251.3" r="4.6" fill="#2b688c"/><circle cx="1249.1" cy="235.4" r="4.6" fill="#2c668c"/><circle cx="984.7" cy="365.3" r="4.6" fill="#286c8c"/><circle cx="1259.4" cy="194.1" r="4.6" fill="#2d658c"/><circle cx="1198.6" cy="212.5" r="4.6" fill="#3d4a87"/><circle cx="1178.5" cy="284.6" r="4.6" fill="#22798c"/><circle cx="1256.2" cy="218.5" r="4.6" fill="#2d648c"/><circle cx="1309.4" cy="131.9" r="4.6" fill="#2d658c"/><circle cx="1282.2" cy="120.1" r="4.6" fill="#404485"/><circle cx="1231.7" cy="205.0" r="4.6" fill="#3f4786"/><circle cx="1213.0" cy="182.9" r="4.6" fill="#375489"/><circle cx="1324.5" cy="78.7" r="4.6" fill="#335b8b"/><circle cx="1298.9" cy="117.3" r="4.6" fill="#3d4b87"/><circle cx="1157.6" cy="223.8" r="4.6" fill="#3b4d88"/><circle cx="1205.5" cy="184.8" r="4.6" fill="#2c668c"/><circle cx="1319.2" cy="107.6" r="4.6" fill="#198d89"/><circle cx="1012.7" cy="349.5" r="4.6" fill="#32a96f"/><circle cx="1256.5" cy="236.2" r="4.6" fill="#23778c"/><circle cx="1003.7" cy="358.6" r="4.6" fill="#1a9b81"/><circle cx="959.9" cy="405.9" r="4.6" fill="#2b688c"/><circle cx="1290.5" cy="124.7" r="4.6" fill="#34598a"/><circle cx="1142.8" cy="275.4" r="4.6" fill="#48307a"/><circle cx="1310.2" cy="93.5" r="4.6" fill="#3e4886"/><circle cx="1279.8" cy="124.7" r="4.6" fill="#47347d"/><circle cx="1255.0" cy="148.8" r="4.6" fill="#385389"/><circle cx="1319.5" cy="84.7" r="4.6" fill="#404586"/><circle cx="1335.8" cy="96.2" r="4.6" fill="#217a8c"/><circle cx="1208.0" cy="253.2" r="4.6" fill="#207b8c"/><circle cx="1264.9" cy="194.5" r="4.6" fill="#1e7f8c"/><circle cx="1228.5" cy="221.5" r="4.6" fill="#1c848b"/><circle cx="1279.6" cy="160.8" r="4.6" fill="#37558a"/><circle cx="1244.3" cy="176.2" r="4.6" fill="#414285"/><circle cx="1269.9" cy="163.7" r="4.6" fill="#34598a"/><circle cx="1162.7" cy="269.7" r="4.6" fill="#385289"/><circle cx="1205.0" cy="205.6" r="4.6" fill="#414285"/><circle cx="1281.1" cy="125.7" r="4.6" fill="#3a5088"/><circle cx="1178.8" cy="320.5" r="4.6" fill="#22778c"/><circle cx="1235.9" cy="233.3" r="4.6" fill="#34598a"/><circle cx="1194.9" cy="200.1" r="4.6" fill="#47367f"/><circle cx="1307.8" cy="98.1" r="4.6" fill="#453a81"/><circle cx="1172.3" cy="276.3" r="4.6" fill="#22798c"/><circle cx="1214.8" cy="219.0" r="4.6" fill="#25728c"/><circle cx="1184.8" cy="239.5" r="4.6" fill="#2f618b"/><circle cx="1310.4" cy="83.8" r="4.6" fill="#3d4a87"/><circle cx="1059.1" cy="369.8" r="4.6" fill="#286c8c"/><circle cx="950.9" cy="398.7" r="4.6" fill="#89c03c"/><circle cx="1194.4" cy="228.9" r="4.6" fill="#315d8b"/><circle cx="1354.9" cy="65.3" r="4.6" fill="#1a8a8a"/><circle cx="1280.8" cy="149.1" r="4.6" fill="#3a5088"/><circle cx="1177.5" cy="300.1" r="4.6" fill="#25728c"/><circle cx="1331.2" cy="95.2" r="4.6" fill="#207c8c"/><circle cx="1245.0" cy="146.7" r="4.6" fill="#424184"/><circle cx="1235.3" cy="245.6" r="4.6" fill="#1a898a"/><circle cx="1185.9" cy="240.5" r="4.6" fill="#276f8c"/><circle cx="1312.5" cy="93.3" r="4.6" fill="#424084"/><circle cx="1182.2" cy="289.5" r="4.6" fill="#25728c"/><circle cx="1316.4" cy="103.3" r="4.6" fill="#2d648c"/><circle cx="1320.0" cy="89.3" r="4.6" fill="#375489"/><circle cx="1319.7" cy="128.2" r="4.6" fill="#189287"/><circle cx="1200.9" cy="350.9" r="4.6" fill="#1d808c"/><circle cx="1268.4" cy="145.1" r="4.6" fill="#2e638c"/><circle cx="1211.1" cy="208.2" r="4.6" fill="#305f8b"/><circle cx="1092.5" cy="359.3" r="4.6" fill="#23768c"/><circle cx="1292.3" cy="101.2" r="4.6" fill="#47337c"/><circle cx="1140.9" cy="317.3" r="4.6" fill="#315e8b"/><circle cx="1280.2" cy="196.8" r="4.6" fill="#26718c"/><circle cx="1292.4" cy="116.4" r="4.6" fill="#395189"/><circle cx="1244.5" cy="208.7" r="4.6" fill="#26708c"/><circle cx="1281.4" cy="204.9" r="4.6" fill="#1d828c"/><circle cx="983.4" cy="393.7" r="4.6" fill="#286c8c"/><circle cx="1331.5" cy="61.7" r="4.6" fill="#4a296e"/><circle cx="1310.2" cy="107.8" r="4.6" fill="#335b8b"/><circle cx="1245.2" cy="232.1" r="4.6" fill="#26718c"/><circle cx="1160.6" cy="261.1" r="4.6" fill="#3d4a87"/><circle cx="1268.3" cy="180.7" r="4.6" fill="#23768c"/><circle cx="1234.8" cy="197.3" r="4.6" fill="#2e638c"/><circle cx="1221.5" cy="205.7" r="4.6" fill="#3a5088"/><circle cx="1282.8" cy="114.8" r="4.6" fill="#463880"/><circle cx="1223.0" cy="252.8" r="4.6" fill="#1e808c"/><circle cx="1286.4" cy="171.0" r="4.6" fill="#37558a"/><circle cx="1261.3" cy="376.1" r="4.6" fill="#1d808c"/><circle cx="1156.7" cy="310.3" r="4.6" fill="#1b878b"/><circle cx="1302.7" cy="94.4" r="4.6" fill="#48307a"/><circle cx="1161.3" cy="241.1" r="4.6" fill="#315e8b"/><circle cx="1213.7" cy="189.5" r="4.6" fill="#199784"/><circle cx="1269.8" cy="131.1" r="4.6" fill="#414285"/><circle cx="1200.5" cy="189.0" r="4.6" fill="#404586"/><circle cx="1325.6" cy="86.5" r="4.6" fill="#2e638c"/><circle cx="1223.1" cy="264.1" r="4.6" fill="#22778c"/><circle cx="1161.3" cy="279.0" r="4.6" fill="#1f7d8c"/><circle cx="1311.2" cy="111.3" r="4.6" fill="#404586"/><circle cx="1215.9" cy="179.6" r="4.6" fill="#404485"/><circle cx="1243.7" cy="231.4" r="4.6" fill="#2b688c"/><circle cx="1206.6" cy="280.3" r="4.6" fill="#1a8a8a"/><circle cx="1202.6" cy="282.2" r="4.6" fill="#2e638c"/><circle cx="1285.2" cy="242.2" r="4.6" fill="#2b688c"/><circle cx="1196.7" cy="241.6" r="4.6" fill="#2d648c"/><circle cx="1223.6" cy="269.6" r="4.6" fill="#1e7f8c"/><circle cx="1292.2" cy="129.9" r="4.6" fill="#404586"/><circle cx="1167.6" cy="233.9" r="4.6" fill="#404485"/><circle cx="971.2" cy="382.5" r="4.6" fill="#286c8c"/><circle cx="1191.9" cy="372.1" r="4.6" fill="#1a8a8a"/><circle cx="1212.0" cy="269.9" r="4.6" fill="#207b8c"/><circle cx="1231.6" cy="196.8" r="4.6" fill="#2d658c"/><circle cx="1148.5" cy="274.3" r="4.6" fill="#2a6a8c"/><circle cx="1205.9" cy="252.1" r="4.6" fill="#26718c"/><circle cx="1207.3" cy="239.4" r="4.6" fill="#26708c"/><circle cx="1006.4" cy="411.3" r="4.6" fill="#23778c"/><circle cx="1292.1" cy="125.7" r="4.6" fill="#34598a"/><circle cx="1151.1" cy="253.6" r="4.6" fill="#35588a"/><circle cx="1277.9" cy="162.5" r="4.6" fill="#404485"/><circle cx="1121.0" cy="302.0" r="4.6" fill="#2b698c"/><circle cx="1307.3" cy="112.1" r="4.6" fill="#35588a"/><circle cx="1233.7" cy="157.2" r="4.6" fill="#3a4f88"/><circle cx="1251.2" cy="204.0" r="4.6" fill="#2d658c"/><circle cx="1212.6" cy="205.8" r="4.6" fill="#424084"/><circle cx="1148.5" cy="291.2" r="4.6" fill="#305f8b"/><circle cx="1303.9" cy="113.7" r="4.6" fill="#3f4786"/><circle cx="1183.9" cy="213.7" r="4.6" fill="#3f4686"/><circle cx="1272.4" cy="176.7" r="4.6" fill="#26708c"/><circle cx="1198.6" cy="200.2" r="4.6" fill="#424184"/><circle cx="1227.8" cy="228.2" r="4.6" fill="#1c858b"/><circle cx="1133.8" cy="284.8" r="4.6" fill="#2b688c"/><circle cx="1195.7" cy="282.5" r="4.6" fill="#1c838c"/><circle cx="1222.2" cy="193.0" r="4.6" fill="#286d8c"/><circle cx="1216.7" cy="224.9" r="4.6" fill="#35578a"/><circle cx="1304.0" cy="113.4" r="4.6" fill="#315d8b"/><circle cx="1134.3" cy="271.8" r="4.6" fill="#207b8c"/><circle cx="1220.7" cy="171.9" r="4.6" fill="#3f4686"/><circle cx="1223.8" cy="169.2" r="4.6" fill="#463880"/><circle cx="1259.9" cy="130.1" r="4.6" fill="#3f4686"/><circle cx="1310.4" cy="118.6" r="4.6" fill="#2e638c"/><circle cx="1234.6" cy="270.3" r="4.6" fill="#1a8b89"/><circle cx="1237.6" cy="212.2" r="4.6" fill="#2a6a8c"/><circle cx="1259.0" cy="193.7" r="4.6" fill="#26718c"/><circle cx="1249.7" cy="173.6" r="4.6" fill="#345a8a"/><circle cx="1279.2" cy="207.6" r="4.6" fill="#2b688c"/><circle cx="1123.3" cy="265.8" r="4.6" fill="#36568a"/><circle cx="1279.0" cy="170.1" r="4.6" fill="#335b8b"/><circle cx="1156.6" cy="329.8" r="4.6" fill="#2a6a8c"/><circle cx="1307.3" cy="126.4" r="4.6" fill="#198d89"/><circle cx="1185.5" cy="319.7" r="4.6" fill="#1f7e8c"/><circle cx="1252.2" cy="185.1" r="4.6" fill="#35578a"/><circle cx="1316.2" cy="102.1" r="4.6" fill="#30608b"/><circle cx="1304.7" cy="104.3" r="4.6" fill="#424084"/><circle cx="1303.1" cy="127.7" r="4.6" fill="#3a5088"/><circle cx="1290.9" cy="164.5" r="4.6" fill="#2c678c"/><circle cx="1263.4" cy="209.3" r="4.6" fill="#1a898a"/><circle cx="1345.4" cy="87.9" r="4.6" fill="#1a8a8a"/><circle cx="1266.9" cy="173.5" r="4.6" fill="#217a8c"/><circle cx="1289.9" cy="127.5" r="4.6" fill="#24738c"/><circle cx="1185.0" cy="220.3" r="4.6" fill="#35588a"/><circle cx="1328.5" cy="76.0" r="4.6" fill="#2e628b"/><circle cx="1218.6" cy="243.2" r="4.6" fill="#296c8c"/><circle cx="1089.8" cy="375.2" r="4.6" fill="#1a9b81"/><circle cx="1180.1" cy="363.1" r="4.6" fill="#32a96f"/><circle cx="1175.2" cy="218.7" r="4.6" fill="#36568a"/><circle cx="1085.3" cy="278.3" r="4.6" fill="#453b81"/><circle cx="1344.9" cy="81.7" r="4.6" fill="#198e89"/><circle cx="1215.2" cy="262.7" r="4.6" fill="#1c848b"/><circle cx="1250.2" cy="221.9" r="4.6" fill="#2a6a8c"/><circle cx="1257.5" cy="193.9" r="4.6" fill="#2f618b"/><circle cx="1148.7" cy="330.8" r="4.6" fill="#2a6a8c"/><circle cx="1203.8" cy="275.3" r="4.6" fill="#22798c"/><circle cx="1249.1" cy="221.5" r="4.6" fill="#2b688c"/><circle cx="1260.3" cy="191.7" r="4.6" fill="#1d808c"/><circle cx="1287.5" cy="160.2" r="4.6" fill="#2c678c"/><circle cx="1312.1" cy="116.0" r="4.6" fill="#315e8b"/><circle cx="1248.8" cy="173.1" r="4.6" fill="#3d4b87"/><circle cx="1250.0" cy="143.0" r="4.6" fill="#443d82"/><circle cx="1217.6" cy="205.4" r="4.6" fill="#385289"/><circle cx="1189.7" cy="243.6" r="4.6" fill="#3a5088"/><circle cx="1247.0" cy="157.5" r="4.6" fill="#433f83"/><circle cx="1148.5" cy="332.8" r="4.6" fill="#276f8c"/><circle cx="1149.0" cy="349.1" r="4.6" fill="#1c838b"/><circle cx="1274.4" cy="177.0" r="4.6" fill="#35578a"/><circle cx="1180.1" cy="252.9" r="4.6" fill="#22788c"/><circle cx="1263.1" cy="153.0" r="4.6" fill="#414385"/><circle cx="1238.6" cy="260.1" r="4.6" fill="#414385"/><circle cx="1309.1" cy="110.8" r="4.6" fill="#3c4c87"/><circle cx="1237.2" cy="172.8" r="4.6" fill="#424084"/><circle cx="1247.4" cy="187.1" r="4.6" fill="#2d648c"/><circle cx="1174.0" cy="282.3" r="4.6" fill="#35588a"/><circle cx="1254.2" cy="218.0" r="4.6" fill="#286d8c"/><circle cx="1317.1" cy="106.6" r="4.6" fill="#24748c"/><circle cx="1159.6" cy="223.2" r="4.6" fill="#443c82"/><circle cx="1313.3" cy="108.5" r="4.6" fill="#3e4886"/><circle cx="1320.2" cy="83.3" r="4.6" fill="#3d4a87"/><circle cx="1261.8" cy="203.3" r="4.6" fill="#2e628b"/><circle cx="1261.8" cy="157.7" r="4.6" fill="#3e4886"/><circle cx="1270.9" cy="172.2" r="4.6" fill="#2e638c"/><circle cx="1296.0" cy="164.0" r="4.6" fill="#26718c"/><circle cx="1215.0" cy="250.0" r="4.6" fill="#23768c"/><circle cx="1199.2" cy="237.9" r="4.6" fill="#1e808c"/><circle cx="1255.1" cy="213.0" r="4.6" fill="#2e638c"/><circle cx="1233.7" cy="211.3" r="4.6" fill="#335b8b"/><circle cx="1326.1" cy="76.5" r="4.6" fill="#404485"/><circle cx="1113.9" cy="317.9" r="4.6" fill="#296b8c"/><circle cx="1178.7" cy="363.0" r="4.6" fill="#286c8c"/><circle cx="1265.0" cy="190.1" r="4.6" fill="#315e8b"/><circle cx="1231.7" cy="201.5" r="4.6" fill="#305f8b"/><circle cx="1320.8" cy="78.4" r="4.6" fill="#47367f"/><circle cx="1302.4" cy="312.1" r="4.6" fill="#2b688c"/><circle cx="1298.8" cy="112.3" r="4.6" fill="#375489"/><circle cx="1325.1" cy="88.3" r="4.6" fill="#286d8c"/><circle cx="1298.3" cy="124.0" r="4.6" fill="#3a5088"/><circle cx="1107.4" cy="345.8" r="4.6" fill="#25728c"/><circle cx="1289.6" cy="151.8" r="4.6" fill="#315e8b"/><circle cx="1242.2" cy="210.2" r="4.6" fill="#34598a"/><circle cx="1227.1" cy="190.1" r="4.6" fill="#424084"/><circle cx="1200.6" cy="231.9" r="4.6" fill="#2d658c"/><circle cx="1129.4" cy="292.4" r="4.6" fill="#2a6a8c"/><circle cx="1307.9" cy="110.7" r="4.6" fill="#35578a"/><circle cx="1298.8" cy="140.3" r="4.6" fill="#315e8b"/><circle cx="1304.9" cy="106.6" r="4.6" fill="#453980"/><circle cx="1307.2" cy="148.5" r="4.6" fill="#1a888a"/><circle cx="1316.5" cy="115.2" r="4.6" fill="#189486"/><circle cx="1326.1" cy="83.8" r="4.6" fill="#2c678c"/><circle cx="1297.7" cy="102.7" r="4.6" fill="#47357e"/><circle cx="1218.5" cy="342.8" r="4.6" fill="#2b688c"/><circle cx="1314.7" cy="95.2" r="4.6" fill="#3c4b87"/><circle cx="1199.1" cy="245.3" r="4.6" fill="#296c8c"/><circle cx="1184.0" cy="234.1" r="4.6" fill="#23768c"/><circle cx="1266.8" cy="126.2" r="4.6" fill="#47347d"/><circle cx="1290.0" cy="150.6" r="4.6" fill="#1d818c"/><circle cx="1284.3" cy="115.4" r="4.6" fill="#47367e"/><circle cx="1330.9" cy="112.3" r="4.6" fill="#189486"/><circle cx="1205.7" cy="273.0" r="4.6" fill="#2a6a8c"/><circle cx="1217.0" cy="195.6" r="4.6" fill="#3d4a87"/><circle cx="1318.9" cy="95.2" r="4.6" fill="#325d8b"/><circle cx="1132.8" cy="269.4" r="4.6" fill="#315e8b"/><circle cx="1273.9" cy="186.4" r="4.6" fill="#25728c"/><circle cx="1280.4" cy="164.4" r="4.6" fill="#2e638c"/><circle cx="1329.2" cy="68.7" r="4.6" fill="#3f4786"/><circle cx="1313.3" cy="99.8" r="4.6" fill="#375489"/><circle cx="1253.6" cy="167.7" r="4.6" fill="#3e4987"/><circle cx="1158.1" cy="251.6" r="4.6" fill="#35588a"/><circle cx="1309.5" cy="134.1" r="4.6" fill="#1a898a"/><circle cx="1308.8" cy="139.9" r="4.6" fill="#1a898a"/><circle cx="1328.5" cy="74.3" r="4.6" fill="#3a4f88"/><circle cx="1283.3" cy="120.9" r="4.6" fill="#3b4e88"/><circle cx="1313.4" cy="121.2" r="4.6" fill="#296c8c"/><circle cx="1206.3" cy="295.7" r="4.6" fill="#23758c"/><circle cx="1159.4" cy="328.3" r="4.6" fill="#24748c"/><circle cx="1187.8" cy="294.1" r="4.6" fill="#22798c"/><circle cx="1309.3" cy="100.6" r="4.6" fill="#3b4e88"/><circle cx="1289.1" cy="211.7" r="4.6" fill="#296c8c"/><circle cx="1170.1" cy="320.6" r="4.6" fill="#217a8c"/><circle cx="1141.8" cy="242.9" r="4.6" fill="#404586"/><circle cx="1218.8" cy="176.9" r="4.6" fill="#345a8a"/><circle cx="1156.0" cy="335.5" r="4.6" fill="#1a888a"/><circle cx="994.6" cy="345.9" r="4.6" fill="#2e628b"/><circle cx="1195.1" cy="270.9" r="4.6" fill="#2c678c"/><circle cx="1327.6" cy="120.8" r="4.6" fill="#1a8b89"/><circle cx="1290.1" cy="117.5" r="4.6" fill="#443d82"/><circle cx="1291.1" cy="106.1" r="4.6" fill="#47357e"/><circle cx="1259.9" cy="139.4" r="4.6" fill="#404485"/><circle cx="1170.1" cy="281.2" r="4.6" fill="#2b688c"/><circle cx="1181.5" cy="216.7" r="4.6" fill="#217a8c"/><circle cx="1133.3" cy="306.3" r="4.6" fill="#23758c"/><circle cx="1313.2" cy="97.7" r="4.6" fill="#3d4a87"/><circle cx="1275.8" cy="163.8" r="4.6" fill="#2d648c"/><circle cx="1160.7" cy="298.4" r="4.6" fill="#2c678c"/><circle cx="1228.4" cy="210.7" r="4.6" fill="#2c678c"/><circle cx="1096.6" cy="418.5" r="4.6" fill="#1a8a8a"/><circle cx="1315.5" cy="108.8" r="4.6" fill="#2d648c"/><circle cx="1176.8" cy="241.3" r="4.6" fill="#25728c"/><circle cx="1265.5" cy="164.0" r="4.6" fill="#2a6a8c"/><circle cx="1274.0" cy="148.5" r="4.6" fill="#3d4b87"/><circle cx="1258.6" cy="193.5" r="4.6" fill="#23768c"/><circle cx="1219.1" cy="227.4" r="4.6" fill="#2d648c"/><circle cx="1275.9" cy="161.5" r="4.6" fill="#335c8b"/><circle cx="1320.2" cy="87.2" r="4.6" fill="#2e628b"/><circle cx="1326.8" cy="102.3" r="4.6" fill="#1d828c"/><circle cx="1319.5" cy="81.5" r="4.6" fill="#3b4e88"/><circle cx="1317.4" cy="100.1" r="4.6" fill="#404485"/><circle cx="1209.6" cy="275.4" r="4.6" fill="#22778c"/><circle cx="1243.7" cy="198.4" r="4.6" fill="#315e8b"/><circle cx="1207.3" cy="207.8" r="4.6" fill="#3b4e88"/><circle cx="1292.6" cy="137.1" r="4.6" fill="#36568a"/><circle cx="1161.7" cy="319.5" r="4.6" fill="#2e628b"/><circle cx="1251.0" cy="173.9" r="4.6" fill="#433f83"/><circle cx="1244.5" cy="191.3" r="4.6" fill="#2d658c"/><circle cx="1155.1" cy="239.5" r="4.6" fill="#395189"/><circle cx="1227.6" cy="192.4" r="4.6" fill="#2c678c"/><circle cx="1287.7" cy="134.7" r="4.6" fill="#3e4886"/><circle cx="1274.1" cy="127.9" r="4.6" fill="#424184"/><circle cx="1289.5" cy="132.3" r="4.6" fill="#2b688c"/><circle cx="1179.5" cy="259.3" r="4.6" fill="#276f8c"/><circle cx="1176.1" cy="234.9" r="4.6" fill="#2d648c"/><circle cx="1125.9" cy="295.4" r="4.6" fill="#325d8b"/><circle cx="1250.2" cy="186.4" r="4.6" fill="#22778c"/><circle cx="1227.3" cy="179.9" r="4.6" fill="#22778c"/><circle cx="1233.7" cy="274.8" r="4.6" fill="#1e808c"/><circle cx="1323.3" cy="84.5" r="4.6" fill="#315e8b"/><circle cx="1203.6" cy="239.3" r="4.6" fill="#2f618b"/><circle cx="1254.8" cy="168.1" r="4.6" fill="#3f4686"/><circle cx="1314.6" cy="103.5" r="4.6" fill="#2e638c"/><circle cx="1229.5" cy="243.3" r="4.6" fill="#189685"/><circle cx="1268.0" cy="141.8" r="4.6" fill="#433e83"/><circle cx="1222.1" cy="184.6" r="4.6" fill="#3a5088"/><circle cx="1274.4" cy="175.8" r="4.6" fill="#305f8b"/><circle cx="1284.2" cy="128.1" r="4.6" fill="#404485"/><circle cx="1259.1" cy="141.8" r="4.6" fill="#404586"/><circle cx="1293.3" cy="132.1" r="4.6" fill="#3a4f88"/><circle cx="1252.4" cy="159.4" r="4.6" fill="#443c82"/><circle cx="1191.2" cy="295.9" r="4.6" fill="#189585"/><circle cx="1274.2" cy="176.5" r="4.6" fill="#2c668c"/><circle cx="1318.3" cy="91.1" r="4.6" fill="#433e83"/><circle cx="1261.4" cy="145.5" r="4.6" fill="#453b81"/><circle cx="1272.3" cy="178.1" r="4.6" fill="#30608b"/><circle cx="1273.9" cy="132.7" r="4.6" fill="#47347d"/><circle cx="1172.6" cy="225.9" r="4.6" fill="#305f8b"/><circle cx="1326.1" cy="78.4" r="4.6" fill="#443d82"/><circle cx="1238.0" cy="270.7" r="4.6" fill="#22788c"/><circle cx="1146.0" cy="315.6" r="4.6" fill="#2a6a8c"/><circle cx="1304.3" cy="133.3" r="4.6" fill="#2e628b"/><circle cx="1261.0" cy="192.9" r="4.6" fill="#2e628b"/><circle cx="1153.9" cy="243.7" r="4.6" fill="#296b8c"/><circle cx="1223.7" cy="270.7" r="4.6" fill="#296b8c"/><circle cx="1265.0" cy="164.1" r="4.6" fill="#325d8b"/><circle cx="1300.6" cy="154.6" r="4.6" fill="#2a6a8c"/><circle cx="1218.9" cy="348.2" r="4.6" fill="#2b688c"/><circle cx="1210.5" cy="238.2" r="4.6" fill="#3a4f88"/><circle cx="1264.6" cy="166.6" r="4.6" fill="#35578a"/><circle cx="1273.8" cy="172.8" r="4.6" fill="#315e8b"/><circle cx="1295.5" cy="128.8" r="4.6" fill="#36568a"/><circle cx="1172.2" cy="294.8" r="4.6" fill="#1c858b"/><circle cx="1300.1" cy="103.7" r="4.6" fill="#385289"/><circle cx="1239.3" cy="199.5" r="4.6" fill="#2d648c"/><circle cx="1275.2" cy="175.6" r="4.6" fill="#345a8a"/><circle cx="1211.7" cy="272.6" r="4.6" fill="#1a898a"/><circle cx="1157.4" cy="271.4" r="4.6" fill="#207b8c"/><circle cx="1330.0" cy="71.7" r="4.6" fill="#207b8c"/><circle cx="1306.3" cy="125.1" r="4.6" fill="#1d808c"/><circle cx="1038.8" cy="328.3" r="4.6" fill="#89c03c"/><circle cx="1306.0" cy="132.7" r="4.6" fill="#2e638c"/><circle cx="1217.1" cy="201.2" r="4.6" fill="#30608b"/><circle cx="1297.7" cy="102.8" r="4.6" fill="#424184"/><circle cx="1292.3" cy="107.7" r="4.6" fill="#47367e"/><circle cx="1278.2" cy="175.2" r="4.6" fill="#2a6a8c"/><circle cx="1296.0" cy="99.0" r="4.6" fill="#47357e"/><circle cx="1281.6" cy="119.7" r="4.6" fill="#482f79"/><circle cx="1194.6" cy="220.6" r="4.6" fill="#2e638c"/><circle cx="1278.9" cy="143.1" r="4.6" fill="#395189"/><circle cx="1199.2" cy="219.2" r="4.6" fill="#25728c"/><circle cx="1219.8" cy="212.7" r="4.6" fill="#385289"/><circle cx="1119.5" cy="298.6" r="4.6" fill="#36568a"/><circle cx="1214.8" cy="275.9" r="4.6" fill="#26718c"/><circle cx="927.0" cy="419.4" r="4.6" fill="#89c03c"/><circle cx="1246.3" cy="153.5" r="4.6" fill="#414285"/><circle cx="1204.3" cy="196.1" r="4.6" fill="#414385"/><circle cx="1129.1" cy="270.8" r="4.6" fill="#286d8c"/><circle cx="1315.6" cy="96.0" r="4.6" fill="#404586"/><circle cx="1325.1" cy="101.4" r="4.6" fill="#189486"/><circle cx="1320.3" cy="79.8" r="4.6" fill="#3f4686"/><circle cx="1213.2" cy="261.2" r="4.6" fill="#2e638c"/><circle cx="1279.3" cy="134.2" r="4.6" fill="#433f83"/><circle cx="1318.3" cy="106.3" r="4.6" fill="#21798c"/><circle cx="1239.4" cy="174.1" r="4.6" fill="#37558a"/><circle cx="1269.9" cy="146.2" r="4.6" fill="#2d658c"/><circle cx="1200.0" cy="211.2" r="4.6" fill="#3e4987"/><circle cx="1118.4" cy="262.6" r="4.6" fill="#35588a"/><circle cx="1180.7" cy="298.5" r="4.6" fill="#1b878b"/><circle cx="1305.1" cy="135.8" r="4.6" fill="#315d8b"/><circle cx="1308.0" cy="118.8" r="4.6" fill="#30608b"/><circle cx="1305.7" cy="124.2" r="4.6" fill="#2c668c"/><circle cx="1182.2" cy="257.3" r="4.6" fill="#2e638c"/><circle cx="1308.3" cy="89.5" r="4.6" fill="#433f83"/><circle cx="1054.6" cy="384.7" r="4.6" fill="#b7cf10"/><circle cx="1174.4" cy="243.3" r="4.6" fill="#1c858b"/><circle cx="1127.8" cy="283.1" r="4.6" fill="#2c678c"/><circle cx="946.4" cy="444.3" r="4.6" fill="#1a8a8a"/><circle cx="1270.1" cy="138.5" r="4.6" fill="#424084"/><circle cx="1325.4" cy="82.0" r="4.6" fill="#2c678c"/><circle cx="1276.3" cy="191.3" r="4.6" fill="#2c678c"/><circle cx="1170.5" cy="315.5" r="4.6" fill="#2a6a8c"/><circle cx="1166.0" cy="405.9" r="4.6" fill="#23778c"/><circle cx="1233.7" cy="211.4" r="4.6" fill="#3b4d88"/><circle cx="1288.5" cy="138.0" r="4.6" fill="#345a8a"/><circle cx="1314.7" cy="84.3" r="4.6" fill="#3d4a87"/><circle cx="1209.7" cy="220.4" r="4.6" fill="#385289"/><circle cx="1151.2" cy="233.9" r="4.6" fill="#385289"/><circle cx="1314.7" cy="100.6" r="4.6" fill="#30608b"/><circle cx="1163.9" cy="341.5" r="4.6" fill="#23778c"/><circle cx="1269.1" cy="165.0" r="4.6" fill="#3a5088"/><circle cx="1242.5" cy="200.4" r="4.6" fill="#395189"/><circle cx="1280.4" cy="125.3" r="4.6" fill="#3f4686"/><circle cx="1205.5" cy="272.7" r="4.6" fill="#2d658c"/><circle cx="1316.2" cy="105.3" r="4.6" fill="#3b4e88"/><circle cx="1325.9" cy="72.1" r="4.6" fill="#433f83"/><circle cx="1270.0" cy="163.0" r="4.6" fill="#37558a"/><circle cx="1154.5" cy="265.1" r="4.6" fill="#296b8c"/><circle cx="1247.6" cy="214.8" r="4.6" fill="#189088"/><circle cx="1292.7" cy="124.3" r="4.6" fill="#414285"/><circle cx="1315.1" cy="96.2" r="4.6" fill="#345a8a"/><circle cx="1146.2" cy="244.1" r="4.6" fill="#25728c"/><circle cx="1280.1" cy="190.1" r="4.6" fill="#2f618b"/><circle cx="1199.1" cy="225.1" r="4.6" fill="#2b688c"/><circle cx="1227.9" cy="232.6" r="4.6" fill="#23758c"/><circle cx="1280.8" cy="116.3" r="4.6" fill="#492b75"/><circle cx="1182.9" cy="281.7" r="4.6" fill="#276f8c"/><circle cx="1327.7" cy="78.1" r="4.6" fill="#2a6a8c"/><circle cx="1324.1" cy="80.8" r="4.6" fill="#404485"/><circle cx="1272.8" cy="141.4" r="4.6" fill="#3a5088"/><circle cx="1296.5" cy="152.8" r="4.6" fill="#335c8b"/><circle cx="1319.3" cy="104.0" r="4.6" fill="#1f7e8c"/><circle cx="1313.9" cy="87.1" r="4.6" fill="#46367e"/><circle cx="1299.2" cy="99.8" r="4.6" fill="#492c77"/><circle cx="1217.0" cy="185.3" r="4.6" fill="#34598a"/><circle cx="1302.7" cy="112.7" r="4.6" fill="#325d8b"/><circle cx="1265.3" cy="191.0" r="4.6" fill="#335b8b"/><circle cx="1211.3" cy="275.2" r="4.6" fill="#22798c"/><circle cx="1307.9" cy="132.7" r="4.6" fill="#48307a"/><circle cx="1251.0" cy="204.9" r="4.6" fill="#34598a"/><circle cx="1263.8" cy="152.5" r="4.6" fill="#2e628b"/><circle cx="1166.3" cy="218.9" r="4.6" fill="#404485"/><circle cx="1336.0" cy="124.8" r="4.6" fill="#6cb752"/><circle cx="1256.9" cy="178.0" r="4.6" fill="#34598a"/><circle cx="1245.1" cy="167.1" r="4.6" fill="#3a4f88"/><circle cx="1314.9" cy="91.2" r="4.6" fill="#433f83"/><circle cx="1180.9" cy="206.7" r="4.6" fill="#345a8a"/><circle cx="1285.0" cy="130.3" r="4.6" fill="#2e628b"/><circle cx="1265.2" cy="177.5" r="4.6" fill="#315e8b"/><circle cx="1293.6" cy="122.1" r="4.6" fill="#37558a"/><circle cx="1274.2" cy="163.7" r="4.6" fill="#335b8b"/><circle cx="1291.5" cy="115.0" r="4.6" fill="#3c4c87"/><circle cx="1129.7" cy="303.4" r="4.6" fill="#2c678c"/><circle cx="1225.3" cy="219.5" r="4.6" fill="#286d8c"/><circle cx="1246.9" cy="174.0" r="4.6" fill="#315e8b"/><circle cx="1246.3" cy="158.7" r="4.6" fill="#296b8c"/><circle cx="971.2" cy="373.4" r="4.6" fill="#198d89"/><circle cx="1231.0" cy="255.6" r="4.6" fill="#286d8c"/><circle cx="1165.7" cy="224.3" r="4.6" fill="#3d4a87"/><circle cx="1299.4" cy="100.2" r="4.6" fill="#443d82"/><circle cx="1169.5" cy="233.6" r="4.6" fill="#345a8a"/><circle cx="1207.6" cy="204.0" r="4.6" fill="#345a8a"/><circle cx="1208.7" cy="265.6" r="4.6" fill="#433e83"/><circle cx="1309.9" cy="107.4" r="4.6" fill="#34598a"/><circle cx="1288.2" cy="146.1" r="4.6" fill="#315e8b"/><circle cx="1326.2" cy="71.3" r="4.6" fill="#1a9b81"/><circle cx="1145.5" cy="262.5" r="4.6" fill="#35588a"/><circle cx="1287.7" cy="121.9" r="4.6" fill="#453980"/><circle cx="1320.0" cy="92.6" r="4.6" fill="#414285"/><circle cx="1235.1" cy="171.4" r="4.6" fill="#47357e"/><circle cx="1298.9" cy="112.9" r="4.6" fill="#453980"/><circle cx="1330.1" cy="69.1" r="4.6" fill="#404586"/><circle cx="1273.0" cy="159.9" r="4.6" fill="#335b8b"/><circle cx="1302.8" cy="135.3" r="4.6" fill="#23768c"/><circle cx="1323.1" cy="77.1" r="4.6" fill="#3b4c88"/><circle cx="1277.1" cy="173.6" r="4.6" fill="#26718c"/><circle cx="1239.3" cy="164.7" r="4.6" fill="#443c82"/><circle cx="1174.2" cy="293.5" r="4.6" fill="#48327c"/><circle cx="1132.3" cy="266.2" r="4.6" fill="#2b688c"/><circle cx="1231.8" cy="264.6" r="4.6" fill="#25728c"/><circle cx="1267.4" cy="201.5" r="4.6" fill="#25728c"/><circle cx="1324.8" cy="79.9" r="4.6" fill="#3e4987"/><circle cx="1142.3" cy="309.2" r="4.6" fill="#1c848b"/><circle cx="1233.1" cy="203.9" r="4.6" fill="#345a8a"/><circle cx="1234.4" cy="221.2" r="4.6" fill="#305f8b"/><circle cx="1237.5" cy="199.8" r="4.6" fill="#482f79"/><circle cx="1314.4" cy="104.1" r="4.6" fill="#385389"/><circle cx="1287.3" cy="177.6" r="4.6" fill="#2d658c"/><circle cx="1102.0" cy="272.9" r="4.6" fill="#47357e"/><circle cx="1172.9" cy="250.3" r="4.6" fill="#2b688c"/><circle cx="1317.6" cy="93.3" r="4.6" fill="#345a8a"/><circle cx="1158.4" cy="291.5" r="4.6" fill="#2b688c"/><circle cx="1286.5" cy="107.0" r="4.6" fill="#443c82"/><circle cx="1233.8" cy="192.0" r="4.6" fill="#2e638c"/><circle cx="1168.8" cy="365.3" r="4.6" fill="#286c8c"/><circle cx="1271.2" cy="150.6" r="4.6" fill="#2e628b"/><circle cx="1239.9" cy="194.3" r="4.6" fill="#35578a"/><circle cx="1106.7" cy="326.2" r="4.6" fill="#36568a"/><circle cx="1191.0" cy="203.9" r="4.6" fill="#46367e"/><circle cx="1226.7" cy="169.4" r="4.6" fill="#433f83"/><circle cx="1208.4" cy="213.0" r="4.6" fill="#3d4a87"/><circle cx="1266.2" cy="206.7" r="4.6" fill="#24738c"/><circle cx="1343.7" cy="77.2" r="4.6" fill="#21798c"/><circle cx="1136.6" cy="274.5" r="4.6" fill="#2f618b"/><circle cx="1262.6" cy="149.2" r="4.6" fill="#424184"/><circle cx="1269.6" cy="187.7" r="4.6" fill="#2c668c"/><circle cx="1239.0" cy="185.2" r="4.6" fill="#395189"/><circle cx="1257.7" cy="216.1" r="4.6" fill="#2b698c"/><circle cx="1262.3" cy="222.7" r="4.6" fill="#1c848b"/><circle cx="1264.5" cy="145.2" r="4.6" fill="#3f4786"/><circle cx="1282.3" cy="135.6" r="4.6" fill="#3f4686"/><circle cx="1112.4" cy="365.3" r="4.6" fill="#23778c"/><circle cx="1244.7" cy="203.2" r="4.6" fill="#35578a"/><circle cx="1329.0" cy="151.6" r="4.6" fill="#1c858b"/><circle cx="1178.4" cy="300.1" r="4.6" fill="#207b8c"/><circle cx="1214.9" cy="181.9" r="4.6" fill="#3b4d88"/><circle cx="1265.0" cy="161.8" r="4.6" fill="#35578a"/><circle cx="1334.0" cy="92.8" r="4.6" fill="#198e88"/><circle cx="1263.6" cy="153.2" r="4.6" fill="#325d8b"/><circle cx="1164.1" cy="295.1" r="4.6" fill="#1f7e8c"/><circle cx="1305.9" cy="123.3" r="4.6" fill="#385289"/><circle cx="1222.1" cy="174.1" r="4.6" fill="#3f4686"/><circle cx="1305.7" cy="102.4" r="4.6" fill="#47347d"/><circle cx="1207.7" cy="271.1" r="4.6" fill="#23768c"/><circle cx="1307.8" cy="116.6" r="4.6" fill="#335b8b"/><circle cx="1227.9" cy="202.5" r="4.6" fill="#3f4786"/><circle cx="1260.3" cy="205.0" r="4.6" fill="#2c668c"/><circle cx="1261.4" cy="140.7" r="4.6" fill="#375489"/><circle cx="1300.4" cy="119.1" r="4.6" fill="#395189"/><circle cx="1299.1" cy="107.5" r="4.6" fill="#385289"/><circle cx="1287.3" cy="163.3" r="4.6" fill="#1c838b"/><circle cx="1164.9" cy="304.6" r="4.6" fill="#1c838c"/><circle cx="1285.5" cy="150.7" r="4.6" fill="#375489"/><circle cx="1270.6" cy="145.3" r="4.6" fill="#375489"/><circle cx="1208.5" cy="268.7" r="4.6" fill="#24748c"/><circle cx="1337.6" cy="98.7" r="4.6" fill="#1c838c"/><circle cx="1263.6" cy="134.1" r="4.6" fill="#4a2a72"/><circle cx="1172.3" cy="264.4" r="4.6" fill="#335b8b"/><circle cx="1320.4" cy="92.1" r="4.6" fill="#3b4e88"/><circle cx="1170.3" cy="315.1" r="4.6" fill="#23778c"/><circle cx="1307.5" cy="100.0" r="4.6" fill="#3a4f88"/><circle cx="1128.9" cy="260.2" r="4.6" fill="#325d8b"/><circle cx="1209.8" cy="234.1" r="4.6" fill="#2b688c"/><circle cx="1325.3" cy="79.3" r="4.6" fill="#2e638c"/><circle cx="1266.6" cy="172.2" r="4.6" fill="#335c8b"/><circle cx="1204.8" cy="258.6" r="4.6" fill="#305f8b"/><circle cx="1244.4" cy="178.7" r="4.6" fill="#3e4886"/><circle cx="1246.7" cy="177.9" r="4.6" fill="#375489"/><circle cx="1137.3" cy="257.5" r="4.6" fill="#3f4686"/><circle cx="1271.5" cy="155.8" r="4.6" fill="#2c678c"/><circle cx="1143.5" cy="352.7" r="4.6" fill="#22a27a"/><circle cx="1280.6" cy="157.8" r="4.6" fill="#2c668c"/><circle cx="1281.6" cy="230.0" r="4.6" fill="#1d808c"/><circle cx="1261.8" cy="193.0" r="4.6" fill="#23778c"/><circle cx="1176.6" cy="227.3" r="4.6" fill="#286d8c"/><circle cx="1132.0" cy="327.0" r="4.6" fill="#22788c"/><circle cx="1175.8" cy="265.9" r="4.6" fill="#2e628b"/><circle cx="1296.6" cy="148.2" r="4.6" fill="#2a6a8c"/><circle cx="1310.6" cy="98.8" r="4.6" fill="#414385"/><circle cx="1285.8" cy="129.4" r="4.6" fill="#35578a"/><circle cx="1206.6" cy="221.2" r="4.6" fill="#2d648c"/><circle cx="1240.4" cy="155.3" r="4.6" fill="#414285"/><circle cx="1138.7" cy="279.2" r="4.6" fill="#2d648c"/><circle cx="1214.2" cy="216.8" r="4.6" fill="#2d648c"/><circle cx="1218.0" cy="201.1" r="4.6" fill="#37558a"/><circle cx="1162.0" cy="313.1" r="4.6" fill="#26718c"/><circle cx="1255.0" cy="134.8" r="4.6" fill="#453b81"/><circle cx="1231.4" cy="260.6" r="4.6" fill="#1d828c"/><circle cx="1089.4" cy="287.3" r="4.6" fill="#2e628b"/><circle cx="1174.4" cy="299.4" r="4.6" fill="#335b8b"/><circle cx="1177.7" cy="298.1" r="4.6" fill="#296b8c"/><circle cx="1318.7" cy="94.7" r="4.6" fill="#24748c"/><circle cx="1216.1" cy="221.5" r="4.6" fill="#207c8c"/><circle cx="1312.3" cy="97.2" r="4.6" fill="#335b8b"/><circle cx="1119.7" cy="294.5" r="4.6" fill="#2e628b"/><circle cx="1335.6" cy="52.7" r="4.6" fill="#4a276a"/><circle cx="1342.3" cy="101.4" r="4.6" fill="#1a8a8a"/><circle cx="1044.7" cy="326.1" r="4.6" fill="#2b688c"/><circle cx="1222.1" cy="248.0" r="4.6" fill="#1c848b"/><circle cx="1261.7" cy="172.2" r="4.6" fill="#335b8b"/><circle cx="1285.4" cy="241.6" r="4.6" fill="#2b688c"/><circle cx="1342.1" cy="85.2" r="4.6" fill="#198f88"/><circle cx="1276.2" cy="139.3" r="4.6" fill="#3d4a87"/><circle cx="1308.2" cy="92.0" r="4.6" fill="#335b8b"/><circle cx="1339.5" cy="98.5" r="4.6" fill="#23778c"/><circle cx="1257.0" cy="170.6" r="4.6" fill="#3b4d88"/><circle cx="1246.4" cy="201.4" r="4.6" fill="#315e8b"/><circle cx="1281.4" cy="187.9" r="4.6" fill="#25728c"/><circle cx="1345.8" cy="83.6" r="4.6" fill="#189685"/><circle cx="1202.8" cy="210.9" r="4.6" fill="#2a6a8c"/><circle cx="1268.9" cy="154.3" r="4.6" fill="#286c8c"/><circle cx="1306.9" cy="305.8" r="4.6" fill="#2e628b"/><circle cx="1239.4" cy="200.9" r="4.6" fill="#24748c"/><circle cx="1203.4" cy="226.9" r="4.6" fill="#24738c"/><circle cx="1280.6" cy="133.9" r="4.6" fill="#3f4686"/><circle cx="1177.7" cy="251.8" r="4.6" fill="#47347d"/><circle cx="1181.6" cy="264.5" r="4.6" fill="#2f618b"/><circle cx="1281.7" cy="117.4" r="4.6" fill="#3f4786"/><circle cx="1319.6" cy="86.5" r="4.6" fill="#433f83"/><circle cx="1082.6" cy="364.0" r="4.6" fill="#2b688c"/><circle cx="1200.4" cy="277.1" r="4.6" fill="#296c8c"/><circle cx="1281.2" cy="227.1" r="4.6" fill="#23778c"/><circle cx="1326.6" cy="71.9" r="4.6" fill="#453a81"/><circle cx="1302.8" cy="122.2" r="4.6" fill="#404485"/><circle cx="1301.8" cy="95.0" r="4.6" fill="#492e78"/><circle cx="1259.6" cy="175.4" r="4.6" fill="#305f8b"/><circle cx="1199.3" cy="215.9" r="4.6" fill="#35578a"/><circle cx="1065.0" cy="297.7" r="4.6" fill="#286c8c"/><circle cx="1186.6" cy="270.1" r="4.6" fill="#2c678c"/><circle cx="1259.2" cy="190.6" r="4.6" fill="#6cb752"/><circle cx="1295.6" cy="152.2" r="4.6" fill="#47357e"/><circle cx="1077.2" cy="321.1" r="4.6" fill="#6cb752"/><circle cx="1180.5" cy="301.1" r="4.6" fill="#2d658c"/><circle cx="1301.1" cy="105.6" r="4.6" fill="#404485"/><circle cx="1242.5" cy="168.7" r="4.6" fill="#3b4d88"/><circle cx="1209.4" cy="272.3" r="4.6" fill="#24738c"/><circle cx="1220.7" cy="282.4" r="4.6" fill="#217a8c"/><circle cx="1252.8" cy="158.7" r="4.6" fill="#404485"/><circle cx="1202.6" cy="297.9" r="4.6" fill="#404586"/><circle cx="1290.7" cy="148.5" r="4.6" fill="#35578a"/><circle cx="1232.0" cy="251.7" r="4.6" fill="#32a96f"/><circle cx="1309.6" cy="161.5" r="4.6" fill="#2b698c"/><circle cx="1243.9" cy="172.6" r="4.6" fill="#385389"/><circle cx="1265.6" cy="143.6" r="4.6" fill="#46367e"/><circle cx="1248.9" cy="175.0" r="4.6" fill="#335b8b"/><circle cx="1163.4" cy="299.2" r="4.6" fill="#1d818c"/><circle cx="1239.3" cy="167.5" r="4.6" fill="#3b4e88"/><circle cx="1225.8" cy="181.7" r="4.6" fill="#36568a"/><circle cx="1238.2" cy="163.2" r="4.6" fill="#453980"/><circle cx="1292.1" cy="150.1" r="4.6" fill="#22798c"/><circle cx="1282.3" cy="157.1" r="4.6" fill="#443c82"/><circle cx="1218.8" cy="212.2" r="4.6" fill="#305f8b"/><circle cx="1324.6" cy="88.2" r="4.6" fill="#1f7e8c"/><circle cx="1279.2" cy="128.2" r="4.6" fill="#305f8b"/><circle cx="1245.4" cy="227.9" r="4.6" fill="#21798c"/><circle cx="1249.0" cy="210.5" r="4.6" fill="#2c668c"/><circle cx="1247.4" cy="223.5" r="4.6" fill="#315d8b"/><circle cx="1291.9" cy="134.3" r="4.6" fill="#414285"/><circle cx="1280.8" cy="153.7" r="4.6" fill="#296b8c"/><circle cx="1312.9" cy="90.7" r="4.6" fill="#424084"/><circle cx="1265.0" cy="185.8" r="4.6" fill="#47347d"/><circle cx="1174.9" cy="266.4" r="4.6" fill="#26708c"/><circle cx="1230.9" cy="184.6" r="4.6" fill="#345a8a"/><circle cx="1328.3" cy="115.7" r="4.6" fill="#1c838c"/><circle cx="1214.4" cy="244.0" r="4.6" fill="#2d658c"/><circle cx="1268.0" cy="166.3" r="4.6" fill="#2a6a8c"/><circle cx="1220.2" cy="218.1" r="4.6" fill="#2d658c"/><circle cx="1229.7" cy="229.9" r="4.6" fill="#35588a"/><circle cx="1281.7" cy="114.0" r="4.6" fill="#375489"/><circle cx="1329.0" cy="96.1" r="4.6" fill="#207c8c"/><circle cx="1247.3" cy="167.1" r="4.6" fill="#2e638c"/><circle cx="1210.5" cy="223.3" r="4.6" fill="#23768c"/><circle cx="1285.3" cy="129.9" r="4.6" fill="#3a5088"/><circle cx="1234.8" cy="214.1" r="4.6" fill="#385389"/><circle cx="1114.0" cy="360.5" r="4.6" fill="#1b878b"/><circle cx="1214.9" cy="199.2" r="4.6" fill="#385289"/><circle cx="1318.8" cy="83.4" r="4.6" fill="#3d4a87"/><circle cx="1179.2" cy="260.3" r="4.6" fill="#217a8c"/><circle cx="1304.8" cy="125.2" r="4.6" fill="#35588a"/><circle cx="1317.7" cy="92.9" r="4.6" fill="#34598a"/><circle cx="1144.9" cy="310.8" r="4.6" fill="#315e8b"/><circle cx="1340.7" cy="91.9" r="4.6" fill="#1a898a"/><circle cx="1313.7" cy="308.0" r="4.6" fill="#47357e"/><circle cx="1225.3" cy="173.2" r="4.6" fill="#37558a"/><circle cx="1299.6" cy="108.7" r="4.6" fill="#3f4786"/><circle cx="1279.6" cy="142.2" r="4.6" fill="#3d4b87"/><circle cx="1244.5" cy="230.5" r="4.6" fill="#199983"/><circle cx="1096.4" cy="295.7" r="4.6" fill="#414285"/><circle cx="1212.6" cy="199.0" r="4.6" fill="#2c678c"/><circle cx="1269.0" cy="127.6" r="4.6" fill="#48317b"/><circle cx="1222.6" cy="220.8" r="4.6" fill="#296b8c"/><circle cx="1184.3" cy="303.4" r="4.6" fill="#1d808c"/><circle cx="1236.1" cy="216.5" r="4.6" fill="#325d8b"/><circle cx="1201.8" cy="359.9" r="4.6" fill="#1d808c"/><circle cx="1242.6" cy="169.2" r="4.6" fill="#385289"/><circle cx="1250.0" cy="202.5" r="4.6" fill="#276f8c"/><circle cx="1265.7" cy="150.2" r="4.6" fill="#96c52f"/><circle cx="1304.4" cy="122.3" r="4.6" fill="#35588a"/><circle cx="1111.9" cy="360.8" r="4.6" fill="#23778c"/><circle cx="1254.6" cy="192.3" r="4.6" fill="#22788c"/><circle cx="1322.2" cy="82.5" r="4.6" fill="#3b4c88"/><circle cx="1231.0" cy="200.7" r="4.6" fill="#345a8a"/><circle cx="1249.8" cy="155.9" r="4.6" fill="#453b81"/><circle cx="1111.0" cy="352.7" r="4.6" fill="#1d808c"/><circle cx="1340.5" cy="89.6" r="4.6" fill="#22a27a"/><circle cx="1130.4" cy="374.3" r="4.6" fill="#23778c"/><circle cx="1310.4" cy="98.1" r="4.6" fill="#3c4b87"/><circle cx="1234.2" cy="180.7" r="4.6" fill="#3a5088"/><circle cx="1162.0" cy="230.0" r="4.6" fill="#3d4b87"/><circle cx="1228.4" cy="196.2" r="4.6" fill="#25738c"/><circle cx="1187.3" cy="242.8" r="4.6" fill="#2d648c"/><circle cx="1199.1" cy="231.2" r="4.6" fill="#2b688c"/><circle cx="1292.9" cy="154.1" r="4.6" fill="#2d648c"/><circle cx="1263.4" cy="148.1" r="4.6" fill="#46367e"/><circle cx="1337.8" cy="94.2" r="4.6" fill="#1d9e7e"/><circle cx="1212.0" cy="276.2" r="4.6" fill="#1b868b"/><circle cx="1305.3" cy="135.2" r="4.6" fill="#286d8c"/><circle cx="1177.2" cy="311.9" r="4.6" fill="#25728c"/><circle cx="1267.3" cy="154.5" r="4.6" fill="#36568a"/><circle cx="1131.7" cy="268.3" r="4.6" fill="#325d8b"/><circle cx="1229.3" cy="255.0" r="4.6" fill="#23758c"/><circle cx="1218.4" cy="258.6" r="4.6" fill="#2a6a8c"/><circle cx="1205.4" cy="296.7" r="4.6" fill="#207b8c"/><circle cx="990.1" cy="365.3" r="4.6" fill="#286c8c"/><circle cx="1158.2" cy="340.7" r="4.6" fill="#22798c"/><circle cx="1230.0" cy="208.1" r="4.6" fill="#2b698c"/><circle cx="1332.2" cy="108.0" r="4.6" fill="#189187"/><circle cx="1305.2" cy="108.4" r="4.6" fill="#345a8a"/><circle cx="1315.6" cy="105.1" r="4.6" fill="#345a8a"/><circle cx="1234.3" cy="202.4" r="4.6" fill="#315e8b"/><circle cx="1322.2" cy="90.9" r="4.6" fill="#3a4f88"/><circle cx="1184.0" cy="247.9" r="4.6" fill="#189486"/><circle cx="1243.8" cy="187.1" r="4.6" fill="#2e638c"/><circle cx="1195.4" cy="231.2" r="4.6" fill="#37558a"/><circle cx="1120.5" cy="335.0" r="4.6" fill="#1c848b"/><circle cx="1274.0" cy="171.2" r="4.6" fill="#335b8b"/><circle cx="1259.5" cy="210.7" r="4.6" fill="#25728c"/><circle cx="1300.7" cy="99.9" r="4.6" fill="#47347d"/><circle cx="1260.9" cy="187.3" r="4.6" fill="#296b8c"/><circle cx="1237.2" cy="207.5" r="4.6" fill="#2a6a8c"/><circle cx="1259.9" cy="189.6" r="4.6" fill="#30608b"/><circle cx="1256.8" cy="209.7" r="4.6" fill="#2b688c"/><circle cx="1203.5" cy="264.6" r="4.6" fill="#1f7e8c"/><circle cx="1309.3" cy="126.4" r="4.6" fill="#25728c"/><circle cx="1304.2" cy="104.4" r="4.6" fill="#3d4a87"/><circle cx="1161.6" cy="331.8" r="4.6" fill="#1d818c"/><circle cx="1270.5" cy="171.7" r="4.6" fill="#2c678c"/><circle cx="1299.9" cy="161.4" r="4.6" fill="#315e8b"/><circle cx="1295.3" cy="102.1" r="4.6" fill="#404485"/><circle cx="1202.8" cy="249.5" r="4.6" fill="#26708c"/><circle cx="1256.2" cy="143.4" r="4.6" fill="#424084"/><circle cx="1186.0" cy="374.3" r="4.6" fill="#1a8a8a"/><circle cx="1331.8" cy="114.8" r="4.6" fill="#1f7e8c"/><circle cx="1318.5" cy="94.1" r="4.6" fill="#385389"/><circle cx="1127.7" cy="265.3" r="4.6" fill="#315e8b"/><circle cx="1228.1" cy="179.0" r="4.6" fill="#47337c"/><circle cx="1271.9" cy="143.3" r="4.6" fill="#315e8b"/><circle cx="1242.6" cy="217.8" r="4.6" fill="#276e8c"/><circle cx="1233.7" cy="167.6" r="4.6" fill="#3b4d88"/><circle cx="1225.7" cy="177.2" r="4.6" fill="#414385"/><circle cx="1255.8" cy="161.0" r="4.6" fill="#315d8b"/><circle cx="1266.1" cy="141.3" r="4.6" fill="#453b81"/><circle cx="1285.7" cy="126.7" r="4.6" fill="#3b4d88"/><circle cx="1234.3" cy="317.1" r="4.6" fill="#2b688c"/><circle cx="1251.3" cy="240.8" r="4.6" fill="#198c89"/><circle cx="1186.5" cy="281.4" r="4.6" fill="#443c82"/><circle cx="1325.2" cy="85.1" r="4.6" fill="#276f8c"/><circle cx="1283.0" cy="184.3" r="4.6" fill="#1c838c"/><circle cx="1297.4" cy="113.5" r="4.6" fill="#3f4786"/><circle cx="940.5" cy="429.8" r="4.6" fill="#35578a"/><circle cx="1289.2" cy="129.7" r="4.6" fill="#404485"/><circle cx="1208.8" cy="271.0" r="4.6" fill="#24738c"/><circle cx="1203.6" cy="209.1" r="4.6" fill="#25728c"/><circle cx="1322.2" cy="84.1" r="4.6" fill="#414285"/><circle cx="1297.7" cy="152.7" r="4.6" fill="#2e628b"/><circle cx="1189.9" cy="296.5" r="4.6" fill="#2c668c"/><circle cx="1178.2" cy="303.1" r="4.6" fill="#48317b"/><circle cx="1226.4" cy="261.5" r="4.6" fill="#24738c"/><circle cx="1190.2" cy="206.0" r="4.6" fill="#2e638c"/><circle cx="1237.7" cy="153.5" r="4.6" fill="#48317b"/><circle cx="1184.0" cy="247.7" r="4.6" fill="#36568a"/><circle cx="1293.7" cy="145.1" r="4.6" fill="#3f4786"/><circle cx="1272.5" cy="197.5" r="4.6" fill="#23768c"/><circle cx="1326.5" cy="75.4" r="4.6" fill="#37558a"/><circle cx="1293.6" cy="122.2" r="4.6" fill="#3e4886"/><circle cx="1256.1" cy="191.1" r="4.6" fill="#2c668c"/><circle cx="1254.5" cy="148.4" r="4.6" fill="#47347d"/><circle cx="1313.4" cy="144.3" r="4.6" fill="#189088"/><circle cx="1291.7" cy="129.4" r="4.6" fill="#325c8b"/><circle cx="1299.2" cy="129.2" r="4.6" fill="#25728c"/><circle cx="1171.9" cy="249.4" r="4.6" fill="#305f8b"/><circle cx="1290.1" cy="112.8" r="4.6" fill="#48317b"/><circle cx="1255.0" cy="171.3" r="4.6" fill="#3b4d88"/><circle cx="1222.7" cy="177.2" r="4.6" fill="#3f4786"/><circle cx="1321.7" cy="98.3" r="4.6" fill="#2c668c"/><circle cx="1227.0" cy="215.8" r="4.6" fill="#23768c"/><circle cx="1223.5" cy="259.3" r="4.6" fill="#2d648c"/><circle cx="1218.7" cy="244.8" r="4.6" fill="#1d818c"/><circle cx="1296.4" cy="157.7" r="4.6" fill="#2c678c"/><circle cx="1275.8" cy="143.5" r="4.6" fill="#3e4987"/><circle cx="1314.5" cy="82.1" r="4.6" fill="#35588a"/><circle cx="1292.5" cy="133.1" r="4.6" fill="#404586"/><circle cx="1214.5" cy="191.9" r="4.6" fill="#424084"/><circle cx="1249.1" cy="155.1" r="4.6" fill="#46377f"/><circle cx="1131.9" cy="329.7" r="4.6" fill="#47337c"/><circle cx="1281.9" cy="128.2" r="4.6" fill="#3a5088"/><circle cx="1237.5" cy="230.6" r="4.6" fill="#48317b"/><circle cx="1199.6" cy="241.2" r="4.6" fill="#315e8b"/><circle cx="1263.9" cy="161.7" r="4.6" fill="#2d648c"/><circle cx="1217.7" cy="195.4" r="4.6" fill="#325c8b"/><circle cx="1266.9" cy="163.5" r="4.6" fill="#207c8c"/><circle cx="1247.0" cy="176.0" r="4.6" fill="#315e8b"/><circle cx="1167.2" cy="230.1" r="4.6" fill="#404485"/><circle cx="1232.0" cy="237.3" r="4.6" fill="#2c668c"/><circle cx="1229.1" cy="185.6" r="4.6" fill="#315d8b"/><circle cx="1250.7" cy="199.3" r="4.6" fill="#24758c"/><circle cx="1274.0" cy="162.3" r="4.6" fill="#2b688c"/><circle cx="994.6" cy="374.3" r="4.6" fill="#286c8c"/><circle cx="1320.3" cy="83.9" r="4.6" fill="#443d82"/><circle cx="1308.4" cy="96.2" r="4.6" fill="#3b4e88"/><circle cx="1242.3" cy="234.5" r="4.6" fill="#1b868b"/><circle cx="1185.4" cy="374.3" r="4.6" fill="#1d808c"/><circle cx="1174.1" cy="287.9" r="4.6" fill="#2d658c"/><circle cx="1235.2" cy="170.8" r="4.6" fill="#453980"/><circle cx="1188.5" cy="234.0" r="4.6" fill="#30608b"/><circle cx="1200.2" cy="241.3" r="4.6" fill="#24738c"/><circle cx="1121.2" cy="337.8" r="4.6" fill="#1f7d8c"/><circle cx="1207.6" cy="215.1" r="4.6" fill="#375489"/><circle cx="1219.1" cy="212.7" r="4.6" fill="#3d4a87"/><circle cx="1309.1" cy="125.5" r="4.6" fill="#91c334"/><circle cx="1254.9" cy="148.2" r="4.6" fill="#453a81"/><circle cx="1209.9" cy="212.3" r="4.6" fill="#34598a"/><circle cx="1314.8" cy="90.8" r="4.6" fill="#385289"/><circle cx="1249.7" cy="177.0" r="4.6" fill="#99c52d"/><circle cx="1256.3" cy="156.1" r="4.6" fill="#3e4886"/><circle cx="1257.9" cy="194.0" r="4.6" fill="#305f8b"/><circle cx="1122.3" cy="339.2" r="4.6" fill="#286c8c"/><circle cx="1293.4" cy="133.3" r="4.6" fill="#35578a"/><circle cx="1255.8" cy="150.1" r="4.6" fill="#48327c"/><circle cx="1315.7" cy="84.1" r="4.6" fill="#3b4e88"/><circle cx="1239.8" cy="245.7" r="4.6" fill="#2a6a8c"/><circle cx="1211.0" cy="282.4" r="4.6" fill="#296c8c"/><circle cx="1189.8" cy="224.4" r="4.6" fill="#3a5088"/><circle cx="1277.1" cy="153.0" r="4.6" fill="#3c4c87"/><circle cx="1289.4" cy="158.4" r="4.6" fill="#2e628b"/><circle cx="1203.7" cy="219.2" r="4.6" fill="#217a8c"/><circle cx="1326.6" cy="73.8" r="4.6" fill="#3b4c88"/><circle cx="1285.0" cy="119.6" r="4.6" fill="#395189"/><circle cx="1302.7" cy="144.7" r="4.6" fill="#335c8b"/><circle cx="1294.5" cy="126.5" r="4.6" fill="#46367e"/><circle cx="1260.9" cy="187.6" r="4.6" fill="#2d658c"/><circle cx="1285.5" cy="174.5" r="4.6" fill="#37558a"/><circle cx="1265.7" cy="241.0" r="4.6" fill="#189486"/><circle cx="1307.6" cy="107.8" r="4.6" fill="#375489"/><circle cx="1225.2" cy="196.5" r="4.6" fill="#325d8b"/><circle cx="1241.1" cy="240.2" r="4.6" fill="#1e7f8c"/><circle cx="1121.6" cy="326.1" r="4.6" fill="#35578a"/><circle cx="1268.0" cy="150.7" r="4.6" fill="#1c9d7f"/><circle cx="1247.8" cy="265.2" r="4.6" fill="#a9ca1e"/><circle cx="1330.1" cy="70.6" r="4.6" fill="#2b698c"/><circle cx="941.9" cy="396.9" r="4.6" fill="#f6e500"/><circle cx="1196.6" cy="214.1" r="4.6" fill="#315e8b"/><circle cx="1205.7" cy="249.9" r="4.6" fill="#414385"/><circle cx="1241.2" cy="161.0" r="4.6" fill="#424184"/><circle cx="1239.0" cy="171.5" r="4.6" fill="#3e4987"/><circle cx="1226.4" cy="217.2" r="4.6" fill="#315e8b"/><circle cx="1152.7" cy="277.8" r="4.6" fill="#22788c"/><circle cx="1296.8" cy="143.8" r="4.6" fill="#2b698c"/><circle cx="1252.9" cy="149.5" r="4.6" fill="#3f4686"/><circle cx="1190.3" cy="253.5" r="4.6" fill="#443d82"/><circle cx="1281.8" cy="141.4" r="4.6" fill="#26708c"/><circle cx="1305.1" cy="126.0" r="4.6" fill="#2e638c"/><circle cx="1211.8" cy="245.4" r="4.6" fill="#375489"/><circle cx="1313.2" cy="106.9" r="4.6" fill="#34598a"/><circle cx="1201.1" cy="253.8" r="4.6" fill="#36568a"/><circle cx="1214.4" cy="276.5" r="4.6" fill="#6cb752"/><circle cx="1222.4" cy="249.0" r="4.6" fill="#217a8c"/><circle cx="1306.9" cy="109.7" r="4.6" fill="#404586"/><circle cx="1000.5" cy="352.7" r="4.6" fill="#2b688c"/><circle cx="1288.3" cy="207.6" r="4.6" fill="#f6e500"/><circle cx="1139.7" cy="294.0" r="4.6" fill="#1f7d8c"/><circle cx="1236.2" cy="187.2" r="4.6" fill="#305f8b"/><circle cx="1216.1" cy="219.6" r="4.6" fill="#36568a"/><circle cx="1307.7" cy="95.3" r="4.6" fill="#463880"/><circle cx="1185.1" cy="311.3" r="4.6" fill="#1c848b"/><circle cx="931.5" cy="403.2" r="4.6" fill="#6cb752"/><circle cx="1105.1" cy="340.4" r="4.6" fill="#21798c"/><circle cx="1326.8" cy="82.1" r="4.6" fill="#375489"/><circle cx="1279.8" cy="111.6" r="4.6" fill="#433e83"/><circle cx="1210.2" cy="222.5" r="4.6" fill="#286d8c"/><circle cx="1184.0" cy="273.5" r="4.6" fill="#2b698c"/><circle cx="1198.2" cy="388.8" r="4.6" fill="#1d808c"/><circle cx="1259.8" cy="161.6" r="4.6" fill="#385289"/><circle cx="1168.5" cy="217.8" r="4.6" fill="#395189"/><circle cx="1277.2" cy="175.3" r="4.6" fill="#305f8b"/><circle cx="1219.6" cy="276.5" r="4.6" fill="#296b8c"/><circle cx="1258.7" cy="159.0" r="4.6" fill="#424184"/><circle cx="1244.0" cy="177.5" r="4.6" fill="#37558a"/><circle cx="1210.6" cy="265.9" r="4.6" fill="#26718c"/><circle cx="1192.9" cy="220.9" r="4.6" fill="#276f8c"/><circle cx="1187.1" cy="244.6" r="4.6" fill="#2f618b"/><circle cx="1250.5" cy="244.9" r="4.6" fill="#2b688c"/><circle cx="1285.9" cy="133.8" r="4.6" fill="#3b4d88"/><circle cx="1290.9" cy="106.5" r="4.6" fill="#433e83"/><circle cx="1215.1" cy="269.6" r="4.6" fill="#26708c"/><circle cx="1220.1" cy="214.1" r="4.6" fill="#2c678c"/><circle cx="1150.5" cy="240.0" r="4.6" fill="#37558a"/><circle cx="1261.7" cy="184.8" r="4.6" fill="#345a8a"/><circle cx="1270.1" cy="140.6" r="4.6" fill="#404586"/><circle cx="1173.1" cy="243.6" r="4.6" fill="#2c668c"/><circle cx="1315.3" cy="98.6" r="4.6" fill="#345a8a"/><circle cx="982.0" cy="439.3" r="4.6" fill="#189287"/><circle cx="1245.0" cy="161.7" r="4.6" fill="#26718c"/><circle cx="1153.0" cy="350.9" r="4.6" fill="#47357e"/><circle cx="1301.5" cy="146.2" r="4.6" fill="#24758c"/><circle cx="1280.2" cy="156.7" r="4.6" fill="#34598a"/><circle cx="1342.2" cy="101.4" r="4.6" fill="#1c858b"/><circle cx="1147.0" cy="265.6" r="4.6" fill="#2f618b"/><circle cx="1322.2" cy="283.2" r="4.6" fill="#482f79"/><circle cx="988.3" cy="394.6" r="4.6" fill="#286c8c"/><circle cx="1238.8" cy="214.3" r="4.6" fill="#2d648c"/><circle cx="1129.2" cy="271.4" r="4.6" fill="#36568a"/><circle cx="1312.4" cy="89.8" r="4.6" fill="#443c82"/><circle cx="1282.8" cy="131.6" r="4.6" fill="#3f4686"/><circle cx="1192.2" cy="294.1" r="4.6" fill="#25728c"/><circle cx="1263.1" cy="178.4" r="4.6" fill="#24738c"/><circle cx="1279.0" cy="132.0" r="4.6" fill="#443c82"/><circle cx="1305.9" cy="134.3" r="4.6" fill="#305f8b"/><circle cx="1241.5" cy="186.7" r="4.6" fill="#385289"/><circle cx="1294.8" cy="104.5" r="4.6" fill="#414385"/><circle cx="1137.5" cy="251.7" r="4.6" fill="#335b8b"/><circle cx="1125.2" cy="345.0" r="4.6" fill="#24748c"/><circle cx="1273.7" cy="136.6" r="4.6" fill="#3e4987"/><circle cx="1235.0" cy="192.8" r="4.6" fill="#286d8c"/><circle cx="1317.2" cy="95.5" r="4.6" fill="#2d648c"/><circle cx="1252.9" cy="205.1" r="4.6" fill="#286d8c"/><circle cx="1118.2" cy="306.2" r="4.6" fill="#34598a"/><circle cx="1265.1" cy="197.0" r="4.6" fill="#24738c"/><circle cx="1193.8" cy="274.7" r="4.6" fill="#1e7f8c"/><circle cx="1259.1" cy="177.6" r="4.6" fill="#315e8b"/><circle cx="1266.1" cy="153.2" r="4.6" fill="#375489"/><circle cx="1174.7" cy="255.3" r="4.6" fill="#276f8c"/><circle cx="1102.9" cy="279.6" r="4.6" fill="#2b688c"/><circle cx="1227.1" cy="234.2" r="4.6" fill="#1e7f8c"/><circle cx="1257.5" cy="163.0" r="4.6" fill="#385289"/><circle cx="1011.8" cy="390.1" r="4.6" fill="#286c8c"/><circle cx="1139.0" cy="327.4" r="4.6" fill="#1e7f8c"/><circle cx="1338.9" cy="85.2" r="4.6" fill="#189088"/><circle cx="1249.0" cy="171.2" r="4.6" fill="#30608b"/><circle cx="1229.3" cy="197.9" r="4.6" fill="#24738c"/><circle cx="1231.4" cy="173.3" r="4.6" fill="#2e638c"/><circle cx="1276.4" cy="118.3" r="4.6" fill="#3e4886"/><circle cx="1165.5" cy="268.5" r="4.6" fill="#24748c"/><circle cx="1286.6" cy="136.9" r="4.6" fill="#335b8b"/><circle cx="1162.5" cy="257.5" r="4.6" fill="#315e8b"/><circle cx="1170.9" cy="248.2" r="4.6" fill="#26718c"/><circle cx="1297.8" cy="181.5" r="4.6" fill="#22a27a"/><circle cx="1219.2" cy="284.3" r="4.6" fill="#1d808c"/><circle cx="1174.7" cy="312.5" r="4.6" fill="#1d808c"/><circle cx="1225.0" cy="222.1" r="4.6" fill="#2c668c"/><circle cx="1206.1" cy="191.4" r="4.6" fill="#3f4686"/><circle cx="1235.4" cy="197.0" r="4.6" fill="#385389"/><circle cx="1262.8" cy="143.3" r="4.6" fill="#404485"/><circle cx="1226.0" cy="197.4" r="4.6" fill="#315d8b"/><circle cx="1198.9" cy="193.7" r="4.6" fill="#36568a"/><circle cx="1141.8" cy="260.4" r="4.6" fill="#3b4d88"/><circle cx="1254.9" cy="138.3" r="4.6" fill="#492b76"/><circle cx="1289.6" cy="176.1" r="4.6" fill="#1e7f8c"/><circle cx="1229.9" cy="192.8" r="4.6" fill="#3c4b87"/><circle cx="1201.8" cy="190.6" r="4.6" fill="#3a5088"/><circle cx="1265.8" cy="183.9" r="4.6" fill="#37558a"/><circle cx="1248.1" cy="218.9" r="4.6" fill="#26718c"/><circle cx="1210.9" cy="282.5" r="4.6" fill="#1a8a8a"/><circle cx="1264.0" cy="146.1" r="4.6" fill="#3b4e88"/><circle cx="1268.2" cy="180.3" r="4.6" fill="#2a6a8c"/><circle cx="1265.3" cy="151.1" r="4.6" fill="#315d8b"/><circle cx="1254.7" cy="193.6" r="4.6" fill="#2e638c"/><circle cx="1308.7" cy="118.5" r="4.6" fill="#35578a"/><circle cx="1151.1" cy="323.6" r="4.6" fill="#26708c"/><circle cx="1328.1" cy="78.0" r="4.6" fill="#2b698c"/><circle cx="1261.0" cy="177.9" r="4.6" fill="#26708c"/><circle cx="1231.4" cy="228.9" r="4.6" fill="#23768c"/><circle cx="1288.4" cy="119.8" r="4.6" fill="#433e83"/><circle cx="1298.4" cy="117.0" r="4.6" fill="#463880"/><circle cx="1294.0" cy="117.9" r="4.6" fill="#453a81"/><circle cx="1296.7" cy="114.5" r="4.6" fill="#414285"/><circle cx="1300.0" cy="156.9" r="4.6" fill="#424184"/><circle cx="1225.2" cy="228.8" r="4.6" fill="#26718c"/><circle cx="1272.6" cy="126.9" r="4.6" fill="#3e4886"/><circle cx="1221.7" cy="222.9" r="4.6" fill="#2e638c"/><circle cx="1279.9" cy="131.4" r="4.6" fill="#463880"/><circle cx="1244.6" cy="221.7" r="4.6" fill="#23768c"/><circle cx="1280.8" cy="113.9" r="4.6" fill="#3e4987"/><circle cx="1281.3" cy="149.3" r="4.6" fill="#3a4f88"/><circle cx="1298.5" cy="126.1" r="4.6" fill="#217a8c"/><circle cx="1323.5" cy="81.8" r="4.6" fill="#3c4b87"/><circle cx="1192.1" cy="280.9" r="4.6" fill="#1a8b89"/><circle cx="1273.2" cy="140.6" r="4.6" fill="#30608b"/><circle cx="1263.6" cy="328.3" r="4.6" fill="#23778c"/><circle cx="1312.9" cy="115.7" r="4.6" fill="#47367e"/><circle cx="1150.8" cy="293.7" r="4.6" fill="#305f8b"/><circle cx="1314.2" cy="117.5" r="4.6" fill="#276e8c"/><circle cx="1262.6" cy="136.0" r="4.6" fill="#3d4a87"/><circle cx="1180.0" cy="302.2" r="4.6" fill="#22788c"/><circle cx="1283.0" cy="133.8" r="4.6" fill="#3a4f88"/><circle cx="1315.9" cy="96.3" r="4.6" fill="#375489"/><circle cx="1309.8" cy="105.7" r="4.6" fill="#385389"/><circle cx="1184.1" cy="227.1" r="4.6" fill="#3f4786"/><circle cx="1183.1" cy="299.4" r="4.6" fill="#2e638c"/><circle cx="1240.6" cy="159.7" r="4.6" fill="#48327c"/><circle cx="1126.5" cy="271.2" r="4.6" fill="#2e628b"/><circle cx="1185.3" cy="262.5" r="4.6" fill="#1f7d8c"/><circle cx="1249.6" cy="183.0" r="4.6" fill="#2e628b"/><circle cx="1156.9" cy="289.2" r="4.6" fill="#335c8b"/><circle cx="1219.1" cy="180.7" r="4.6" fill="#414385"/><circle cx="1297.6" cy="109.9" r="4.6" fill="#46367e"/><circle cx="1232.5" cy="162.0" r="4.6" fill="#404485"/><circle cx="1222.4" cy="178.3" r="4.6" fill="#345a8a"/><circle cx="1295.0" cy="116.6" r="4.6" fill="#414385"/><circle cx="1252.3" cy="223.2" r="4.6" fill="#21798c"/><circle cx="1289.5" cy="187.7" r="4.6" fill="#22a27a"/><circle cx="1057.8" cy="464.5" r="4.6" fill="#23778c"/><circle cx="1252.6" cy="141.6" r="4.6" fill="#424084"/><circle cx="1263.9" cy="202.4" r="4.6" fill="#276f8c"/><circle cx="1144.3" cy="247.5" r="4.6" fill="#3b4d88"/><circle cx="1235.5" cy="214.6" r="4.6" fill="#198e88"/><circle cx="1296.2" cy="147.7" r="4.6" fill="#305f8b"/><circle cx="1314.2" cy="84.2" r="4.6" fill="#47357e"/><circle cx="1027.6" cy="384.7" r="4.6" fill="#453b81"/><circle cx="1324.9" cy="129.3" r="4.6" fill="#1c848b"/><circle cx="1216.5" cy="251.0" r="4.6" fill="#315d8b"/><circle cx="1261.6" cy="169.3" r="4.6" fill="#2e638c"/><circle cx="1236.7" cy="184.9" r="4.6" fill="#385389"/><circle cx="1297.9" cy="133.0" r="4.6" fill="#305f8b"/><circle cx="1324.0" cy="86.9" r="4.6" fill="#385289"/><circle cx="1283.1" cy="119.0" r="4.6" fill="#46377f"/><circle cx="1264.1" cy="145.3" r="4.6" fill="#2e638c"/><circle cx="1228.1" cy="184.1" r="4.6" fill="#3c4c87"/><circle cx="1350.4" cy="76.1" r="4.6" fill="#189287"/><circle cx="1204.9" cy="380.2" r="4.6" fill="#1d808c"/><circle cx="1109.1" cy="282.8" r="4.6" fill="#3d4a87"/><circle cx="1311.0" cy="99.9" r="4.6" fill="#3b4d88"/><circle cx="1279.1" cy="144.9" r="4.6" fill="#3b4e88"/><circle cx="1311.5" cy="130.5" r="4.6" fill="#189287"/><circle cx="1285.2" cy="110.3" r="4.6" fill="#47347d"/><circle cx="1272.3" cy="145.3" r="4.6" fill="#325d8b"/><circle cx="1289.5" cy="165.1" r="4.6" fill="#3c4c87"/><circle cx="1315.4" cy="92.8" r="4.6" fill="#453b81"/><circle cx="1311.3" cy="128.9" r="4.6" fill="#2d648c"/><circle cx="1189.9" cy="255.3" r="4.6" fill="#305f8b"/><circle cx="1170.6" cy="244.9" r="4.6" fill="#414385"/><circle cx="1097.5" cy="328.3" r="4.6" fill="#1d808c"/><circle cx="1156.6" cy="256.7" r="4.6" fill="#21798c"/><circle cx="1276.7" cy="162.7" r="4.6" fill="#2d648c"/><circle cx="1321.5" cy="122.8" r="4.6" fill="#207c8c"/><circle cx="1121.6" cy="341.9" r="4.6" fill="#2c678c"/><circle cx="1290.2" cy="112.1" r="4.6" fill="#404485"/><circle cx="1287.5" cy="109.9" r="4.6" fill="#453980"/><circle cx="1147.9" cy="239.0" r="4.6" fill="#375489"/><circle cx="1276.7" cy="167.3" r="4.6" fill="#30608b"/><circle cx="1282.0" cy="124.3" r="4.6" fill="#3f4786"/><circle cx="1201.8" cy="405.0" r="4.6" fill="#23778c"/><circle cx="1167.7" cy="300.6" r="4.6" fill="#286d8c"/><circle cx="1255.1" cy="202.1" r="4.6" fill="#2f618b"/><circle cx="1312.6" cy="118.9" r="4.6" fill="#2e638c"/><circle cx="1344.6" cy="87.4" r="4.6" fill="#1c848b"/><circle cx="1312.1" cy="103.6" r="4.6" fill="#335b8b"/><circle cx="1335.5" cy="100.6" r="4.6" fill="#1c858b"/><circle cx="1274.1" cy="158.3" r="4.6" fill="#207c8c"/><circle cx="1312.4" cy="122.0" r="4.6" fill="#1c858b"/><circle cx="1129.1" cy="258.6" r="4.6" fill="#2e638c"/><circle cx="1213.0" cy="202.4" r="4.6" fill="#395189"/><circle cx="1261.5" cy="155.1" r="4.6" fill="#3a5088"/><circle cx="1277.9" cy="114.9" r="4.6" fill="#47357e"/><circle cx="1255.9" cy="175.9" r="4.6" fill="#395189"/><circle cx="1290.1" cy="162.5" r="4.6" fill="#25738c"/><circle cx="1278.0" cy="146.0" r="4.6" fill="#385289"/><circle cx="1304.6" cy="113.1" r="4.6" fill="#3a4f88"/><circle cx="1340.4" cy="81.0" r="4.6" fill="#189685"/><circle cx="1302.2" cy="110.2" r="4.6" fill="#443d82"/><circle cx="1261.3" cy="148.8" r="4.6" fill="#453a81"/><circle cx="1318.4" cy="106.6" r="4.6" fill="#305f8b"/><circle cx="1241.2" cy="191.9" r="4.6" fill="#2a6a8c"/><circle cx="1205.4" cy="194.1" r="4.6" fill="#2a6a8c"/><circle cx="1340.5" cy="97.8" r="4.6" fill="#199784"/><circle cx="1139.3" cy="240.3" r="4.6" fill="#305f8b"/><circle cx="1187.2" cy="226.9" r="4.6" fill="#404485"/><circle cx="1247.4" cy="179.2" r="4.6" fill="#335b8b"/><circle cx="1235.1" cy="159.7" r="4.6" fill="#385289"/><circle cx="1233.2" cy="175.7" r="4.6" fill="#325c8b"/><circle cx="1234.6" cy="186.7" r="4.6" fill="#443c82"/><circle cx="1284.3" cy="129.0" r="4.6" fill="#3f4786"/><circle cx="1284.2" cy="115.6" r="4.6" fill="#48307a"/><circle cx="1253.3" cy="185.3" r="4.6" fill="#2e638c"/><circle cx="1171.0" cy="291.8" r="4.6" fill="#305f8b"/><circle cx="1235.1" cy="190.7" r="4.6" fill="#2b688c"/><circle cx="1244.5" cy="204.3" r="4.6" fill="#453980"/><circle cx="1135.5" cy="305.2" r="4.6" fill="#2e638c"/><circle cx="1210.2" cy="223.3" r="4.6" fill="#345a8a"/><circle cx="1261.5" cy="134.1" r="4.6" fill="#3c4b87"/><circle cx="1108.1" cy="398.5" r="4.6" fill="#189287"/><circle cx="1319.3" cy="84.4" r="4.6" fill="#3e4987"/><circle cx="1207.0" cy="185.8" r="4.6" fill="#3e4886"/><circle cx="1225.5" cy="200.8" r="4.6" fill="#23758c"/><circle cx="1280.6" cy="143.6" r="4.6" fill="#2f618b"/><circle cx="1300.0" cy="149.6" r="4.6" fill="#296b8c"/><circle cx="1131.5" cy="313.4" r="4.6" fill="#305f8b"/><circle cx="1198.1" cy="286.4" r="4.6" fill="#2a6a8c"/><circle cx="1310.4" cy="126.2" r="4.6" fill="#296a8c"/><circle cx="1326.5" cy="77.8" r="4.6" fill="#3d4a87"/><circle cx="1120.5" cy="317.7" r="4.6" fill="#30608b"/><circle cx="1314.1" cy="106.5" r="4.6" fill="#2f618b"/><circle cx="1271.7" cy="144.2" r="4.6" fill="#3d4b87"/><circle cx="1298.0" cy="126.0" r="4.6" fill="#2f618b"/><circle cx="1310.9" cy="299.9" r="4.6" fill="#2b688c"/><circle cx="1198.2" cy="365.3" r="4.6" fill="#1c858b"/><circle cx="1130.5" cy="328.4" r="4.6" fill="#2c668c"/><circle cx="1211.3" cy="203.0" r="4.6" fill="#34598a"/><circle cx="1155.1" cy="354.5" r="4.6" fill="#1d808c"/><circle cx="1259.9" cy="138.0" r="4.6" fill="#414385"/><circle cx="1199.5" cy="210.4" r="4.6" fill="#2f618b"/><circle cx="1069.5" cy="299.9" r="4.6" fill="#286c8c"/><circle cx="1139.4" cy="274.5" r="4.6" fill="#315e8b"/><circle cx="1276.5" cy="178.6" r="4.6" fill="#325d8b"/><circle cx="1319.2" cy="98.8" r="4.6" fill="#26718c"/><circle cx="1306.2" cy="149.9" r="4.6" fill="#189287"/><circle cx="1162.1" cy="324.7" r="4.6" fill="#30608b"/><circle cx="1268.5" cy="129.0" r="4.6" fill="#414285"/><circle cx="1208.2" cy="228.2" r="4.6" fill="#2a6a8c"/><circle cx="1291.7" cy="176.0" r="4.6" fill="#2f618b"/><circle cx="1288.3" cy="154.9" r="4.6" fill="#2c668c"/><circle cx="1172.6" cy="230.9" r="4.6" fill="#37558a"/><circle cx="1331.5" cy="68.4" r="4.6" fill="#2c668c"/><circle cx="1301.2" cy="149.4" r="4.6" fill="#286c8c"/><circle cx="1197.3" cy="303.1" r="4.6" fill="#217a8c"/><circle cx="1308.2" cy="101.7" r="4.6" fill="#453980"/><circle cx="1229.0" cy="194.7" r="4.6" fill="#276e8c"/><circle cx="1171.3" cy="216.3" r="4.6" fill="#3d4a87"/><circle cx="1282.1" cy="115.9" r="4.6" fill="#443d82"/><circle cx="1142.7" cy="258.0" r="4.6" fill="#385389"/><circle cx="1229.6" cy="205.0" r="4.6" fill="#2f618b"/><circle cx="1215.0" cy="185.4" r="4.6" fill="#47337c"/><circle cx="1139.6" cy="255.1" r="4.6" fill="#296b8c"/><circle cx="1287.4" cy="139.5" r="4.6" fill="#35588a"/><circle cx="1235.4" cy="194.0" r="4.6" fill="#34598a"/><circle cx="1268.4" cy="178.0" r="4.6" fill="#276f8c"/><circle cx="1042.0" cy="318.0" r="4.6" fill="#453b81"/><circle cx="1266.7" cy="198.9" r="4.6" fill="#22798c"/><circle cx="1308.9" cy="87.9" r="4.6" fill="#424084"/><circle cx="1268.9" cy="121.9" r="4.6" fill="#3b4e88"/><circle cx="1319.0" cy="89.8" r="4.6" fill="#433f83"/><circle cx="1156.2" cy="279.7" r="4.6" fill="#325d8b"/><circle cx="1237.5" cy="215.4" r="4.6" fill="#1d808c"/><circle cx="1295.0" cy="133.3" r="4.6" fill="#37558a"/><circle cx="1156.2" cy="268.1" r="4.6" fill="#2a6a8c"/><circle cx="1244.6" cy="227.2" r="4.6" fill="#25728c"/><circle cx="1286.3" cy="157.0" r="4.6" fill="#1a9a82"/><circle cx="1129.7" cy="269.4" r="4.6" fill="#325c8b"/><circle cx="1291.5" cy="139.6" r="4.6" fill="#37558a"/><circle cx="1184.1" cy="279.4" r="4.6" fill="#198f88"/><circle cx="1234.1" cy="251.2" r="4.6" fill="#217a8c"/><circle cx="1186.8" cy="245.8" r="4.6" fill="#47347d"/><circle cx="1237.3" cy="172.6" r="4.6" fill="#424084"/><circle cx="1298.7" cy="147.5" r="4.6" fill="#315d8b"/><circle cx="1335.0" cy="94.0" r="4.6" fill="#1c838c"/><circle cx="1290.4" cy="103.9" r="4.6" fill="#453980"/><circle cx="1337.7" cy="89.5" r="4.6" fill="#22788c"/><circle cx="1299.5" cy="111.5" r="4.6" fill="#3f4686"/><circle cx="1242.5" cy="231.2" r="4.6" fill="#276f8c"/><circle cx="1291.0" cy="149.4" r="4.6" fill="#2e638c"/><circle cx="1196.0" cy="250.9" r="4.6" fill="#2b688c"/><circle cx="1290.3" cy="170.4" r="4.6" fill="#414385"/><circle cx="1259.0" cy="160.8" r="4.6" fill="#3c4c87"/><circle cx="1291.9" cy="174.7" r="4.6" fill="#2f618b"/><circle cx="1331.1" cy="69.0" r="4.6" fill="#433f83"/><circle cx="1257.5" cy="206.3" r="4.6" fill="#1b878b"/><circle cx="1273.2" cy="153.4" r="4.6" fill="#3a5088"/><circle cx="1268.9" cy="173.0" r="4.6" fill="#375489"/><circle cx="1289.2" cy="123.4" r="4.6" fill="#395189"/><circle cx="1239.8" cy="246.2" r="4.6" fill="#286d8c"/><circle cx="1353.1" cy="69.8" r="4.6" fill="#198d89"/><circle cx="1298.2" cy="136.1" r="4.6" fill="#3f4686"/><circle cx="1241.2" cy="170.1" r="4.6" fill="#3f4686"/><circle cx="1320.7" cy="81.2" r="4.6" fill="#453b81"/><circle cx="1275.8" cy="141.6" r="4.6" fill="#3f4686"/><circle cx="1234.7" cy="232.4" r="4.6" fill="#25728c"/><circle cx="1235.4" cy="196.2" r="4.6" fill="#335b8b"/><circle cx="1289.0" cy="178.9" r="4.6" fill="#48317b"/><circle cx="1332.5" cy="116.1" r="4.6" fill="#189088"/><circle cx="1268.2" cy="179.1" r="4.6" fill="#2b688c"/><circle cx="1306.1" cy="118.9" r="4.6" fill="#453a81"/><circle cx="1248.8" cy="190.7" r="4.6" fill="#375489"/><circle cx="1266.1" cy="132.7" r="4.6" fill="#492c76"/><circle cx="1322.5" cy="85.1" r="4.6" fill="#385389"/><circle cx="1326.4" cy="111.7" r="4.6" fill="#1b878b"/><circle cx="1270.7" cy="129.1" r="4.6" fill="#47337c"/><circle cx="1254.2" cy="157.0" r="4.6" fill="#453980"/><circle cx="1195.7" cy="284.3" r="4.6" fill="#63b656"/><circle cx="1260.2" cy="163.6" r="4.6" fill="#3d4a87"/><circle cx="1290.5" cy="127.1" r="4.6" fill="#3b4d88"/><circle cx="1281.7" cy="183.8" r="4.6" fill="#24738c"/><circle cx="1311.0" cy="110.1" r="4.6" fill="#395189"/><circle cx="1297.7" cy="149.8" r="4.6" fill="#2c678c"/><circle cx="1313.8" cy="117.7" r="4.6" fill="#2a6a8c"/><circle cx="1283.3" cy="130.9" r="4.6" fill="#3a5088"/><circle cx="1242.6" cy="202.2" r="4.6" fill="#296b8c"/><circle cx="1275.5" cy="136.4" r="4.6" fill="#453b81"/><circle cx="1146.6" cy="330.0" r="4.6" fill="#335b8b"/><circle cx="1268.3" cy="187.5" r="4.6" fill="#2a6a8c"/><circle cx="1174.2" cy="273.2" r="4.6" fill="#2e638c"/><circle cx="1209.4" cy="256.0" r="4.6" fill="#2d658c"/><circle cx="1172.8" cy="249.3" r="4.6" fill="#276e8c"/><circle cx="1303.7" cy="113.7" r="4.6" fill="#35578a"/><circle cx="1269.5" cy="145.6" r="4.6" fill="#3e4987"/><circle cx="1117.8" cy="329.2" r="4.6" fill="#22a27a"/><circle cx="1166.4" cy="305.1" r="4.6" fill="#1e808c"/><circle cx="1346.8" cy="80.6" r="4.6" fill="#1a9b81"/><circle cx="1139.7" cy="325.8" r="4.6" fill="#21798c"/><circle cx="1297.7" cy="113.4" r="4.6" fill="#404586"/><circle cx="1289.0" cy="147.9" r="4.6" fill="#30608b"/><circle cx="1212.2" cy="241.4" r="4.6" fill="#2e638c"/><circle cx="1296.0" cy="123.0" r="4.6" fill="#3b4d88"/><circle cx="1195.0" cy="231.8" r="4.6" fill="#2d648c"/><circle cx="1191.5" cy="228.0" r="4.6" fill="#3e4987"/><circle cx="1295.8" cy="119.2" r="4.6" fill="#3b4d88"/><circle cx="1289.7" cy="161.3" r="4.6" fill="#325d8b"/><circle cx="1225.4" cy="220.8" r="4.6" fill="#25728c"/><circle cx="1275.1" cy="180.6" r="4.6" fill="#2c678c"/><circle cx="1133.1" cy="258.4" r="4.6" fill="#3c4b87"/><circle cx="1176.1" cy="278.0" r="4.6" fill="#26708c"/><circle cx="1207.7" cy="228.4" r="4.6" fill="#25728c"/><circle cx="1328.9" cy="76.3" r="4.6" fill="#276e8c"/><circle cx="1298.1" cy="151.5" r="4.6" fill="#2c678c"/><circle cx="1230.9" cy="183.8" r="4.6" fill="#3b4e88"/><circle cx="1153.0" cy="310.2" r="4.6" fill="#305f8b"/><circle cx="1299.8" cy="100.6" r="4.6" fill="#414284"/><circle cx="1271.2" cy="124.5" r="4.6" fill="#443d82"/><circle cx="1283.8" cy="184.5" r="4.6" fill="#1c838c"/><circle cx="1199.8" cy="218.1" r="4.6" fill="#3a5088"/><circle cx="1153.8" cy="268.1" r="4.6" fill="#305f8b"/><circle cx="1235.0" cy="219.1" r="4.6" fill="#47357e"/><circle cx="1298.7" cy="121.2" r="4.6" fill="#443c82"/><circle cx="1133.6" cy="318.5" r="4.6" fill="#36568a"/><circle cx="1172.1" cy="284.7" r="4.6" fill="#46367e"/><circle cx="1266.6" cy="148.6" r="4.6" fill="#3f4686"/><circle cx="1247.9" cy="183.7" r="4.6" fill="#463880"/><circle cx="1267.9" cy="156.6" r="4.6" fill="#35578a"/><circle cx="1237.9" cy="190.9" r="4.6" fill="#325d8b"/><circle cx="1268.9" cy="160.2" r="4.6" fill="#30608b"/><circle cx="1201.7" cy="265.8" r="4.6" fill="#2e628b"/><circle cx="1307.9" cy="131.9" r="4.6" fill="#2c668c"/><circle cx="1209.3" cy="238.6" r="4.6" fill="#30608b"/><circle cx="1179.2" cy="236.2" r="4.6" fill="#3b4d88"/><circle cx="1323.2" cy="107.3" r="4.6" fill="#189187"/><circle cx="1163.0" cy="230.0" r="4.6" fill="#315d8b"/><circle cx="1176.4" cy="235.8" r="4.6" fill="#3b4e88"/><circle cx="1239.3" cy="195.5" r="4.6" fill="#3a4f88"/><circle cx="1179.6" cy="254.3" r="4.6" fill="#24748c"/><circle cx="1206.3" cy="212.5" r="4.6" fill="#30608b"/><circle cx="1150.4" cy="256.2" r="4.6" fill="#2f618b"/><circle cx="1320.0" cy="85.8" r="4.6" fill="#345a8a"/><circle cx="1250.1" cy="201.4" r="4.6" fill="#2e638c"/><circle cx="1334.7" cy="106.8" r="4.6" fill="#207b8c"/><circle cx="1324.0" cy="87.6" r="4.6" fill="#35578a"/><circle cx="1199.4" cy="267.4" r="4.6" fill="#2a6a8c"/><circle cx="1089.0" cy="350.8" r="4.6" fill="#22788c"/><circle cx="1029.8" cy="336.5" r="4.6" fill="#1d808c"/><circle cx="1301.2" cy="116.4" r="4.6" fill="#2e638c"/><circle cx="1206.1" cy="294.0" r="4.6" fill="#1f7d8c"/><circle cx="1311.7" cy="109.8" r="4.6" fill="#2a6a8c"/><circle cx="1284.4" cy="147.9" r="4.6" fill="#30608b"/><circle cx="1280.9" cy="182.9" r="4.6" fill="#22778c"/><circle cx="1272.1" cy="139.2" r="4.6" fill="#453980"/><circle cx="1330.2" cy="69.1" r="4.6" fill="#3f4786"/><circle cx="1014.0" cy="383.4" r="4.6" fill="#1d808c"/><circle cx="1246.7" cy="234.2" r="4.6" fill="#453a81"/><circle cx="1287.7" cy="115.6" r="4.6" fill="#453b81"/><circle cx="1305.9" cy="94.2" r="4.6" fill="#3f4686"/><circle cx="1288.0" cy="137.1" r="4.6" fill="#315e8b"/><circle cx="1262.9" cy="198.5" r="4.6" fill="#286d8c"/><circle cx="1315.0" cy="115.5" r="4.6" fill="#2e628b"/><circle cx="1181.8" cy="249.1" r="4.6" fill="#2e638c"/><circle cx="1326.4" cy="74.0" r="4.6" fill="#3d4a87"/><circle cx="1297.1" cy="140.6" r="4.6" fill="#315e8b"/><circle cx="1272.9" cy="125.9" r="4.6" fill="#443d82"/><circle cx="1287.3" cy="130.3" r="4.6" fill="#404586"/><circle cx="1292.5" cy="161.6" r="4.6" fill="#26708c"/><circle cx="1215.3" cy="195.9" r="4.6" fill="#30608b"/><circle cx="1319.6" cy="92.5" r="4.6" fill="#385289"/><circle cx="1307.3" cy="105.4" r="4.6" fill="#395189"/><circle cx="1260.3" cy="176.0" r="4.6" fill="#2d658c"/><circle cx="1206.7" cy="250.7" r="4.6" fill="#2a6a8c"/>
</g>
<line x1="966.00" y1="31.4" x2="966.00" y2="485.9" stroke="#c0c0c0" stroke-width="1.1"/>
<line x1="1109.75" y1="31.4" x2="1109.75" y2="485.9" stroke="#c0c0c0" stroke-width="1.1"/>
<line x1="1253.50" y1="31.4" x2="1253.50" y2="485.9" stroke="#c0c0c0" stroke-width="1.1"/>
<line x1="887.1" y1="474.55" x2="1376.0" y2="474.55" stroke="#c0c0c0" stroke-width="1.1"/>
<line x1="887.1" y1="383.45" x2="1376.0" y2="383.45" stroke="#c0c0c0" stroke-width="1.1"/>
<line x1="887.1" y1="292.35" x2="1376.0" y2="292.35" stroke="#c0c0c0" stroke-width="1.1"/>
<line x1="887.1" y1="201.25" x2="1376.0" y2="201.25" stroke="#c0c0c0" stroke-width="1.1"/>
<line x1="887.1" y1="110.15" x2="1376.0" y2="110.15" stroke="#c0c0c0" stroke-width="1.1"/>
<g clip-path="url(#cr)">
<path d="M908.5,459.2 L914.1,457.3 L919.7,455.3 L925.4,453.2 L931.0,451.1 L936.6,448.8 L942.2,446.4 L947.9,444.0 L953.5,441.5 L959.1,438.8 L964.7,436.1 L970.3,433.3 L976.0,430.4 L981.6,427.4 L987.2,424.3 L992.8,421.1 L998.5,417.9 L1004.1,414.6 L1009.7,411.1 L1015.3,407.6 L1021.0,404.0 L1026.6,400.3 L1032.2,396.6 L1037.8,392.7 L1043.4,388.8 L1049.1,384.8 L1054.7,380.7 L1060.3,376.5 L1065.9,372.2 L1071.6,367.9 L1077.2,363.4 L1082.8,358.9 L1088.4,354.3 L1094.0,349.7 L1099.7,344.9 L1105.3,340.1 L1110.9,335.2 L1116.5,330.2 L1122.2,325.1 L1127.8,319.9 L1133.4,314.7 L1139.0,309.4 L1144.7,304.0 L1150.3,298.6 L1155.9,293.0 L1161.5,287.4 L1167.1,281.7 L1172.8,275.9 L1178.4,270.1 L1184.0,264.1 L1189.6,258.1 L1195.3,252.1 L1200.9,245.9 L1206.5,239.7 L1212.1,233.4 L1217.7,227.0 L1223.4,220.5 L1229.0,214.0 L1234.6,207.4 L1240.2,200.7 L1245.9,194.0 L1251.5,187.1 L1257.1,180.2 L1262.7,173.2 L1268.3,166.2 L1274.0,159.1 L1279.6,151.9 L1285.2,144.6 L1290.8,137.2 L1296.5,129.8 L1302.1,122.3 L1307.7,114.8 L1313.3,107.1 L1319.0,99.4 L1324.6,91.6 L1330.2,83.8 L1335.8,75.9 L1341.4,67.9 L1347.1,59.8 L1352.7,51.7" fill="none" stroke="#111" stroke-width="2.2" stroke-dasharray="7.4 3.5"/>
<path d="M908.5,453.4 L914.1,451.1 L919.8,448.7 L925.4,446.2 L931.0,443.7 L936.6,441.0 L942.3,438.3 L947.9,435.4 L953.5,432.5 L959.1,429.6 L964.8,426.5 L970.4,423.4 L976.0,420.1 L981.6,416.9 L987.3,413.5 L992.9,410.0 L998.5,406.5 L1004.1,403.0 L1009.8,399.3 L1015.4,395.6 L1021.0,391.8 L1026.7,387.9 L1032.3,384.0 L1037.9,380.0 L1043.5,375.9 L1049.2,371.8 L1054.8,367.6 L1060.4,363.3 L1066.0,359.0 L1071.7,354.6 L1077.3,350.2 L1082.9,345.7 L1088.5,341.1 L1094.2,336.4 L1099.8,331.7 L1105.4,327.0 L1111.0,322.2 L1116.7,317.3 L1122.3,312.3 L1127.9,307.3 L1133.6,302.3 L1139.2,297.2 L1144.8,292.0 L1150.4,286.8 L1156.1,281.5 L1161.7,276.1 L1167.3,270.7 L1172.9,265.3 L1178.6,259.8 L1184.2,254.2 L1189.8,248.6 L1195.4,242.9 L1201.1,237.1 L1206.7,231.4 L1212.3,225.5 L1217.9,219.6 L1223.6,213.7 L1229.2,207.7 L1234.8,201.6 L1240.4,195.5 L1246.1,189.3 L1251.7,183.1 L1257.3,176.9 L1263.0,170.5 L1268.6,164.2 L1274.2,157.8 L1279.8,151.3 L1285.5,144.8 L1291.1,138.2 L1296.7,131.6 L1302.3,124.9 L1308.0,118.2 L1313.6,111.4 L1319.2,104.6 L1324.8,97.7 L1330.5,90.8 L1336.1,83.9 L1341.7,76.8 L1347.3,69.8 L1353.0,62.7" fill="none" stroke="#f00" stroke-width="2.1"/>
</g>
<rect x="887.1" y="31.4" width="488.90" height="454.50" fill="none" stroke="#1a1a1a" stroke-width="1.1"/>
<line x1="966.00" y1="485.9" x2="966.00" y2="490.59999999999997" stroke="#1a1a1a" stroke-width="1.1"/>
<text x="966.00" y="514.6" text-anchor="middle" font-family="DejaVu Sans, Liberation Sans, sans-serif" font-size="24.4" fill="#1c1c1c" stroke="#1c1c1c" stroke-width="0.4">1</text>
<line x1="1109.75" y1="485.9" x2="1109.75" y2="490.59999999999997" stroke="#1a1a1a" stroke-width="1.1"/>
<text x="1109.75" y="514.6" text-anchor="middle" font-family="DejaVu Sans, Liberation Sans, sans-serif" font-size="24.4" fill="#1c1c1c" stroke="#1c1c1c" stroke-width="0.4">2</text>
<line x1="1253.50" y1="485.9" x2="1253.50" y2="490.59999999999997" stroke="#1a1a1a" stroke-width="1.1"/>
<text x="1253.50" y="514.6" text-anchor="middle" font-family="DejaVu Sans, Liberation Sans, sans-serif" font-size="24.4" fill="#1c1c1c" stroke="#1c1c1c" stroke-width="0.4">3</text>
<line x1="882.4" y1="474.55" x2="887.1" y2="474.55" stroke="#1a1a1a" stroke-width="1.1"/>
<text x="876.50" y="483.65" text-anchor="end" font-family="DejaVu Sans, Liberation Sans, sans-serif" font-size="24.4" fill="#1c1c1c" stroke="#1c1c1c" stroke-width="0.4">0</text>
<line x1="882.4" y1="383.45" x2="887.1" y2="383.45" stroke="#1a1a1a" stroke-width="1.1"/>
<text x="876.50" y="392.55" text-anchor="end" font-family="DejaVu Sans, Liberation Sans, sans-serif" font-size="24.4" fill="#1c1c1c" stroke="#1c1c1c" stroke-width="0.4">100</text>
<line x1="882.4" y1="292.35" x2="887.1" y2="292.35" stroke="#1a1a1a" stroke-width="1.1"/>
<text x="876.50" y="301.45" text-anchor="end" font-family="DejaVu Sans, Liberation Sans, sans-serif" font-size="24.4" fill="#1c1c1c" stroke="#1c1c1c" stroke-width="0.4">200</text>
<line x1="882.4" y1="201.25" x2="887.1" y2="201.25" stroke="#1a1a1a" stroke-width="1.1"/>
<text x="876.50" y="210.35" text-anchor="end" font-family="DejaVu Sans, Liberation Sans, sans-serif" font-size="24.4" fill="#1c1c1c" stroke="#1c1c1c" stroke-width="0.4">300</text>
<line x1="882.4" y1="110.15" x2="887.1" y2="110.15" stroke="#1a1a1a" stroke-width="1.1"/>
<text x="876.50" y="119.25" text-anchor="end" font-family="DejaVu Sans, Liberation Sans, sans-serif" font-size="24.4" fill="#1c1c1c" stroke="#1c1c1c" stroke-width="0.4">400</text>
<rect x="619.1" y="31.4" width="22.70" height="454.50" fill="url(#vg)" stroke="#1a1a1a" stroke-width="1.1"/>
<line x1="641.8" y1="485.70" x2="646.5" y2="485.70" stroke="#1a1a1a" stroke-width="1.1"/>
<text x="651.40" y="494.80" font-family="DejaVu Sans, Liberation Sans, sans-serif" font-size="24.4" fill="#1c1c1c" stroke="#1c1c1c" stroke-width="0.4">0.00</text>
<line x1="641.8" y1="434.93" x2="646.5" y2="434.93" stroke="#1a1a1a" stroke-width="1.1"/>
<text x="651.40" y="444.03" font-family="DejaVu Sans, Liberation Sans, sans-serif" font-size="24.4" fill="#1c1c1c" stroke="#1c1c1c" stroke-width="0.4">0.25</text>
<line x1="641.8" y1="384.15" x2="646.5" y2="384.15" stroke="#1a1a1a" stroke-width="1.1"/>
<text x="651.40" y="393.25" font-family="DejaVu Sans, Liberation Sans, sans-serif" font-size="24.4" fill="#1c1c1c" stroke="#1c1c1c" stroke-width="0.4">0.50</text>
<line x1="641.8" y1="333.38" x2="646.5" y2="333.38" stroke="#1a1a1a" stroke-width="1.1"/>
<text x="651.40" y="342.48" font-family="DejaVu Sans, Liberation Sans, sans-serif" font-size="24.4" fill="#1c1c1c" stroke="#1c1c1c" stroke-width="0.4">0.75</text>
<line x1="641.8" y1="282.60" x2="646.5" y2="282.60" stroke="#1a1a1a" stroke-width="1.1"/>
<text x="651.40" y="291.70" font-family="DejaVu Sans, Liberation Sans, sans-serif" font-size="24.4" fill="#1c1c1c" stroke="#1c1c1c" stroke-width="0.4">1.00</text>
<line x1="641.8" y1="231.82" x2="646.5" y2="231.82" stroke="#1a1a1a" stroke-width="1.1"/>
<text x="651.40" y="240.92" font-family="DejaVu Sans, Liberation Sans, sans-serif" font-size="24.4" fill="#1c1c1c" stroke="#1c1c1c" stroke-width="0.4">1.25</text>
<line x1="641.8" y1="181.05" x2="646.5" y2="181.05" stroke="#1a1a1a" stroke-width="1.1"/>
<text x="651.40" y="190.15" font-family="DejaVu Sans, Liberation Sans, sans-serif" font-size="24.4" fill="#1c1c1c" stroke="#1c1c1c" stroke-width="0.4">1.50</text>
<line x1="641.8" y1="130.27" x2="646.5" y2="130.27" stroke="#1a1a1a" stroke-width="1.1"/>
<text x="651.40" y="139.37" font-family="DejaVu Sans, Liberation Sans, sans-serif" font-size="24.4" fill="#1c1c1c" stroke="#1c1c1c" stroke-width="0.4">1.75</text>
<line x1="641.8" y1="79.50" x2="646.5" y2="79.50" stroke="#1a1a1a" stroke-width="1.1"/>
<text x="651.40" y="88.60" font-family="DejaVu Sans, Liberation Sans, sans-serif" font-size="24.4" fill="#1c1c1c" stroke="#1c1c1c" stroke-width="0.4">2.00</text>
<rect x="1406.5" y="31.4" width="22.70" height="454.50" fill="url(#vg)" stroke="#1a1a1a" stroke-width="1.1"/>
<line x1="1429.2" y1="485.70" x2="1433.9" y2="485.70" stroke="#1a1a1a" stroke-width="1.1"/>
<text x="1438.80" y="494.80" font-family="DejaVu Sans, Liberation Sans, sans-serif" font-size="24.4" fill="#1c1c1c" stroke="#1c1c1c" stroke-width="0.4">0.00</text>
<line x1="1429.2" y1="434.93" x2="1433.9" y2="434.93" stroke="#1a1a1a" stroke-width="1.1"/>
<text x="1438.80" y="444.03" font-family="DejaVu Sans, Liberation Sans, sans-serif" font-size="24.4" fill="#1c1c1c" stroke="#1c1c1c" stroke-width="0.4">0.25</text>
<line x1="1429.2" y1="384.15" x2="1433.9" y2="384.15" stroke="#1a1a1a" stroke-width="1.1"/>
<text x="1438.80" y="393.25" font-family="DejaVu Sans, Liberation Sans, sans-serif" font-size="24.4" fill="#1c1c1c" stroke="#1c1c1c" stroke-width="0.4">0.50</text>
<line x1="1429.2" y1="333.38" x2="1433.9" y2="333.38" stroke="#1a1a1a" stroke-width="1.1"/>
<text x="1438.80" y="342.48" font-family="DejaVu Sans, Liberation Sans, sans-serif" font-size="24.4" fill="#1c1c1c" stroke="#1c1c1c" stroke-width="0.4">0.75</text>
<line x1="1429.2" y1="282.60" x2="1433.9" y2="282.60" stroke="#1a1a1a" stroke-width="1.1"/>
<text x="1438.80" y="291.70" font-family="DejaVu Sans, Liberation Sans, sans-serif" font-size="24.4" fill="#1c1c1c" stroke="#1c1c1c" stroke-width="0.4">1.00</text>
<line x1="1429.2" y1="231.82" x2="1433.9" y2="231.82" stroke="#1a1a1a" stroke-width="1.1"/>
<text x="1438.80" y="240.92" font-family="DejaVu Sans, Liberation Sans, sans-serif" font-size="24.4" fill="#1c1c1c" stroke="#1c1c1c" stroke-width="0.4">1.25</text>
<line x1="1429.2" y1="181.05" x2="1433.9" y2="181.05" stroke="#1a1a1a" stroke-width="1.1"/>
<text x="1438.80" y="190.15" font-family="DejaVu Sans, Liberation Sans, sans-serif" font-size="24.4" fill="#1c1c1c" stroke="#1c1c1c" stroke-width="0.4">1.50</text>
<line x1="1429.2" y1="130.27" x2="1433.9" y2="130.27" stroke="#1a1a1a" stroke-width="1.1"/>
<text x="1438.80" y="139.37" font-family="DejaVu Sans, Liberation Sans, sans-serif" font-size="24.4" fill="#1c1c1c" stroke="#1c1c1c" stroke-width="0.4">1.75</text>
<line x1="1429.2" y1="79.50" x2="1433.9" y2="79.50" stroke="#1a1a1a" stroke-width="1.1"/>
<text x="1438.80" y="88.60" font-family="DejaVu Sans, Liberation Sans, sans-serif" font-size="24.4" fill="#1c1c1c" stroke="#1c1c1c" stroke-width="0.4">2.00</text>
<text transform="translate(339.05,541.4) rotate(0) scale(0.808,1)" text-anchor="middle" word-spacing="0" font-family="Liberation Sans, sans-serif" font-size="32" fill="#000" stroke="#000" stroke-width="0.6">Плотность</text>
<text transform="translate(1132.9,541.4) rotate(0) scale(0.808,1)" text-anchor="middle" word-spacing="0" font-family="Liberation Sans, sans-serif" font-size="32" fill="#000" stroke="#000" stroke-width="0.6">Плотность</text>
<text transform="translate(34.3,269.9) rotate(-90) scale(0.808,1)" text-anchor="middle" word-spacing="0" font-family="Liberation Sans, sans-serif" font-size="32" fill="#000" stroke="#000" stroke-width="0.6">Твердость</text>
<text transform="translate(822,267.4) rotate(-90) scale(0.808,1)" text-anchor="middle" word-spacing="7.3" font-family="Liberation Sans, sans-serif" font-size="32" fill="#000" stroke="#000" stroke-width="0.6">Объемный модуль упругости</text>
<text transform="translate(718.4,250.5) rotate(90) scale(0.808,1)" text-anchor="middle" word-spacing="5.7" font-family="Liberation Sans, sans-serif" font-size="32" fill="#000" stroke="#000" stroke-width="0.6">Относительная энергия</text>
<text transform="translate(1511.3,250.5) rotate(90) scale(0.808,1)" text-anchor="middle" word-spacing="5.7" font-family="Liberation Sans, sans-serif" font-size="32" fill="#000" stroke="#000" stroke-width="0.6">Относительная энергия</text>
</svg>
</body></html>
